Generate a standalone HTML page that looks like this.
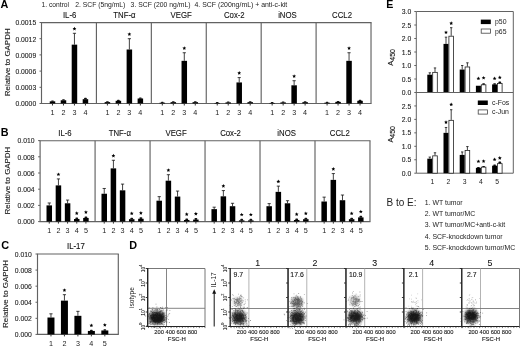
<!DOCTYPE html>
<html><head><meta charset="utf-8"><style>
html,body{margin:0;padding:0;background:#fff;}
svg{display:block;font-family:"Liberation Sans", sans-serif;will-change:transform;filter:blur(0.3px);}
</style></head><body>
<svg width="520" height="346" viewBox="0 0 520 346">
<defs><filter id="bl" x="-50%" y="-50%" width="200%" height="200%"><feGaussianBlur stdDeviation="1.2"/></filter></defs>
<rect width="520" height="346" fill="#fff"/>
<text x="0.50" y="8.20" font-size="10.8" text-anchor="start" font-weight="bold" fill="#000" >A</text>
<text x="0.70" y="135.60" font-size="10.8" text-anchor="start" font-weight="bold" fill="#000" >B</text>
<text x="1.20" y="248.60" font-size="10.9" text-anchor="start" font-weight="bold" fill="#000" >C</text>
<text x="129.30" y="248.60" font-size="10.8" text-anchor="start" font-weight="bold" fill="#000" >D</text>
<text x="386.20" y="8.30" font-size="10.6" text-anchor="start" font-weight="bold" fill="#000" >E</text>
<text x="41.50" y="7.30" font-size="6.7" text-anchor="start" font-weight="normal" fill="#222" textLength="27.6" lengthAdjust="spacingAndGlyphs">1. control</text>
<text x="75.20" y="7.30" font-size="6.7" text-anchor="start" font-weight="normal" fill="#222" textLength="50.2" lengthAdjust="spacingAndGlyphs">2. SCF (5ng/mL)</text>
<text x="130.60" y="7.30" font-size="6.7" text-anchor="start" font-weight="normal" fill="#222" textLength="60" lengthAdjust="spacingAndGlyphs">3. SCF (200 ng/mL)</text>
<text x="194.50" y="7.30" font-size="6.7" text-anchor="start" font-weight="normal" fill="#222" textLength="92.8" lengthAdjust="spacingAndGlyphs">4. SCF (200ng/mL) + anti-c-kit</text>
<line x1="41.00" y1="22.60" x2="371.52" y2="22.60" stroke="#626262" stroke-width="1.15"/>
<line x1="41.00" y1="103.50" x2="371.52" y2="103.50" stroke="#626262" stroke-width="1.15"/>
<line x1="41.50" y1="22.60" x2="41.50" y2="103.50" stroke="#626262" stroke-width="1.15"/>
<line x1="96.42" y1="22.60" x2="96.42" y2="103.50" stroke="#626262" stroke-width="1.15"/>
<line x1="151.34" y1="22.60" x2="151.34" y2="103.50" stroke="#626262" stroke-width="1.15"/>
<line x1="206.26" y1="22.60" x2="206.26" y2="103.50" stroke="#626262" stroke-width="1.15"/>
<line x1="261.18" y1="22.60" x2="261.18" y2="103.50" stroke="#626262" stroke-width="1.15"/>
<line x1="316.10" y1="22.60" x2="316.10" y2="103.50" stroke="#626262" stroke-width="1.15"/>
<line x1="371.02" y1="22.60" x2="371.02" y2="103.50" stroke="#626262" stroke-width="1.15"/>
<line x1="39.50" y1="22.50" x2="41.50" y2="22.50" stroke="#626262" stroke-width="1"/>
<text x="36.20" y="25.30" font-size="6.8" text-anchor="end" font-weight="normal" fill="#222" stroke="#222" stroke-width="0.1">0.0015</text>
<line x1="39.50" y1="38.70" x2="41.50" y2="38.70" stroke="#626262" stroke-width="1"/>
<text x="36.20" y="41.50" font-size="6.8" text-anchor="end" font-weight="normal" fill="#222" stroke="#222" stroke-width="0.1">0.0012</text>
<line x1="39.50" y1="54.90" x2="41.50" y2="54.90" stroke="#626262" stroke-width="1"/>
<text x="36.20" y="57.70" font-size="6.8" text-anchor="end" font-weight="normal" fill="#222" stroke="#222" stroke-width="0.1">0.0009</text>
<line x1="39.50" y1="71.10" x2="41.50" y2="71.10" stroke="#626262" stroke-width="1"/>
<text x="36.20" y="73.90" font-size="6.8" text-anchor="end" font-weight="normal" fill="#222" stroke="#222" stroke-width="0.1">0.0006</text>
<line x1="39.50" y1="87.30" x2="41.50" y2="87.30" stroke="#626262" stroke-width="1"/>
<text x="36.20" y="90.10" font-size="6.8" text-anchor="end" font-weight="normal" fill="#222" stroke="#222" stroke-width="0.1">0.0003</text>
<line x1="39.50" y1="103.50" x2="41.50" y2="103.50" stroke="#626262" stroke-width="1"/>
<text x="36.20" y="106.30" font-size="6.8" text-anchor="end" font-weight="normal" fill="#222" stroke="#222" stroke-width="0.1">0.0000</text>
<text transform="translate(69.66,18.40) scale(0.867,1)" font-size="9.0" text-anchor="middle" fill="#111" stroke="#111" stroke-width="0.1">IL-6</text>
<rect x="49.73" y="101.34" width="5.50" height="2.16" fill="#000" stroke="none" stroke-width="0"/>
<rect x="51.08" y="100.39" width="2.8" height="1.25" rx="0.8" fill="#111"/>
<text x="52.48" y="114.80" font-size="7.2" text-anchor="middle" font-weight="normal" fill="#222" >1</text>
<line x1="52.48" y1="103.50" x2="52.48" y2="105.50" stroke="#333" stroke-width="1.0"/>
<rect x="60.72" y="100.26" width="5.50" height="3.24" fill="#000" stroke="none" stroke-width="0"/>
<rect x="62.07" y="99.31" width="2.8" height="1.25" rx="0.8" fill="#111"/>
<text x="63.47" y="114.80" font-size="7.2" text-anchor="middle" font-weight="normal" fill="#222" >2</text>
<line x1="63.47" y1="103.50" x2="63.47" y2="105.50" stroke="#333" stroke-width="1.0"/>
<rect x="71.70" y="44.64" width="5.50" height="58.86" fill="#000" stroke="none" stroke-width="0"/>
<line x1="74.45" y1="44.64" x2="74.45" y2="33.30" stroke="#111" stroke-width="0.8"/>
<line x1="72.85" y1="33.30" x2="76.05" y2="33.30" stroke="#111" stroke-width="0.8"/>
<polygon points="74.45,26.80 75.01,28.03 76.35,28.18 75.36,29.09 75.63,30.42 74.45,29.75 73.28,30.42 73.55,29.09 72.55,28.18 73.89,28.03" fill="#000"/>
<text x="74.45" y="114.80" font-size="7.2" text-anchor="middle" font-weight="normal" fill="#222" >3</text>
<line x1="74.45" y1="103.50" x2="74.45" y2="105.50" stroke="#333" stroke-width="1.0"/>
<rect x="82.69" y="99.18" width="5.50" height="4.32" fill="#000" stroke="none" stroke-width="0"/>
<rect x="84.04" y="97.80" width="2.8" height="1.68" rx="0.8" fill="#111"/>
<text x="85.44" y="114.80" font-size="7.2" text-anchor="middle" font-weight="normal" fill="#222" >4</text>
<line x1="85.44" y1="103.50" x2="85.44" y2="105.50" stroke="#333" stroke-width="1.0"/>
<text transform="translate(124.48,18.40) scale(0.867,1)" font-size="9.0" text-anchor="middle" fill="#111" stroke="#111" stroke-width="0.1">TNF-α</text>
<rect x="104.65" y="102.10" width="5.50" height="1.40" fill="#000" stroke="none" stroke-width="0"/>
<rect x="106.00" y="101.15" width="2.8" height="1.25" rx="0.8" fill="#111"/>
<text x="107.40" y="114.80" font-size="7.2" text-anchor="middle" font-weight="normal" fill="#222" >1</text>
<line x1="107.40" y1="103.50" x2="107.40" y2="105.50" stroke="#333" stroke-width="1.0"/>
<rect x="115.64" y="100.80" width="5.50" height="2.70" fill="#000" stroke="none" stroke-width="0"/>
<rect x="116.99" y="99.85" width="2.8" height="1.25" rx="0.8" fill="#111"/>
<text x="118.39" y="114.80" font-size="7.2" text-anchor="middle" font-weight="normal" fill="#222" >2</text>
<line x1="118.39" y1="103.50" x2="118.39" y2="105.50" stroke="#333" stroke-width="1.0"/>
<rect x="126.62" y="49.50" width="5.50" height="54.00" fill="#000" stroke="none" stroke-width="0"/>
<line x1="129.37" y1="49.50" x2="129.37" y2="38.70" stroke="#111" stroke-width="0.8"/>
<line x1="127.77" y1="38.70" x2="130.97" y2="38.70" stroke="#111" stroke-width="0.8"/>
<polygon points="129.37,32.20 129.93,33.43 131.27,33.58 130.28,34.49 130.55,35.82 129.37,35.15 128.20,35.82 128.47,34.49 127.47,33.58 128.81,33.43" fill="#000"/>
<text x="129.37" y="114.80" font-size="7.2" text-anchor="middle" font-weight="normal" fill="#222" >3</text>
<line x1="129.37" y1="103.50" x2="129.37" y2="105.50" stroke="#333" stroke-width="1.0"/>
<rect x="137.61" y="98.48" width="5.50" height="5.02" fill="#000" stroke="none" stroke-width="0"/>
<rect x="138.96" y="97.53" width="2.8" height="1.25" rx="0.8" fill="#111"/>
<text x="140.36" y="114.80" font-size="7.2" text-anchor="middle" font-weight="normal" fill="#222" >4</text>
<line x1="140.36" y1="103.50" x2="140.36" y2="105.50" stroke="#333" stroke-width="1.0"/>
<text transform="translate(181.20,18.40) scale(0.867,1)" font-size="9.0" text-anchor="middle" fill="#111" stroke="#111" stroke-width="0.1">VEGF</text>
<rect x="159.57" y="102.69" width="5.50" height="0.81" fill="#000" stroke="none" stroke-width="0"/>
<rect x="160.92" y="101.74" width="2.8" height="1.25" rx="0.8" fill="#111"/>
<text x="162.32" y="114.80" font-size="7.2" text-anchor="middle" font-weight="normal" fill="#222" >1</text>
<line x1="162.32" y1="103.50" x2="162.32" y2="105.50" stroke="#333" stroke-width="1.0"/>
<rect x="170.56" y="102.15" width="5.50" height="1.35" fill="#000" stroke="none" stroke-width="0"/>
<rect x="171.91" y="101.20" width="2.8" height="1.25" rx="0.8" fill="#111"/>
<text x="173.31" y="114.80" font-size="7.2" text-anchor="middle" font-weight="normal" fill="#222" >2</text>
<line x1="173.31" y1="103.50" x2="173.31" y2="105.50" stroke="#333" stroke-width="1.0"/>
<rect x="181.54" y="60.84" width="5.50" height="42.66" fill="#000" stroke="none" stroke-width="0"/>
<line x1="184.29" y1="60.84" x2="184.29" y2="52.74" stroke="#111" stroke-width="0.8"/>
<line x1="182.69" y1="52.74" x2="185.89" y2="52.74" stroke="#111" stroke-width="0.8"/>
<polygon points="184.29,46.24 184.85,47.47 186.19,47.62 185.20,48.53 185.47,49.86 184.29,49.19 183.12,49.86 183.39,48.53 182.39,47.62 183.73,47.47" fill="#000"/>
<text x="184.29" y="114.80" font-size="7.2" text-anchor="middle" font-weight="normal" fill="#222" >3</text>
<line x1="184.29" y1="103.50" x2="184.29" y2="105.50" stroke="#333" stroke-width="1.0"/>
<rect x="192.53" y="102.15" width="5.50" height="1.35" fill="#000" stroke="none" stroke-width="0"/>
<rect x="193.88" y="101.20" width="2.8" height="1.25" rx="0.8" fill="#111"/>
<text x="195.28" y="114.80" font-size="7.2" text-anchor="middle" font-weight="normal" fill="#222" >4</text>
<line x1="195.28" y1="103.50" x2="195.28" y2="105.50" stroke="#333" stroke-width="1.0"/>
<text transform="translate(234.32,18.40) scale(0.867,1)" font-size="9.0" text-anchor="middle" fill="#111" stroke="#111" stroke-width="0.1">Cox-2</text>
<rect x="214.49" y="102.96" width="5.50" height="0.54" fill="#000" stroke="none" stroke-width="0"/>
<rect x="215.84" y="102.01" width="2.8" height="1.25" rx="0.8" fill="#111"/>
<text x="217.24" y="114.80" font-size="7.2" text-anchor="middle" font-weight="normal" fill="#222" >1</text>
<line x1="217.24" y1="103.50" x2="217.24" y2="105.50" stroke="#333" stroke-width="1.0"/>
<rect x="225.48" y="102.42" width="5.50" height="1.08" fill="#000" stroke="none" stroke-width="0"/>
<rect x="226.83" y="101.47" width="2.8" height="1.25" rx="0.8" fill="#111"/>
<text x="228.23" y="114.80" font-size="7.2" text-anchor="middle" font-weight="normal" fill="#222" >2</text>
<line x1="228.23" y1="103.50" x2="228.23" y2="105.50" stroke="#333" stroke-width="1.0"/>
<rect x="236.46" y="82.44" width="5.50" height="21.06" fill="#000" stroke="none" stroke-width="0"/>
<line x1="239.21" y1="82.44" x2="239.21" y2="77.58" stroke="#111" stroke-width="0.8"/>
<line x1="237.61" y1="77.58" x2="240.81" y2="77.58" stroke="#111" stroke-width="0.8"/>
<polygon points="239.21,71.08 239.77,72.31 241.11,72.46 240.12,73.37 240.39,74.70 239.21,74.03 238.04,74.70 238.31,73.37 237.31,72.46 238.65,72.31" fill="#000"/>
<text x="239.21" y="114.80" font-size="7.2" text-anchor="middle" font-weight="normal" fill="#222" >3</text>
<line x1="239.21" y1="103.50" x2="239.21" y2="105.50" stroke="#333" stroke-width="1.0"/>
<rect x="247.45" y="102.15" width="5.50" height="1.35" fill="#000" stroke="none" stroke-width="0"/>
<rect x="248.80" y="101.20" width="2.8" height="1.25" rx="0.8" fill="#111"/>
<text x="250.20" y="114.80" font-size="7.2" text-anchor="middle" font-weight="normal" fill="#222" >4</text>
<line x1="250.20" y1="103.50" x2="250.20" y2="105.50" stroke="#333" stroke-width="1.0"/>
<text transform="translate(287.44,18.40) scale(0.867,1)" font-size="9.0" text-anchor="middle" fill="#111" stroke="#111" stroke-width="0.1">iNOS</text>
<rect x="269.41" y="102.96" width="5.50" height="0.54" fill="#000" stroke="none" stroke-width="0"/>
<rect x="270.76" y="102.01" width="2.8" height="1.25" rx="0.8" fill="#111"/>
<text x="272.16" y="114.80" font-size="7.2" text-anchor="middle" font-weight="normal" fill="#222" >1</text>
<line x1="272.16" y1="103.50" x2="272.16" y2="105.50" stroke="#333" stroke-width="1.0"/>
<rect x="280.40" y="102.42" width="5.50" height="1.08" fill="#000" stroke="none" stroke-width="0"/>
<rect x="281.75" y="101.47" width="2.8" height="1.25" rx="0.8" fill="#111"/>
<text x="283.15" y="114.80" font-size="7.2" text-anchor="middle" font-weight="normal" fill="#222" >2</text>
<line x1="283.15" y1="103.50" x2="283.15" y2="105.50" stroke="#333" stroke-width="1.0"/>
<rect x="291.38" y="85.30" width="5.50" height="18.20" fill="#000" stroke="none" stroke-width="0"/>
<line x1="294.13" y1="85.30" x2="294.13" y2="80.71" stroke="#111" stroke-width="0.8"/>
<line x1="292.53" y1="80.71" x2="295.73" y2="80.71" stroke="#111" stroke-width="0.8"/>
<polygon points="294.13,74.21 294.69,75.44 296.03,75.59 295.04,76.51 295.31,77.83 294.13,77.16 292.96,77.83 293.23,76.51 292.23,75.59 293.57,75.44" fill="#000"/>
<text x="294.13" y="114.80" font-size="7.2" text-anchor="middle" font-weight="normal" fill="#222" >3</text>
<line x1="294.13" y1="103.50" x2="294.13" y2="105.50" stroke="#333" stroke-width="1.0"/>
<rect x="302.37" y="102.15" width="5.50" height="1.35" fill="#000" stroke="none" stroke-width="0"/>
<rect x="303.72" y="101.20" width="2.8" height="1.25" rx="0.8" fill="#111"/>
<text x="305.12" y="114.80" font-size="7.2" text-anchor="middle" font-weight="normal" fill="#222" >4</text>
<line x1="305.12" y1="103.50" x2="305.12" y2="105.50" stroke="#333" stroke-width="1.0"/>
<text transform="translate(342.06,18.40) scale(0.867,1)" font-size="9.0" text-anchor="middle" fill="#111" stroke="#111" stroke-width="0.1">CCL2</text>
<rect x="324.33" y="102.69" width="5.50" height="0.81" fill="#000" stroke="none" stroke-width="0"/>
<rect x="325.68" y="101.74" width="2.8" height="1.25" rx="0.8" fill="#111"/>
<text x="327.08" y="114.80" font-size="7.2" text-anchor="middle" font-weight="normal" fill="#222" >1</text>
<line x1="327.08" y1="103.50" x2="327.08" y2="105.50" stroke="#333" stroke-width="1.0"/>
<rect x="335.32" y="101.88" width="5.50" height="1.62" fill="#000" stroke="none" stroke-width="0"/>
<rect x="336.67" y="100.93" width="2.8" height="1.25" rx="0.8" fill="#111"/>
<text x="338.07" y="114.80" font-size="7.2" text-anchor="middle" font-weight="normal" fill="#222" >2</text>
<line x1="338.07" y1="103.50" x2="338.07" y2="105.50" stroke="#333" stroke-width="1.0"/>
<rect x="346.30" y="60.84" width="5.50" height="42.66" fill="#000" stroke="none" stroke-width="0"/>
<line x1="349.05" y1="60.84" x2="349.05" y2="52.74" stroke="#111" stroke-width="0.8"/>
<line x1="347.45" y1="52.74" x2="350.65" y2="52.74" stroke="#111" stroke-width="0.8"/>
<polygon points="349.05,46.24 349.61,47.47 350.95,47.62 349.96,48.53 350.23,49.86 349.05,49.19 347.88,49.86 348.15,48.53 347.15,47.62 348.49,47.47" fill="#000"/>
<text x="349.05" y="114.80" font-size="7.2" text-anchor="middle" font-weight="normal" fill="#222" >3</text>
<line x1="349.05" y1="103.50" x2="349.05" y2="105.50" stroke="#333" stroke-width="1.0"/>
<rect x="357.29" y="100.80" width="5.50" height="2.70" fill="#000" stroke="none" stroke-width="0"/>
<rect x="358.64" y="99.85" width="2.8" height="1.25" rx="0.8" fill="#111"/>
<text x="360.04" y="114.80" font-size="7.2" text-anchor="middle" font-weight="normal" fill="#222" >4</text>
<line x1="360.04" y1="103.50" x2="360.04" y2="105.50" stroke="#333" stroke-width="1.0"/>
<text x="0.00" y="0.00" font-size="1" text-anchor="start" font-weight="normal" fill="#222" ></text>
<text transform="translate(9.7,62.3) rotate(-90) scale(1.25,1)" font-size="6.35" text-anchor="middle" fill="#222" stroke="#222" stroke-width="0.1">Relative to GAPDH</text>
<line x1="39.60" y1="140.70" x2="370.48" y2="140.70" stroke="#626262" stroke-width="1.15"/>
<line x1="39.60" y1="221.60" x2="370.48" y2="221.60" stroke="#626262" stroke-width="1.15"/>
<line x1="40.10" y1="140.70" x2="40.10" y2="221.60" stroke="#626262" stroke-width="1.15"/>
<line x1="95.08" y1="140.70" x2="95.08" y2="221.60" stroke="#626262" stroke-width="1.15"/>
<line x1="150.06" y1="140.70" x2="150.06" y2="221.60" stroke="#626262" stroke-width="1.15"/>
<line x1="205.04" y1="140.70" x2="205.04" y2="221.60" stroke="#626262" stroke-width="1.15"/>
<line x1="260.02" y1="140.70" x2="260.02" y2="221.60" stroke="#626262" stroke-width="1.15"/>
<line x1="315.00" y1="140.70" x2="315.00" y2="221.60" stroke="#626262" stroke-width="1.15"/>
<line x1="369.98" y1="140.70" x2="369.98" y2="221.60" stroke="#626262" stroke-width="1.15"/>
<line x1="38.10" y1="140.60" x2="40.10" y2="140.60" stroke="#626262" stroke-width="1"/>
<text x="34.60" y="143.40" font-size="6.8" text-anchor="end" font-weight="normal" fill="#222" stroke="#222" stroke-width="0.1">0.010</text>
<line x1="38.10" y1="156.80" x2="40.10" y2="156.80" stroke="#626262" stroke-width="1"/>
<text x="34.60" y="159.60" font-size="6.8" text-anchor="end" font-weight="normal" fill="#222" stroke="#222" stroke-width="0.1">0.008</text>
<line x1="38.10" y1="173.00" x2="40.10" y2="173.00" stroke="#626262" stroke-width="1"/>
<text x="34.60" y="175.80" font-size="6.8" text-anchor="end" font-weight="normal" fill="#222" stroke="#222" stroke-width="0.1">0.006</text>
<line x1="38.10" y1="189.20" x2="40.10" y2="189.20" stroke="#626262" stroke-width="1"/>
<text x="34.60" y="192.00" font-size="6.8" text-anchor="end" font-weight="normal" fill="#222" stroke="#222" stroke-width="0.1">0.004</text>
<line x1="38.10" y1="205.40" x2="40.10" y2="205.40" stroke="#626262" stroke-width="1"/>
<text x="34.60" y="208.20" font-size="6.8" text-anchor="end" font-weight="normal" fill="#222" stroke="#222" stroke-width="0.1">0.002</text>
<line x1="38.10" y1="221.60" x2="40.10" y2="221.60" stroke="#626262" stroke-width="1"/>
<text x="34.60" y="224.40" font-size="6.8" text-anchor="end" font-weight="normal" fill="#222" stroke="#222" stroke-width="0.1">0.000</text>
<text transform="translate(64.99,135.90) scale(0.867,1)" font-size="9.0" text-anchor="middle" fill="#111" stroke="#111" stroke-width="0.1">IL-6</text>
<rect x="46.51" y="205.40" width="5.50" height="16.20" fill="#000" stroke="none" stroke-width="0"/>
<line x1="49.26" y1="205.40" x2="49.26" y2="202.97" stroke="#111" stroke-width="0.8"/>
<line x1="47.66" y1="202.97" x2="50.86" y2="202.97" stroke="#111" stroke-width="0.8"/>
<text x="49.26" y="233.20" font-size="7.2" text-anchor="middle" font-weight="normal" fill="#222" >1</text>
<line x1="49.26" y1="221.60" x2="49.26" y2="223.60" stroke="#333" stroke-width="1.0"/>
<rect x="55.68" y="185.39" width="5.50" height="36.21" fill="#000" stroke="none" stroke-width="0"/>
<line x1="58.43" y1="185.39" x2="58.43" y2="178.91" stroke="#111" stroke-width="0.8"/>
<line x1="56.83" y1="178.91" x2="60.03" y2="178.91" stroke="#111" stroke-width="0.8"/>
<polygon points="58.43,172.41 58.99,173.64 60.33,173.79 59.33,174.71 59.60,176.03 58.43,175.36 57.25,176.03 57.52,174.71 56.52,173.79 57.87,173.64" fill="#000"/>
<text x="58.43" y="233.20" font-size="7.2" text-anchor="middle" font-weight="normal" fill="#222" >2</text>
<line x1="58.43" y1="221.60" x2="58.43" y2="223.60" stroke="#333" stroke-width="1.0"/>
<rect x="64.84" y="203.29" width="5.50" height="18.31" fill="#000" stroke="none" stroke-width="0"/>
<line x1="67.59" y1="203.29" x2="67.59" y2="200.05" stroke="#111" stroke-width="0.8"/>
<line x1="65.99" y1="200.05" x2="69.19" y2="200.05" stroke="#111" stroke-width="0.8"/>
<text x="67.59" y="233.20" font-size="7.2" text-anchor="middle" font-weight="normal" fill="#222" >3</text>
<line x1="67.59" y1="221.60" x2="67.59" y2="223.60" stroke="#333" stroke-width="1.0"/>
<rect x="74.00" y="219.01" width="5.50" height="2.59" fill="#000" stroke="none" stroke-width="0"/>
<rect x="75.35" y="217.49" width="2.8" height="1.81" rx="0.8" fill="#111"/>
<polygon points="76.75,211.29 77.31,212.52 78.66,212.67 77.66,213.59 77.93,214.91 76.75,214.24 75.58,214.91 75.85,213.59 74.85,212.67 76.19,212.52" fill="#000"/>
<text x="76.75" y="233.20" font-size="7.2" text-anchor="middle" font-weight="normal" fill="#222" >4</text>
<line x1="76.75" y1="221.60" x2="76.75" y2="223.60" stroke="#333" stroke-width="1.0"/>
<rect x="83.17" y="217.95" width="5.50" height="3.65" fill="#000" stroke="none" stroke-width="0"/>
<rect x="84.52" y="216.44" width="2.8" height="1.81" rx="0.8" fill="#111"/>
<polygon points="85.92,210.24 86.48,211.47 87.82,211.62 86.82,212.53 87.09,213.86 85.92,213.19 84.74,213.86 85.01,212.53 84.01,211.62 85.36,211.47" fill="#000"/>
<text x="85.92" y="233.20" font-size="7.2" text-anchor="middle" font-weight="normal" fill="#222" >5</text>
<line x1="85.92" y1="221.60" x2="85.92" y2="223.60" stroke="#333" stroke-width="1.0"/>
<text transform="translate(119.77,135.90) scale(0.867,1)" font-size="9.0" text-anchor="middle" fill="#111" stroke="#111" stroke-width="0.1">TNF-α</text>
<rect x="101.49" y="193.74" width="5.50" height="27.86" fill="#000" stroke="none" stroke-width="0"/>
<line x1="104.24" y1="193.74" x2="104.24" y2="188.47" stroke="#111" stroke-width="0.8"/>
<line x1="102.64" y1="188.47" x2="105.84" y2="188.47" stroke="#111" stroke-width="0.8"/>
<text x="104.24" y="233.20" font-size="7.2" text-anchor="middle" font-weight="normal" fill="#222" >1</text>
<line x1="104.24" y1="221.60" x2="104.24" y2="223.60" stroke="#333" stroke-width="1.0"/>
<rect x="110.66" y="168.38" width="5.50" height="53.22" fill="#000" stroke="none" stroke-width="0"/>
<line x1="113.41" y1="168.38" x2="113.41" y2="160.28" stroke="#111" stroke-width="0.8"/>
<line x1="111.81" y1="160.28" x2="115.01" y2="160.28" stroke="#111" stroke-width="0.8"/>
<polygon points="113.41,153.78 113.97,155.01 115.31,155.16 114.31,156.08 114.58,157.40 113.41,156.73 112.23,157.40 112.50,156.08 111.50,155.16 112.85,155.01" fill="#000"/>
<text x="113.41" y="233.20" font-size="7.2" text-anchor="middle" font-weight="normal" fill="#222" >2</text>
<line x1="113.41" y1="221.60" x2="113.41" y2="223.60" stroke="#333" stroke-width="1.0"/>
<rect x="119.82" y="190.33" width="5.50" height="31.27" fill="#000" stroke="none" stroke-width="0"/>
<line x1="122.57" y1="190.33" x2="122.57" y2="184.10" stroke="#111" stroke-width="0.8"/>
<line x1="120.97" y1="184.10" x2="124.17" y2="184.10" stroke="#111" stroke-width="0.8"/>
<text x="122.57" y="233.20" font-size="7.2" text-anchor="middle" font-weight="normal" fill="#222" >3</text>
<line x1="122.57" y1="221.60" x2="122.57" y2="223.60" stroke="#333" stroke-width="1.0"/>
<rect x="128.98" y="219.17" width="5.50" height="2.43" fill="#000" stroke="none" stroke-width="0"/>
<rect x="130.33" y="217.65" width="2.8" height="1.82" rx="0.8" fill="#111"/>
<polygon points="131.73,211.45 132.29,212.69 133.64,212.84 132.64,213.75 132.91,215.07 131.73,214.40 130.56,215.07 130.83,213.75 129.83,212.84 131.17,212.69" fill="#000"/>
<text x="131.73" y="233.20" font-size="7.2" text-anchor="middle" font-weight="normal" fill="#222" >4</text>
<line x1="131.73" y1="221.60" x2="131.73" y2="223.60" stroke="#333" stroke-width="1.0"/>
<rect x="138.15" y="218.76" width="5.50" height="2.83" fill="#000" stroke="none" stroke-width="0"/>
<rect x="139.50" y="217.25" width="2.8" height="1.82" rx="0.8" fill="#111"/>
<polygon points="140.90,211.05 141.46,212.28 142.80,212.43 141.80,213.34 142.07,214.67 140.90,214.00 139.72,214.67 139.99,213.34 138.99,212.43 140.34,212.28" fill="#000"/>
<text x="140.90" y="233.20" font-size="7.2" text-anchor="middle" font-weight="normal" fill="#222" >5</text>
<line x1="140.90" y1="221.60" x2="140.90" y2="223.60" stroke="#333" stroke-width="1.0"/>
<text transform="translate(176.05,135.90) scale(0.867,1)" font-size="9.0" text-anchor="middle" fill="#111" stroke="#111" stroke-width="0.1">VEGF</text>
<rect x="156.47" y="200.70" width="5.50" height="20.90" fill="#000" stroke="none" stroke-width="0"/>
<line x1="159.22" y1="200.70" x2="159.22" y2="196.65" stroke="#111" stroke-width="0.8"/>
<line x1="157.62" y1="196.65" x2="160.82" y2="196.65" stroke="#111" stroke-width="0.8"/>
<text x="159.22" y="233.20" font-size="7.2" text-anchor="middle" font-weight="normal" fill="#222" >1</text>
<line x1="159.22" y1="221.60" x2="159.22" y2="223.60" stroke="#333" stroke-width="1.0"/>
<rect x="165.64" y="180.69" width="5.50" height="40.90" fill="#000" stroke="none" stroke-width="0"/>
<line x1="168.39" y1="180.69" x2="168.39" y2="174.70" stroke="#111" stroke-width="0.8"/>
<line x1="166.79" y1="174.70" x2="169.99" y2="174.70" stroke="#111" stroke-width="0.8"/>
<polygon points="168.39,168.20 168.95,169.43 170.29,169.58 169.29,170.49 169.56,171.82 168.39,171.15 167.21,171.82 167.48,170.49 166.48,169.58 167.83,169.43" fill="#000"/>
<text x="168.39" y="233.20" font-size="7.2" text-anchor="middle" font-weight="normal" fill="#222" >2</text>
<line x1="168.39" y1="221.60" x2="168.39" y2="223.60" stroke="#333" stroke-width="1.0"/>
<rect x="174.80" y="196.57" width="5.50" height="25.03" fill="#000" stroke="none" stroke-width="0"/>
<line x1="177.55" y1="196.57" x2="177.55" y2="191.06" stroke="#111" stroke-width="0.8"/>
<line x1="175.95" y1="191.06" x2="179.15" y2="191.06" stroke="#111" stroke-width="0.8"/>
<text x="177.55" y="233.20" font-size="7.2" text-anchor="middle" font-weight="normal" fill="#222" >3</text>
<line x1="177.55" y1="221.60" x2="177.55" y2="223.60" stroke="#333" stroke-width="1.0"/>
<rect x="183.96" y="219.98" width="5.50" height="1.62" fill="#000" stroke="none" stroke-width="0"/>
<rect x="185.31" y="218.46" width="2.8" height="1.82" rx="0.8" fill="#111"/>
<polygon points="186.71,212.26 187.27,213.50 188.62,213.65 187.62,214.56 187.89,215.88 186.71,215.21 185.54,215.88 185.81,214.56 184.81,213.65 186.15,213.50" fill="#000"/>
<text x="186.71" y="233.20" font-size="7.2" text-anchor="middle" font-weight="normal" fill="#222" >4</text>
<line x1="186.71" y1="221.60" x2="186.71" y2="223.60" stroke="#333" stroke-width="1.0"/>
<rect x="193.13" y="219.57" width="5.50" height="2.02" fill="#000" stroke="none" stroke-width="0"/>
<rect x="194.48" y="218.06" width="2.8" height="1.82" rx="0.8" fill="#111"/>
<polygon points="195.88,211.86 196.44,213.09 197.78,213.24 196.78,214.15 197.05,215.48 195.88,214.81 194.70,215.48 194.97,214.15 193.97,213.24 195.32,213.09" fill="#000"/>
<text x="195.88" y="233.20" font-size="7.2" text-anchor="middle" font-weight="normal" fill="#222" >5</text>
<line x1="195.88" y1="221.60" x2="195.88" y2="223.60" stroke="#333" stroke-width="1.0"/>
<text transform="translate(230.53,135.90) scale(0.867,1)" font-size="9.0" text-anchor="middle" fill="#111" stroke="#111" stroke-width="0.1">Cox-2</text>
<rect x="211.45" y="209.13" width="5.50" height="12.47" fill="#000" stroke="none" stroke-width="0"/>
<line x1="214.20" y1="209.13" x2="214.20" y2="207.18" stroke="#111" stroke-width="0.8"/>
<line x1="212.60" y1="207.18" x2="215.80" y2="207.18" stroke="#111" stroke-width="0.8"/>
<text x="214.20" y="233.20" font-size="7.2" text-anchor="middle" font-weight="normal" fill="#222" >1</text>
<line x1="214.20" y1="221.60" x2="214.20" y2="223.60" stroke="#333" stroke-width="1.0"/>
<rect x="220.62" y="196.33" width="5.50" height="25.27" fill="#000" stroke="none" stroke-width="0"/>
<line x1="223.37" y1="196.33" x2="223.37" y2="190.58" stroke="#111" stroke-width="0.8"/>
<line x1="221.77" y1="190.58" x2="224.97" y2="190.58" stroke="#111" stroke-width="0.8"/>
<polygon points="223.37,184.08 223.93,185.31 225.27,185.46 224.27,186.37 224.54,187.70 223.37,187.03 222.19,187.70 222.46,186.37 221.46,185.46 222.81,185.31" fill="#000"/>
<text x="223.37" y="233.20" font-size="7.2" text-anchor="middle" font-weight="normal" fill="#222" >2</text>
<line x1="223.37" y1="221.60" x2="223.37" y2="223.60" stroke="#333" stroke-width="1.0"/>
<rect x="229.78" y="206.21" width="5.50" height="15.39" fill="#000" stroke="none" stroke-width="0"/>
<line x1="232.53" y1="206.21" x2="232.53" y2="203.29" stroke="#111" stroke-width="0.8"/>
<line x1="230.93" y1="203.29" x2="234.13" y2="203.29" stroke="#111" stroke-width="0.8"/>
<text x="232.53" y="233.20" font-size="7.2" text-anchor="middle" font-weight="normal" fill="#222" >3</text>
<line x1="232.53" y1="221.60" x2="232.53" y2="223.60" stroke="#333" stroke-width="1.0"/>
<rect x="238.94" y="220.38" width="5.50" height="1.21" fill="#000" stroke="none" stroke-width="0"/>
<rect x="240.29" y="218.87" width="2.8" height="1.82" rx="0.8" fill="#111"/>
<polygon points="241.69,212.67 242.25,213.90 243.60,214.05 242.60,214.96 242.87,216.29 241.69,215.62 240.52,216.29 240.79,214.96 239.79,214.05 241.13,213.90" fill="#000"/>
<text x="241.69" y="233.20" font-size="7.2" text-anchor="middle" font-weight="normal" fill="#222" >4</text>
<line x1="241.69" y1="221.60" x2="241.69" y2="223.60" stroke="#333" stroke-width="1.0"/>
<rect x="248.11" y="220.38" width="5.50" height="1.21" fill="#000" stroke="none" stroke-width="0"/>
<rect x="249.46" y="218.87" width="2.8" height="1.82" rx="0.8" fill="#111"/>
<polygon points="250.86,212.67 251.42,213.90 252.76,214.05 251.76,214.96 252.03,216.29 250.86,215.62 249.68,216.29 249.95,214.96 248.95,214.05 250.30,213.90" fill="#000"/>
<text x="250.86" y="233.20" font-size="7.2" text-anchor="middle" font-weight="normal" fill="#222" >5</text>
<line x1="250.86" y1="221.60" x2="250.86" y2="223.60" stroke="#333" stroke-width="1.0"/>
<text transform="translate(286.61,135.90) scale(0.867,1)" font-size="9.0" text-anchor="middle" fill="#111" stroke="#111" stroke-width="0.1">iNOS</text>
<rect x="266.43" y="206.21" width="5.50" height="15.39" fill="#000" stroke="none" stroke-width="0"/>
<line x1="269.18" y1="206.21" x2="269.18" y2="203.62" stroke="#111" stroke-width="0.8"/>
<line x1="267.58" y1="203.62" x2="270.78" y2="203.62" stroke="#111" stroke-width="0.8"/>
<text x="269.18" y="233.20" font-size="7.2" text-anchor="middle" font-weight="normal" fill="#222" >1</text>
<line x1="269.18" y1="221.60" x2="269.18" y2="223.60" stroke="#333" stroke-width="1.0"/>
<rect x="275.60" y="191.87" width="5.50" height="29.73" fill="#000" stroke="none" stroke-width="0"/>
<line x1="278.35" y1="191.87" x2="278.35" y2="186.12" stroke="#111" stroke-width="0.8"/>
<line x1="276.75" y1="186.12" x2="279.95" y2="186.12" stroke="#111" stroke-width="0.8"/>
<polygon points="278.35,179.62 278.91,180.85 280.25,181.00 279.25,181.92 279.52,183.24 278.35,182.57 277.17,183.24 277.44,181.92 276.44,181.00 277.79,180.85" fill="#000"/>
<text x="278.35" y="233.20" font-size="7.2" text-anchor="middle" font-weight="normal" fill="#222" >2</text>
<line x1="278.35" y1="221.60" x2="278.35" y2="223.60" stroke="#333" stroke-width="1.0"/>
<rect x="284.76" y="203.29" width="5.50" height="18.31" fill="#000" stroke="none" stroke-width="0"/>
<line x1="287.51" y1="203.29" x2="287.51" y2="200.70" stroke="#111" stroke-width="0.8"/>
<line x1="285.91" y1="200.70" x2="289.11" y2="200.70" stroke="#111" stroke-width="0.8"/>
<text x="287.51" y="233.20" font-size="7.2" text-anchor="middle" font-weight="normal" fill="#222" >3</text>
<line x1="287.51" y1="221.60" x2="287.51" y2="223.60" stroke="#333" stroke-width="1.0"/>
<rect x="293.92" y="219.98" width="5.50" height="1.62" fill="#000" stroke="none" stroke-width="0"/>
<rect x="295.27" y="218.46" width="2.8" height="1.82" rx="0.8" fill="#111"/>
<polygon points="296.67,212.26 297.23,213.50 298.58,213.65 297.58,214.56 297.85,215.88 296.67,215.21 295.50,215.88 295.77,214.56 294.77,213.65 296.11,213.50" fill="#000"/>
<text x="296.67" y="233.20" font-size="7.2" text-anchor="middle" font-weight="normal" fill="#222" >4</text>
<line x1="296.67" y1="221.60" x2="296.67" y2="223.60" stroke="#333" stroke-width="1.0"/>
<rect x="303.09" y="219.17" width="5.50" height="2.43" fill="#000" stroke="none" stroke-width="0"/>
<rect x="304.44" y="217.65" width="2.8" height="1.82" rx="0.8" fill="#111"/>
<polygon points="305.84,211.45 306.40,212.69 307.74,212.84 306.74,213.75 307.01,215.07 305.84,214.40 304.66,215.07 304.93,213.75 303.93,212.84 305.28,212.69" fill="#000"/>
<text x="305.84" y="233.20" font-size="7.2" text-anchor="middle" font-weight="normal" fill="#222" >5</text>
<line x1="305.84" y1="221.60" x2="305.84" y2="223.60" stroke="#333" stroke-width="1.0"/>
<text transform="translate(339.79,135.90) scale(0.867,1)" font-size="9.0" text-anchor="middle" fill="#111" stroke="#111" stroke-width="0.1">CCL2</text>
<rect x="321.41" y="201.51" width="5.50" height="20.09" fill="#000" stroke="none" stroke-width="0"/>
<line x1="324.16" y1="201.51" x2="324.16" y2="197.14" stroke="#111" stroke-width="0.8"/>
<line x1="322.56" y1="197.14" x2="325.76" y2="197.14" stroke="#111" stroke-width="0.8"/>
<text x="324.16" y="233.20" font-size="7.2" text-anchor="middle" font-weight="normal" fill="#222" >1</text>
<line x1="324.16" y1="221.60" x2="324.16" y2="223.60" stroke="#333" stroke-width="1.0"/>
<rect x="330.58" y="179.88" width="5.50" height="41.72" fill="#000" stroke="none" stroke-width="0"/>
<line x1="333.33" y1="179.88" x2="333.33" y2="173.57" stroke="#111" stroke-width="0.8"/>
<line x1="331.73" y1="173.57" x2="334.93" y2="173.57" stroke="#111" stroke-width="0.8"/>
<polygon points="333.33,167.07 333.89,168.30 335.23,168.45 334.23,169.36 334.50,170.69 333.33,170.02 332.15,170.69 332.42,169.36 331.42,168.45 332.77,168.30" fill="#000"/>
<text x="333.33" y="233.20" font-size="7.2" text-anchor="middle" font-weight="normal" fill="#222" >2</text>
<line x1="333.33" y1="221.60" x2="333.33" y2="223.60" stroke="#333" stroke-width="1.0"/>
<rect x="339.74" y="200.22" width="5.50" height="21.38" fill="#000" stroke="none" stroke-width="0"/>
<line x1="342.49" y1="200.22" x2="342.49" y2="195.03" stroke="#111" stroke-width="0.8"/>
<line x1="340.89" y1="195.03" x2="344.09" y2="195.03" stroke="#111" stroke-width="0.8"/>
<text x="342.49" y="233.20" font-size="7.2" text-anchor="middle" font-weight="normal" fill="#222" >3</text>
<line x1="342.49" y1="221.60" x2="342.49" y2="223.60" stroke="#333" stroke-width="1.0"/>
<rect x="348.90" y="219.17" width="5.50" height="2.43" fill="#000" stroke="none" stroke-width="0"/>
<rect x="350.25" y="217.65" width="2.8" height="1.82" rx="0.8" fill="#111"/>
<polygon points="351.65,211.45 352.21,212.69 353.56,212.84 352.56,213.75 352.83,215.07 351.65,214.40 350.48,215.07 350.75,213.75 349.75,212.84 351.09,212.69" fill="#000"/>
<text x="351.65" y="233.20" font-size="7.2" text-anchor="middle" font-weight="normal" fill="#222" >4</text>
<line x1="351.65" y1="221.60" x2="351.65" y2="223.60" stroke="#333" stroke-width="1.0"/>
<rect x="358.07" y="217.39" width="5.50" height="4.21" fill="#000" stroke="none" stroke-width="0"/>
<rect x="359.42" y="215.87" width="2.8" height="1.82" rx="0.8" fill="#111"/>
<polygon points="360.82,209.67 361.38,210.90 362.72,211.05 361.72,211.97 361.99,213.29 360.82,212.62 359.64,213.29 359.91,211.97 358.91,211.05 360.26,210.90" fill="#000"/>
<text x="360.82" y="233.20" font-size="7.2" text-anchor="middle" font-weight="normal" fill="#222" >5</text>
<line x1="360.82" y1="221.60" x2="360.82" y2="223.60" stroke="#333" stroke-width="1.0"/>
<text transform="translate(9.7,180.6) rotate(-90) scale(1.25,1)" font-size="6.35" text-anchor="middle" fill="#222" stroke="#222" stroke-width="0.1">Relative to GAPDH</text>
<line x1="37.00" y1="254.00" x2="118.80" y2="254.00" stroke="#626262" stroke-width="1.15"/>
<line x1="37.00" y1="334.40" x2="118.80" y2="334.40" stroke="#626262" stroke-width="1.15"/>
<line x1="37.50" y1="254.00" x2="37.50" y2="334.40" stroke="#626262" stroke-width="1.15"/>
<line x1="118.30" y1="254.00" x2="118.30" y2="334.40" stroke="#626262" stroke-width="1.15"/>
<line x1="35.50" y1="254.00" x2="37.50" y2="254.00" stroke="#626262" stroke-width="1"/>
<text x="31.80" y="256.80" font-size="6.8" text-anchor="end" font-weight="normal" fill="#222" stroke="#222" stroke-width="0.1">0.010</text>
<line x1="35.50" y1="270.08" x2="37.50" y2="270.08" stroke="#626262" stroke-width="1"/>
<text x="31.80" y="272.88" font-size="6.8" text-anchor="end" font-weight="normal" fill="#222" stroke="#222" stroke-width="0.1">0.008</text>
<line x1="35.50" y1="286.16" x2="37.50" y2="286.16" stroke="#626262" stroke-width="1"/>
<text x="31.80" y="288.96" font-size="6.8" text-anchor="end" font-weight="normal" fill="#222" stroke="#222" stroke-width="0.1">0.006</text>
<line x1="35.50" y1="302.24" x2="37.50" y2="302.24" stroke="#626262" stroke-width="1"/>
<text x="31.80" y="305.04" font-size="6.8" text-anchor="end" font-weight="normal" fill="#222" stroke="#222" stroke-width="0.1">0.004</text>
<line x1="35.50" y1="318.32" x2="37.50" y2="318.32" stroke="#626262" stroke-width="1"/>
<text x="31.80" y="321.12" font-size="6.8" text-anchor="end" font-weight="normal" fill="#222" stroke="#222" stroke-width="0.1">0.002</text>
<line x1="35.50" y1="334.40" x2="37.50" y2="334.40" stroke="#626262" stroke-width="1"/>
<text x="31.80" y="337.20" font-size="6.8" text-anchor="end" font-weight="normal" fill="#222" stroke="#222" stroke-width="0.1">0.000</text>
<text transform="translate(75.90,249.20) scale(0.867,1)" font-size="9.0" text-anchor="middle" fill="#111" stroke="#111" stroke-width="0.14">IL-17</text>
<rect x="47.47" y="317.52" width="7.00" height="16.88" fill="#000" stroke="none" stroke-width="0"/>
<line x1="50.97" y1="317.52" x2="50.97" y2="313.82" stroke="#111" stroke-width="0.8"/>
<line x1="49.37" y1="313.82" x2="52.57" y2="313.82" stroke="#111" stroke-width="0.8"/>
<text x="50.97" y="345.60" font-size="7.2" text-anchor="middle" font-weight="normal" fill="#222" >1</text>
<line x1="50.97" y1="334.40" x2="50.97" y2="336.40" stroke="#333" stroke-width="1.0"/>
<rect x="60.93" y="300.63" width="7.00" height="33.77" fill="#000" stroke="none" stroke-width="0"/>
<line x1="64.43" y1="300.63" x2="64.43" y2="294.68" stroke="#111" stroke-width="0.8"/>
<line x1="62.83" y1="294.68" x2="66.03" y2="294.68" stroke="#111" stroke-width="0.8"/>
<polygon points="64.43,288.18 64.99,289.41 66.34,289.56 65.34,290.48 65.61,291.80 64.43,291.13 63.26,291.80 63.53,290.48 62.53,289.56 63.87,289.41" fill="#000"/>
<text x="64.43" y="345.60" font-size="7.2" text-anchor="middle" font-weight="normal" fill="#222" >2</text>
<line x1="64.43" y1="334.40" x2="64.43" y2="336.40" stroke="#333" stroke-width="1.0"/>
<rect x="74.40" y="315.83" width="7.00" height="18.57" fill="#000" stroke="none" stroke-width="0"/>
<line x1="77.90" y1="315.83" x2="77.90" y2="311.33" stroke="#111" stroke-width="0.8"/>
<line x1="76.30" y1="311.33" x2="79.50" y2="311.33" stroke="#111" stroke-width="0.8"/>
<text x="77.90" y="345.60" font-size="7.2" text-anchor="middle" font-weight="normal" fill="#222" >3</text>
<line x1="77.90" y1="334.40" x2="77.90" y2="336.40" stroke="#333" stroke-width="1.0"/>
<rect x="87.87" y="330.94" width="7.00" height="3.46" fill="#000" stroke="none" stroke-width="0"/>
<rect x="89.97" y="329.68" width="2.8" height="1.56" rx="0.8" fill="#111"/>
<polygon points="91.37,323.48 91.93,324.71 93.27,324.86 92.27,325.77 92.54,327.10 91.37,326.43 90.19,327.10 90.46,325.77 89.46,324.86 90.81,324.71" fill="#000"/>
<text x="91.37" y="345.60" font-size="7.2" text-anchor="middle" font-weight="normal" fill="#222" >4</text>
<line x1="91.37" y1="334.40" x2="91.37" y2="336.40" stroke="#333" stroke-width="1.0"/>
<rect x="101.33" y="330.46" width="7.00" height="3.94" fill="#000" stroke="none" stroke-width="0"/>
<rect x="103.43" y="329.20" width="2.8" height="1.56" rx="0.8" fill="#111"/>
<polygon points="104.83,323.00 105.39,324.23 106.74,324.38 105.74,325.29 106.01,326.61 104.83,325.95 103.66,326.61 103.93,325.29 102.93,324.38 104.27,324.23" fill="#000"/>
<text x="104.83" y="345.60" font-size="7.2" text-anchor="middle" font-weight="normal" fill="#222" >5</text>
<line x1="104.83" y1="334.40" x2="104.83" y2="336.40" stroke="#333" stroke-width="1.0"/>
<text transform="translate(7.8,294) rotate(-90) scale(1.25,1)" font-size="6.35" text-anchor="middle" fill="#222" stroke="#222" stroke-width="0.1">Relative to GAPDH</text>
<line x1="416.30" y1="11.50" x2="513.30" y2="11.50" stroke="#626262" stroke-width="1"/>
<line x1="416.30" y1="92.50" x2="513.30" y2="92.50" stroke="#626262" stroke-width="1"/>
<line x1="416.30" y1="11.50" x2="416.30" y2="92.50" stroke="#626262" stroke-width="1"/>
<line x1="513.30" y1="11.50" x2="513.30" y2="92.50" stroke="#626262" stroke-width="1"/>
<line x1="414.30" y1="92.50" x2="416.30" y2="92.50" stroke="#626262" stroke-width="1"/>
<text x="411.20" y="95.10" font-size="6.8" text-anchor="end" font-weight="normal" fill="#222" stroke="#222" stroke-width="0.1">0.0</text>
<line x1="414.30" y1="79.00" x2="416.30" y2="79.00" stroke="#626262" stroke-width="1"/>
<text x="411.20" y="81.60" font-size="6.8" text-anchor="end" font-weight="normal" fill="#222" stroke="#222" stroke-width="0.1">0.5</text>
<line x1="414.30" y1="65.50" x2="416.30" y2="65.50" stroke="#626262" stroke-width="1"/>
<text x="411.20" y="68.10" font-size="6.8" text-anchor="end" font-weight="normal" fill="#222" stroke="#222" stroke-width="0.1">1.0</text>
<line x1="414.30" y1="52.00" x2="416.30" y2="52.00" stroke="#626262" stroke-width="1"/>
<text x="411.20" y="54.60" font-size="6.8" text-anchor="end" font-weight="normal" fill="#222" stroke="#222" stroke-width="0.1">1.5</text>
<line x1="414.30" y1="38.50" x2="416.30" y2="38.50" stroke="#626262" stroke-width="1"/>
<text x="411.20" y="41.10" font-size="6.8" text-anchor="end" font-weight="normal" fill="#222" stroke="#222" stroke-width="0.1">2.0</text>
<line x1="414.30" y1="25.00" x2="416.30" y2="25.00" stroke="#626262" stroke-width="1"/>
<text x="411.20" y="27.60" font-size="6.8" text-anchor="end" font-weight="normal" fill="#222" stroke="#222" stroke-width="0.1">2.5</text>
<line x1="414.30" y1="11.50" x2="416.30" y2="11.50" stroke="#626262" stroke-width="1"/>
<text x="411.20" y="14.10" font-size="6.8" text-anchor="end" font-weight="normal" fill="#222" stroke="#222" stroke-width="0.1">3.0</text>
<rect x="427.30" y="74.68" width="5.00" height="17.82" fill="#000" stroke="none" stroke-width="0"/>
<rect x="432.70" y="72.38" width="4.60" height="20.12" fill="#fff" stroke="#222" stroke-width="0.8"/>
<line x1="429.80" y1="74.68" x2="429.80" y2="72.79" stroke="#111" stroke-width="0.8"/>
<line x1="428.60" y1="72.79" x2="431.00" y2="72.79" stroke="#111" stroke-width="0.8"/>
<line x1="435.00" y1="71.98" x2="435.00" y2="67.93" stroke="#111" stroke-width="0.8"/>
<line x1="433.80" y1="67.93" x2="436.20" y2="67.93" stroke="#111" stroke-width="0.8"/>
<rect x="443.50" y="43.90" width="5.00" height="48.60" fill="#000" stroke="none" stroke-width="0"/>
<rect x="448.90" y="36.20" width="4.60" height="56.30" fill="#fff" stroke="#222" stroke-width="0.8"/>
<line x1="446.00" y1="43.90" x2="446.00" y2="37.15" stroke="#111" stroke-width="0.8"/>
<line x1="444.80" y1="37.15" x2="447.20" y2="37.15" stroke="#111" stroke-width="0.8"/>
<line x1="451.20" y1="35.80" x2="451.20" y2="27.70" stroke="#111" stroke-width="0.8"/>
<line x1="450.00" y1="27.70" x2="452.40" y2="27.70" stroke="#111" stroke-width="0.8"/>
<polygon points="446.00,30.40 446.56,31.63 447.90,31.78 446.90,32.69 447.18,34.02 446.00,33.35 444.82,34.02 445.10,32.69 444.10,31.78 445.44,31.63" fill="#000"/>
<polygon points="451.20,21.30 451.76,22.53 453.10,22.68 452.10,23.59 452.38,24.92 451.20,24.25 450.02,24.92 450.30,23.59 449.30,22.68 450.64,22.53" fill="#000"/>
<rect x="459.70" y="69.55" width="5.00" height="22.95" fill="#000" stroke="none" stroke-width="0"/>
<rect x="465.10" y="66.98" width="4.60" height="25.52" fill="#fff" stroke="#222" stroke-width="0.8"/>
<line x1="462.20" y1="69.55" x2="462.20" y2="65.50" stroke="#111" stroke-width="0.8"/>
<line x1="461.00" y1="65.50" x2="463.40" y2="65.50" stroke="#111" stroke-width="0.8"/>
<line x1="467.40" y1="66.58" x2="467.40" y2="62.80" stroke="#111" stroke-width="0.8"/>
<line x1="466.20" y1="62.80" x2="468.60" y2="62.80" stroke="#111" stroke-width="0.8"/>
<rect x="475.90" y="85.75" width="5.00" height="6.75" fill="#000" stroke="none" stroke-width="0"/>
<rect x="481.30" y="84.80" width="4.60" height="7.70" fill="#fff" stroke="#222" stroke-width="0.8"/>
<rect x="482.20" y="83.29" width="2.8" height="1.41" rx="0.8" fill="#111"/>
<polygon points="478.40,76.50 478.96,77.73 480.30,77.88 479.30,78.79 479.58,80.12 478.40,79.45 477.22,80.12 477.50,78.79 476.50,77.88 477.84,77.73" fill="#000"/>
<polygon points="483.60,75.90 484.16,77.13 485.50,77.28 484.50,78.19 484.78,79.52 483.60,78.85 482.42,79.52 482.70,78.19 481.70,77.28 483.04,77.13" fill="#000"/>
<rect x="492.10" y="84.40" width="5.00" height="8.10" fill="#000" stroke="none" stroke-width="0"/>
<rect x="497.50" y="83.45" width="4.60" height="9.05" fill="#fff" stroke="#222" stroke-width="0.8"/>
<rect x="493.20" y="83.29" width="2.8" height="1.41" rx="0.8" fill="#111"/>
<rect x="498.40" y="81.40" width="2.8" height="1.95" rx="0.8" fill="#111"/>
<polygon points="494.60,76.50 495.16,77.73 496.50,77.88 495.50,78.79 495.78,80.12 494.60,79.45 493.42,80.12 493.70,78.79 492.70,77.88 494.04,77.73" fill="#000"/>
<polygon points="499.80,75.50 500.36,76.73 501.70,76.88 500.70,77.79 500.98,79.12 499.80,78.45 498.62,79.12 498.90,77.79 497.90,76.88 499.24,76.73" fill="#000"/>
<rect x="480.80" y="19.60" width="10.00" height="4.50" fill="#000" stroke="none" stroke-width="0"/>
<rect x="481.20" y="29.00" width="9.20" height="4.20" fill="#fff" stroke="#444" stroke-width="0.8"/>
<text x="495.00" y="24.30" font-size="6.9" text-anchor="start" font-weight="normal" fill="#222" >p50</text>
<text x="495.00" y="33.50" font-size="6.9" text-anchor="start" font-weight="normal" fill="#222" >p65</text>
<line x1="416.30" y1="92.50" x2="513.30" y2="92.50" stroke="#626262" stroke-width="1"/>
<line x1="416.30" y1="173.20" x2="513.30" y2="173.20" stroke="#626262" stroke-width="1"/>
<line x1="416.30" y1="92.50" x2="416.30" y2="173.20" stroke="#626262" stroke-width="1"/>
<line x1="513.30" y1="92.50" x2="513.30" y2="173.20" stroke="#626262" stroke-width="1"/>
<line x1="414.30" y1="173.20" x2="416.30" y2="173.20" stroke="#626262" stroke-width="1"/>
<text x="411.20" y="175.80" font-size="6.8" text-anchor="end" font-weight="normal" fill="#222" stroke="#222" stroke-width="0.1">0.0</text>
<line x1="414.30" y1="159.75" x2="416.30" y2="159.75" stroke="#626262" stroke-width="1"/>
<text x="411.20" y="162.35" font-size="6.8" text-anchor="end" font-weight="normal" fill="#222" stroke="#222" stroke-width="0.1">0.5</text>
<line x1="414.30" y1="146.30" x2="416.30" y2="146.30" stroke="#626262" stroke-width="1"/>
<text x="411.20" y="148.90" font-size="6.8" text-anchor="end" font-weight="normal" fill="#222" stroke="#222" stroke-width="0.1">1.0</text>
<line x1="414.30" y1="132.85" x2="416.30" y2="132.85" stroke="#626262" stroke-width="1"/>
<text x="411.20" y="135.45" font-size="6.8" text-anchor="end" font-weight="normal" fill="#222" stroke="#222" stroke-width="0.1">1.5</text>
<line x1="414.30" y1="119.40" x2="416.30" y2="119.40" stroke="#626262" stroke-width="1"/>
<text x="411.20" y="122.00" font-size="6.8" text-anchor="end" font-weight="normal" fill="#222" stroke="#222" stroke-width="0.1">2.0</text>
<line x1="414.30" y1="105.95" x2="416.30" y2="105.95" stroke="#626262" stroke-width="1"/>
<text x="411.20" y="108.55" font-size="6.8" text-anchor="end" font-weight="normal" fill="#222" stroke="#222" stroke-width="0.1">2.5</text>
<rect x="427.30" y="158.67" width="5.00" height="14.53" fill="#000" stroke="none" stroke-width="0"/>
<rect x="432.70" y="155.85" width="4.60" height="17.35" fill="#fff" stroke="#222" stroke-width="0.8"/>
<line x1="429.80" y1="158.67" x2="429.80" y2="157.06" stroke="#111" stroke-width="0.8"/>
<line x1="428.60" y1="157.06" x2="431.00" y2="157.06" stroke="#111" stroke-width="0.8"/>
<line x1="435.00" y1="155.45" x2="435.00" y2="152.76" stroke="#111" stroke-width="0.8"/>
<line x1="433.80" y1="152.76" x2="436.20" y2="152.76" stroke="#111" stroke-width="0.8"/>
<rect x="443.50" y="132.85" width="5.00" height="40.35" fill="#000" stroke="none" stroke-width="0"/>
<rect x="448.90" y="120.34" width="4.60" height="52.86" fill="#fff" stroke="#222" stroke-width="0.8"/>
<line x1="446.00" y1="132.85" x2="446.00" y2="127.47" stroke="#111" stroke-width="0.8"/>
<line x1="444.80" y1="127.47" x2="447.20" y2="127.47" stroke="#111" stroke-width="0.8"/>
<line x1="451.20" y1="119.94" x2="451.20" y2="109.72" stroke="#111" stroke-width="0.8"/>
<line x1="450.00" y1="109.72" x2="452.40" y2="109.72" stroke="#111" stroke-width="0.8"/>
<polygon points="446.00,120.30 446.56,121.53 447.90,121.68 446.90,122.59 447.18,123.92 446.00,123.25 444.82,123.92 445.10,122.59 444.10,121.68 445.44,121.53" fill="#000"/>
<polygon points="451.20,102.50 451.76,103.73 453.10,103.88 452.10,104.79 452.38,106.12 451.20,105.45 450.02,106.12 450.30,104.79 449.30,103.88 450.64,103.73" fill="#000"/>
<rect x="459.70" y="154.91" width="5.00" height="18.29" fill="#000" stroke="none" stroke-width="0"/>
<rect x="465.10" y="150.47" width="4.60" height="22.73" fill="#fff" stroke="#222" stroke-width="0.8"/>
<line x1="462.20" y1="154.91" x2="462.20" y2="151.95" stroke="#111" stroke-width="0.8"/>
<line x1="461.00" y1="151.95" x2="463.40" y2="151.95" stroke="#111" stroke-width="0.8"/>
<line x1="467.40" y1="150.07" x2="467.40" y2="146.57" stroke="#111" stroke-width="0.8"/>
<line x1="466.20" y1="146.57" x2="468.60" y2="146.57" stroke="#111" stroke-width="0.8"/>
<rect x="475.90" y="167.82" width="5.00" height="5.38" fill="#000" stroke="none" stroke-width="0"/>
<rect x="481.30" y="167.14" width="4.60" height="6.06" fill="#fff" stroke="#222" stroke-width="0.8"/>
<rect x="477.00" y="166.98" width="2.8" height="1.14" rx="0.8" fill="#111"/>
<rect x="482.20" y="165.91" width="2.8" height="1.14" rx="0.8" fill="#111"/>
<polygon points="478.40,159.40 478.96,160.63 480.30,160.78 479.30,161.69 479.58,163.02 478.40,162.35 477.22,163.02 477.50,161.69 476.50,160.78 477.84,160.63" fill="#000"/>
<polygon points="483.60,159.20 484.16,160.43 485.50,160.58 484.50,161.49 484.78,162.82 483.60,162.15 482.42,162.82 482.70,161.49 481.70,160.58 483.04,160.43" fill="#000"/>
<rect x="492.10" y="165.67" width="5.00" height="7.53" fill="#000" stroke="none" stroke-width="0"/>
<rect x="497.50" y="163.65" width="4.60" height="9.55" fill="#fff" stroke="#222" stroke-width="0.8"/>
<rect x="493.20" y="164.56" width="2.8" height="1.41" rx="0.8" fill="#111"/>
<rect x="498.40" y="161.60" width="2.8" height="1.94" rx="0.8" fill="#111"/>
<polygon points="494.60,157.50 495.16,158.73 496.50,158.88 495.50,159.79 495.78,161.12 494.60,160.45 493.42,161.12 493.70,159.79 492.70,158.88 494.04,158.73" fill="#000"/>
<polygon points="499.80,156.10 500.36,157.33 501.70,157.48 500.70,158.39 500.98,159.72 499.80,159.05 498.62,159.72 498.90,158.39 497.90,157.48 499.24,157.33" fill="#000"/>
<rect x="477.80" y="100.50" width="10.00" height="4.50" fill="#000" stroke="none" stroke-width="0"/>
<rect x="478.20" y="109.90" width="9.20" height="4.20" fill="#fff" stroke="#444" stroke-width="0.8"/>
<text x="492.00" y="105.20" font-size="6.9" text-anchor="start" font-weight="normal" fill="#222" >c-Fos</text>
<text x="492.00" y="114.40" font-size="6.9" text-anchor="start" font-weight="normal" fill="#222" >c-Jun</text>
<text x="432.30" y="184.30" font-size="6.8" text-anchor="middle" font-weight="normal" fill="#222" >1</text>
<text x="448.50" y="184.30" font-size="6.8" text-anchor="middle" font-weight="normal" fill="#222" >2</text>
<text x="464.70" y="184.30" font-size="6.8" text-anchor="middle" font-weight="normal" fill="#222" >3</text>
<text x="480.90" y="184.30" font-size="6.8" text-anchor="middle" font-weight="normal" fill="#222" >4</text>
<text x="497.10" y="184.30" font-size="6.8" text-anchor="middle" font-weight="normal" fill="#222" >5</text>
<text transform="translate(392.6,65.7) rotate(-90)" font-size="7.4" fill="#222" stroke="#222" stroke-width="0.15">A<tspan font-size="7" dy="2">450</tspan></text>
<text transform="translate(392.8,142.6) rotate(-90)" font-size="7.4" fill="#222" stroke="#222" stroke-width="0.15">A<tspan font-size="7" dy="2">450</tspan></text>
<text x="386.50" y="205.60" font-size="10" text-anchor="start" font-weight="normal" fill="#222" >B to E:</text>
<text x="424.80" y="204.60" font-size="6.9" text-anchor="start" font-weight="normal" fill="#222" >1. WT tumor</text>
<text x="424.80" y="215.80" font-size="6.9" text-anchor="start" font-weight="normal" fill="#222" >2. WT tumor/MC</text>
<text x="424.80" y="226.80" font-size="6.9" text-anchor="start" font-weight="normal" fill="#222" >3. WT tumor/MC+anti-c-kit</text>
<text x="424.80" y="238.50" font-size="6.9" text-anchor="start" font-weight="normal" fill="#222" >4. SCF-knockdown tumor</text>
<text x="424.80" y="249.80" font-size="6.9" text-anchor="start" font-weight="normal" fill="#222" >5. SCF-knockdown tumor/MC</text>
<line x1="147.50" y1="268.50" x2="205.00" y2="268.50" stroke="#777" stroke-width="1"/>
<line x1="205.00" y1="268.50" x2="205.00" y2="326.50" stroke="#777" stroke-width="1"/>
<line x1="166.50" y1="268.50" x2="166.50" y2="326.50" stroke="#777" stroke-width="0.9"/>
<line x1="147.50" y1="308.30" x2="205.00" y2="308.30" stroke="#777" stroke-width="0.9"/>
<rect x="148.5" y="309.5" width="17.0" height="15.5" rx="6.8" ry="6.2" fill="#000" fill-opacity="0.4" filter="url(#bl)"/>
<rect x="150.0" y="312.5" width="14.0" height="10.5" rx="5.6" ry="4.2" fill="#000" fill-opacity="0.72" filter="url(#bl)"/>
<path d="M156.1 319.5h.8v.8h-.8zM156.3 316.2h.8v.8h-.8zM153.2 316.6h.8v.8h-.8zM162.1 319.2h.8v.8h-.8zM161.8 318.5h.8v.8h-.8zM159.0 318.2h.8v.8h-.8zM150.0 320.9h.8v.8h-.8zM159.5 319.5h.8v.8h-.8zM149.9 310.5h.8v.8h-.8zM153.4 315.6h.8v.8h-.8zM158.6 317.3h.8v.8h-.8zM159.5 314.9h.8v.8h-.8zM158.6 319.1h.8v.8h-.8zM154.4 324.4h.8v.8h-.8zM159.7 322.3h.8v.8h-.8zM154.5 314.5h.8v.8h-.8zM155.7 317.1h.8v.8h-.8zM160.0 318.5h.8v.8h-.8zM155.3 313.7h.8v.8h-.8zM155.0 322.4h.8v.8h-.8zM153.7 318.5h.8v.8h-.8zM159.1 311.5h.8v.8h-.8zM157.5 322.7h.8v.8h-.8zM148.4 316.2h.8v.8h-.8zM156.8 314.2h.8v.8h-.8zM159.4 317.3h.8v.8h-.8zM150.8 320.8h.8v.8h-.8zM160.2 321.3h.8v.8h-.8zM163.6 318.9h.8v.8h-.8zM157.8 312.3h.8v.8h-.8zM159.9 315.1h.8v.8h-.8zM155.3 312.4h.8v.8h-.8zM153.0 315.4h.8v.8h-.8zM162.9 309.4h.8v.8h-.8zM150.9 318.5h.8v.8h-.8zM163.6 319.8h.8v.8h-.8zM148.9 307.4h.8v.8h-.8zM158.8 314.6h.8v.8h-.8zM152.4 321.4h.8v.8h-.8zM162.1 318.1h.8v.8h-.8zM158.3 319.2h.8v.8h-.8zM164.2 320.0h.8v.8h-.8zM159.5 319.7h.8v.8h-.8zM150.4 322.6h.8v.8h-.8zM161.4 319.6h.8v.8h-.8zM148.6 315.0h.8v.8h-.8zM160.9 310.3h.8v.8h-.8zM156.4 321.6h.8v.8h-.8zM151.5 323.9h.8v.8h-.8zM159.7 316.9h.8v.8h-.8zM158.7 320.1h.8v.8h-.8zM157.8 322.1h.8v.8h-.8zM154.4 315.8h.8v.8h-.8zM161.8 317.6h.8v.8h-.8zM153.4 321.3h.8v.8h-.8zM163.7 315.7h.8v.8h-.8zM151.2 317.0h.8v.8h-.8zM156.6 316.3h.8v.8h-.8zM163.4 313.4h.8v.8h-.8zM162.8 312.4h.8v.8h-.8zM153.8 320.0h.8v.8h-.8zM162.2 320.9h.8v.8h-.8zM158.8 318.1h.8v.8h-.8zM157.9 319.8h.8v.8h-.8zM156.5 318.6h.8v.8h-.8zM159.8 317.5h.8v.8h-.8zM160.6 319.8h.8v.8h-.8zM166.0 318.8h.8v.8h-.8zM155.4 316.0h.8v.8h-.8zM157.2 321.2h.8v.8h-.8zM155.8 319.0h.8v.8h-.8zM165.3 307.2h.8v.8h-.8zM152.3 318.5h.8v.8h-.8zM159.0 318.5h.8v.8h-.8zM155.4 320.1h.8v.8h-.8zM158.5 315.4h.8v.8h-.8zM167.9 318.9h.8v.8h-.8zM154.8 317.1h.8v.8h-.8zM156.3 317.2h.8v.8h-.8zM145.3 315.6h.8v.8h-.8zM161.7 312.8h.8v.8h-.8zM157.0 321.3h.8v.8h-.8zM161.0 323.5h.8v.8h-.8zM149.8 316.1h.8v.8h-.8zM155.8 320.0h.8v.8h-.8zM162.0 306.8h.8v.8h-.8zM162.0 311.7h.8v.8h-.8zM160.2 311.5h.8v.8h-.8zM158.0 322.3h.8v.8h-.8zM156.6 318.3h.8v.8h-.8zM160.7 318.1h.8v.8h-.8zM156.9 323.6h.8v.8h-.8zM161.8 316.3h.8v.8h-.8zM169.3 312.9h.8v.8h-.8zM161.3 316.4h.8v.8h-.8zM157.8 320.3h.8v.8h-.8zM158.2 320.1h.8v.8h-.8zM150.6 311.5h.8v.8h-.8zM159.9 313.6h.8v.8h-.8zM152.8 311.6h.8v.8h-.8zM162.8 320.5h.8v.8h-.8zM163.7 313.7h.8v.8h-.8zM157.3 312.9h.8v.8h-.8zM160.6 323.9h.8v.8h-.8zM153.4 323.7h.8v.8h-.8zM161.6 316.8h.8v.8h-.8zM148.6 323.1h.8v.8h-.8zM156.8 315.1h.8v.8h-.8zM159.0 319.1h.8v.8h-.8zM163.8 313.4h.8v.8h-.8zM162.2 323.4h.8v.8h-.8zM163.6 316.8h.8v.8h-.8zM154.0 321.6h.8v.8h-.8zM157.8 318.0h.8v.8h-.8zM163.5 316.4h.8v.8h-.8zM147.2 316.0h.8v.8h-.8zM149.1 320.8h.8v.8h-.8zM158.6 315.1h.8v.8h-.8zM157.2 320.8h.8v.8h-.8zM157.6 322.8h.8v.8h-.8zM157.0 321.7h.8v.8h-.8zM163.8 323.9h.8v.8h-.8zM154.3 321.0h.8v.8h-.8zM149.0 313.2h.8v.8h-.8zM148.7 321.8h.8v.8h-.8zM151.9 317.4h.8v.8h-.8zM156.4 317.4h.8v.8h-.8zM154.7 318.4h.8v.8h-.8zM165.1 317.7h.8v.8h-.8zM159.6 321.5h.8v.8h-.8zM156.4 312.5h.8v.8h-.8zM154.8 321.8h.8v.8h-.8zM150.0 315.1h.8v.8h-.8zM161.7 320.7h.8v.8h-.8zM157.3 320.7h.8v.8h-.8zM158.0 312.8h.8v.8h-.8zM150.4 314.9h.8v.8h-.8zM161.3 315.2h.8v.8h-.8zM153.3 314.4h.8v.8h-.8zM150.5 317.0h.8v.8h-.8zM152.1 319.0h.8v.8h-.8zM146.9 318.8h.8v.8h-.8zM154.4 309.7h.8v.8h-.8zM160.4 316.4h.8v.8h-.8zM147.5 314.0h.8v.8h-.8zM158.5 315.7h.8v.8h-.8zM160.7 320.5h.8v.8h-.8zM160.2 318.8h.8v.8h-.8zM163.1 320.1h.8v.8h-.8zM159.2 309.2h.8v.8h-.8zM161.2 322.7h.8v.8h-.8zM156.0 315.6h.8v.8h-.8zM165.7 310.5h.8v.8h-.8zM159.3 327.2h.8v.8h-.8zM153.2 320.3h.8v.8h-.8zM165.5 317.0h.8v.8h-.8zM159.7 321.1h.8v.8h-.8zM153.3 317.1h.8v.8h-.8zM158.5 320.8h.8v.8h-.8zM157.1 316.7h.8v.8h-.8zM152.8 316.1h.8v.8h-.8zM161.2 317.9h.8v.8h-.8zM153.5 314.1h.8v.8h-.8zM168.9 322.1h.8v.8h-.8zM160.0 307.1h.8v.8h-.8zM160.0 319.4h.8v.8h-.8zM164.6 319.2h.8v.8h-.8zM157.0 319.6h.8v.8h-.8zM148.7 321.6h.8v.8h-.8zM158.7 314.7h.8v.8h-.8zM163.0 324.7h.8v.8h-.8zM151.1 314.8h.8v.8h-.8zM158.5 318.2h.8v.8h-.8zM155.5 313.6h.8v.8h-.8zM166.5 321.6h.8v.8h-.8zM152.0 312.1h.8v.8h-.8zM164.7 321.5h.8v.8h-.8zM165.2 320.7h.8v.8h-.8zM153.4 318.5h.8v.8h-.8zM147.8 314.5h.8v.8h-.8zM157.0 319.6h.8v.8h-.8zM154.1 317.0h.8v.8h-.8zM159.3 319.0h.8v.8h-.8zM160.0 318.3h.8v.8h-.8zM155.8 320.7h.8v.8h-.8zM157.5 314.2h.8v.8h-.8zM154.5 317.5h.8v.8h-.8zM156.8 318.1h.8v.8h-.8zM157.2 318.2h.8v.8h-.8zM156.7 312.5h.8v.8h-.8zM159.1 321.7h.8v.8h-.8zM159.2 316.7h.8v.8h-.8zM159.2 313.6h.8v.8h-.8zM149.0 317.7h.8v.8h-.8zM153.2 320.5h.8v.8h-.8zM152.5 307.0h.8v.8h-.8zM152.7 323.8h.8v.8h-.8zM155.6 312.0h.8v.8h-.8zM153.9 319.6h.8v.8h-.8zM159.4 318.2h.8v.8h-.8zM163.7 320.3h.8v.8h-.8zM157.2 319.9h.8v.8h-.8zM164.5 321.4h.8v.8h-.8zM161.7 313.2h.8v.8h-.8zM156.6 320.4h.8v.8h-.8zM156.0 321.8h.8v.8h-.8zM159.9 321.1h.8v.8h-.8zM156.3 327.7h.8v.8h-.8zM162.7 316.6h.8v.8h-.8zM157.6 327.9h.8v.8h-.8zM155.7 321.0h.8v.8h-.8zM161.5 317.5h.8v.8h-.8zM152.1 318.3h.8v.8h-.8zM158.8 322.0h.8v.8h-.8zM160.7 317.6h.8v.8h-.8zM161.0 319.7h.8v.8h-.8zM158.2 317.7h.8v.8h-.8zM156.2 320.2h.8v.8h-.8zM152.6 315.0h.8v.8h-.8zM157.3 311.6h.8v.8h-.8zM155.3 309.5h.8v.8h-.8zM154.3 319.8h.8v.8h-.8zM159.7 317.3h.8v.8h-.8zM156.2 311.8h.8v.8h-.8zM165.2 319.6h.8v.8h-.8zM162.0 314.0h.8v.8h-.8zM156.4 310.2h.8v.8h-.8zM160.7 321.2h.8v.8h-.8zM148.9 317.3h.8v.8h-.8zM160.0 310.5h.8v.8h-.8zM149.3 313.2h.8v.8h-.8zM154.5 311.9h.8v.8h-.8zM157.4 318.5h.8v.8h-.8zM160.0 320.3h.8v.8h-.8zM163.8 322.2h.8v.8h-.8zM151.5 315.5h.8v.8h-.8zM152.6 313.2h.8v.8h-.8zM156.9 317.5h.8v.8h-.8zM159.4 311.2h.8v.8h-.8zM151.8 317.4h.8v.8h-.8zM156.4 316.3h.8v.8h-.8zM157.0 314.5h.8v.8h-.8zM160.3 318.9h.8v.8h-.8zM156.9 314.8h.8v.8h-.8zM156.5 306.6h.8v.8h-.8zM153.0 317.6h.8v.8h-.8zM150.7 318.3h.8v.8h-.8zM157.9 312.0h.8v.8h-.8zM156.2 316.2h.8v.8h-.8zM159.3 319.9h.8v.8h-.8zM157.1 314.1h.8v.8h-.8zM156.6 317.2h.8v.8h-.8zM160.5 318.7h.8v.8h-.8zM154.1 312.1h.8v.8h-.8zM155.6 314.5h.8v.8h-.8zM152.4 317.0h.8v.8h-.8zM155.1 317.9h.8v.8h-.8zM159.5 315.8h.8v.8h-.8zM167.4 316.2h.8v.8h-.8zM162.1 318.0h.8v.8h-.8zM162.1 308.0h.8v.8h-.8zM154.0 318.5h.8v.8h-.8zM159.9 326.8h.8v.8h-.8zM158.7 322.6h.8v.8h-.8zM160.6 321.3h.8v.8h-.8zM159.5 316.9h.8v.8h-.8zM159.5 313.2h.8v.8h-.8zM162.4 313.4h.8v.8h-.8zM158.3 326.0h.8v.8h-.8zM156.3 317.6h.8v.8h-.8zM162.3 317.6h.8v.8h-.8zM153.7 318.5h.8v.8h-.8zM159.8 320.3h.8v.8h-.8zM153.9 324.5h.8v.8h-.8zM164.5 317.6h.8v.8h-.8zM158.4 315.8h.8v.8h-.8zM163.4 314.7h.8v.8h-.8zM160.2 315.6h.8v.8h-.8zM154.2 320.4h.8v.8h-.8zM163.1 317.5h.8v.8h-.8zM154.3 320.7h.8v.8h-.8zM157.0 318.7h.8v.8h-.8zM163.9 322.0h.8v.8h-.8zM155.0 326.6h.8v.8h-.8zM157.3 320.6h.8v.8h-.8zM154.4 317.3h.8v.8h-.8zM149.6 324.6h.8v.8h-.8zM163.2 312.6h.8v.8h-.8zM150.7 311.0h.8v.8h-.8zM162.4 315.7h.8v.8h-.8zM157.0 316.2h.8v.8h-.8zM156.7 313.1h.8v.8h-.8zM157.4 311.7h.8v.8h-.8zM156.9 318.7h.8v.8h-.8zM159.3 316.6h.8v.8h-.8zM153.3 318.1h.8v.8h-.8zM155.1 323.8h.8v.8h-.8zM160.6 317.0h.8v.8h-.8zM155.2 314.7h.8v.8h-.8zM153.1 316.1h.8v.8h-.8zM158.5 319.6h.8v.8h-.8zM159.7 325.9h.8v.8h-.8zM154.2 317.6h.8v.8h-.8zM169.5 310.0h.8v.8h-.8zM155.0 318.2h.8v.8h-.8zM157.9 319.1h.8v.8h-.8zM156.2 319.0h.8v.8h-.8zM157.5 320.6h.8v.8h-.8zM149.0 314.0h.8v.8h-.8zM157.2 313.4h.8v.8h-.8zM152.7 320.0h.8v.8h-.8zM154.4 320.0h.8v.8h-.8zM160.5 318.7h.8v.8h-.8zM159.5 317.1h.8v.8h-.8zM151.1 317.4h.8v.8h-.8zM159.2 315.4h.8v.8h-.8zM156.8 320.5h.8v.8h-.8zM153.4 320.1h.8v.8h-.8zM165.4 315.3h.8v.8h-.8zM157.9 316.9h.8v.8h-.8zM164.0 318.8h.8v.8h-.8zM161.2 314.7h.8v.8h-.8zM157.2 317.5h.8v.8h-.8zM149.5 323.3h.8v.8h-.8zM161.2 310.5h.8v.8h-.8zM160.5 317.0h.8v.8h-.8zM159.2 319.0h.8v.8h-.8zM150.7 316.7h.8v.8h-.8zM163.8 315.2h.8v.8h-.8zM152.8 312.1h.8v.8h-.8zM151.9 318.8h.8v.8h-.8zM164.7 319.2h.8v.8h-.8zM158.3 326.4h.8v.8h-.8zM155.0 314.8h.8v.8h-.8zM159.6 319.7h.8v.8h-.8zM152.8 312.8h.8v.8h-.8zM158.5 318.5h.8v.8h-.8zM151.5 316.7h.8v.8h-.8zM154.9 319.3h.8v.8h-.8zM156.7 317.2h.8v.8h-.8zM155.7 321.7h.8v.8h-.8zM163.3 316.0h.8v.8h-.8zM161.0 314.5h.8v.8h-.8zM157.6 320.5h.8v.8h-.8zM163.9 316.0h.8v.8h-.8zM156.9 318.3h.8v.8h-.8zM150.7 317.6h.8v.8h-.8zM154.3 319.0h.8v.8h-.8zM152.3 309.6h.8v.8h-.8zM157.4 318.5h.8v.8h-.8zM154.8 321.1h.8v.8h-.8zM156.1 315.1h.8v.8h-.8zM159.3 311.2h.8v.8h-.8zM154.3 317.4h.8v.8h-.8zM161.0 316.8h.8v.8h-.8zM158.6 314.9h.8v.8h-.8zM158.6 324.2h.8v.8h-.8zM154.2 327.0h.8v.8h-.8zM154.4 317.6h.8v.8h-.8zM158.0 321.6h.8v.8h-.8zM151.8 309.1h.8v.8h-.8zM159.9 320.7h.8v.8h-.8zM160.0 328.0h.8v.8h-.8zM158.1 318.5h.8v.8h-.8zM161.3 319.0h.8v.8h-.8zM164.5 312.5h.8v.8h-.8zM155.6 303.7h.8v.8h-.8zM160.8 316.0h.8v.8h-.8zM161.3 326.1h.8v.8h-.8zM157.2 316.5h.8v.8h-.8zM155.1 314.1h.8v.8h-.8zM154.5 320.1h.8v.8h-.8zM157.4 317.8h.8v.8h-.8zM156.5 321.2h.8v.8h-.8zM159.4 316.9h.8v.8h-.8zM160.2 316.9h.8v.8h-.8zM152.2 323.3h.8v.8h-.8zM159.3 313.7h.8v.8h-.8zM162.0 318.9h.8v.8h-.8zM150.4 323.9h.8v.8h-.8zM158.7 321.1h.8v.8h-.8zM158.1 316.9h.8v.8h-.8zM150.5 321.4h.8v.8h-.8zM157.4 316.4h.8v.8h-.8zM158.8 317.8h.8v.8h-.8zM160.2 316.0h.8v.8h-.8zM157.1 308.9h.8v.8h-.8zM155.4 320.2h.8v.8h-.8zM163.1 316.0h.8v.8h-.8zM156.7 323.8h.8v.8h-.8zM155.8 320.4h.8v.8h-.8zM164.6 317.7h.8v.8h-.8zM162.6 314.7h.8v.8h-.8zM158.2 317.2h.8v.8h-.8zM157.8 322.0h.8v.8h-.8zM167.7 314.8h.8v.8h-.8zM154.7 319.5h.8v.8h-.8zM152.6 319.5h.8v.8h-.8zM159.8 316.4h.8v.8h-.8zM159.6 311.3h.8v.8h-.8zM160.6 311.3h.8v.8h-.8zM154.2 315.3h.8v.8h-.8zM155.5 320.9h.8v.8h-.8zM157.6 315.9h.8v.8h-.8zM159.6 323.8h.8v.8h-.8zM157.3 319.0h.8v.8h-.8zM162.7 318.6h.8v.8h-.8zM151.6 327.5h.8v.8h-.8zM166.9 309.6h.8v.8h-.8zM157.1 319.2h.8v.8h-.8zM161.5 320.2h.8v.8h-.8zM156.1 313.3h.8v.8h-.8zM157.7 321.6h.8v.8h-.8zM152.5 313.4h.8v.8h-.8zM157.1 309.8h.8v.8h-.8zM156.1 315.8h.8v.8h-.8zM159.2 314.7h.8v.8h-.8zM153.4 315.9h.8v.8h-.8zM157.0 314.8h.8v.8h-.8zM157.3 320.5h.8v.8h-.8zM162.4 324.3h.8v.8h-.8zM153.8 315.8h.8v.8h-.8zM146.4 325.1h.8v.8h-.8zM154.1 317.4h.8v.8h-.8zM159.5 312.1h.8v.8h-.8zM159.3 317.4h.8v.8h-.8zM149.3 318.7h.8v.8h-.8zM162.5 310.0h.8v.8h-.8zM160.8 318.3h.8v.8h-.8zM159.3 319.3h.8v.8h-.8zM163.0 316.6h.8v.8h-.8zM161.1 315.9h.8v.8h-.8zM160.4 314.2h.8v.8h-.8zM156.8 324.4h.8v.8h-.8zM159.2 316.9h.8v.8h-.8zM152.2 314.3h.8v.8h-.8zM158.1 321.3h.8v.8h-.8zM159.1 319.6h.8v.8h-.8zM157.1 322.9h.8v.8h-.8zM155.5 315.3h.8v.8h-.8zM161.1 317.8h.8v.8h-.8zM156.0 315.2h.8v.8h-.8zM156.1 320.0h.8v.8h-.8zM158.8 312.7h.8v.8h-.8zM159.1 318.2h.8v.8h-.8zM152.9 320.6h.8v.8h-.8zM156.0 316.2h.8v.8h-.8zM160.7 322.8h.8v.8h-.8zM154.2 319.3h.8v.8h-.8zM153.4 326.8h.8v.8h-.8zM155.1 322.3h.8v.8h-.8zM154.4 320.7h.8v.8h-.8zM167.0 307.3h.8v.8h-.8zM155.3 319.5h.8v.8h-.8zM156.8 314.8h.8v.8h-.8zM166.7 317.8h.8v.8h-.8zM150.1 320.9h.8v.8h-.8zM149.7 322.1h.8v.8h-.8zM154.7 318.1h.8v.8h-.8zM162.8 318.0h.8v.8h-.8zM151.2 310.7h.8v.8h-.8zM162.4 320.5h.8v.8h-.8zM153.7 320.9h.8v.8h-.8zM159.4 320.1h.8v.8h-.8zM147.4 316.3h.8v.8h-.8zM161.2 320.4h.8v.8h-.8zM161.1 307.7h.8v.8h-.8zM158.0 319.5h.8v.8h-.8zM168.4 313.7h.8v.8h-.8zM155.8 317.6h.8v.8h-.8zM161.1 315.7h.8v.8h-.8zM162.3 314.3h.8v.8h-.8zM158.4 315.4h.8v.8h-.8zM157.9 314.7h.8v.8h-.8zM150.3 321.9h.8v.8h-.8zM158.6 315.3h.8v.8h-.8zM158.1 321.5h.8v.8h-.8zM153.0 317.1h.8v.8h-.8zM159.6 319.6h.8v.8h-.8zM155.8 309.1h.8v.8h-.8z" fill="#000" fill-opacity="0.5"/>
<line x1="147.50" y1="326.50" x2="205.00" y2="326.50" stroke="#222" stroke-width="1.2"/>
<line x1="147.70" y1="268.00" x2="147.70" y2="327.10" stroke="#222" stroke-width="1.4"/>
<line x1="145.70" y1="326.50" x2="147.50" y2="326.50" stroke="#222" stroke-width="0.9"/>
<line x1="145.70" y1="312.00" x2="147.50" y2="312.00" stroke="#222" stroke-width="0.9"/>
<line x1="145.70" y1="297.50" x2="147.50" y2="297.50" stroke="#222" stroke-width="0.9"/>
<line x1="145.70" y1="283.00" x2="147.50" y2="283.00" stroke="#222" stroke-width="0.9"/>
<line x1="145.70" y1="268.50" x2="147.50" y2="268.50" stroke="#222" stroke-width="0.9"/>
<line x1="148.50" y1="326.50" x2="148.50" y2="328.10" stroke="#333" stroke-width="0.7"/>
<line x1="151.32" y1="326.50" x2="151.32" y2="327.50" stroke="#333" stroke-width="0.7"/>
<line x1="154.15" y1="326.50" x2="154.15" y2="328.10" stroke="#333" stroke-width="0.7"/>
<line x1="156.97" y1="326.50" x2="156.97" y2="327.50" stroke="#333" stroke-width="0.7"/>
<line x1="159.80" y1="326.50" x2="159.80" y2="328.10" stroke="#333" stroke-width="0.7"/>
<line x1="162.62" y1="326.50" x2="162.62" y2="327.50" stroke="#333" stroke-width="0.7"/>
<line x1="165.45" y1="326.50" x2="165.45" y2="328.10" stroke="#333" stroke-width="0.7"/>
<line x1="168.28" y1="326.50" x2="168.28" y2="327.50" stroke="#333" stroke-width="0.7"/>
<line x1="171.10" y1="326.50" x2="171.10" y2="328.10" stroke="#333" stroke-width="0.7"/>
<line x1="173.93" y1="326.50" x2="173.93" y2="327.50" stroke="#333" stroke-width="0.7"/>
<line x1="176.75" y1="326.50" x2="176.75" y2="328.10" stroke="#333" stroke-width="0.7"/>
<line x1="179.57" y1="326.50" x2="179.57" y2="327.50" stroke="#333" stroke-width="0.7"/>
<line x1="182.40" y1="326.50" x2="182.40" y2="328.10" stroke="#333" stroke-width="0.7"/>
<line x1="185.22" y1="326.50" x2="185.22" y2="327.50" stroke="#333" stroke-width="0.7"/>
<line x1="188.05" y1="326.50" x2="188.05" y2="328.10" stroke="#333" stroke-width="0.7"/>
<line x1="190.88" y1="326.50" x2="190.88" y2="327.50" stroke="#333" stroke-width="0.7"/>
<line x1="193.70" y1="326.50" x2="193.70" y2="328.10" stroke="#333" stroke-width="0.7"/>
<line x1="196.53" y1="326.50" x2="196.53" y2="327.50" stroke="#333" stroke-width="0.7"/>
<line x1="199.35" y1="326.50" x2="199.35" y2="328.10" stroke="#333" stroke-width="0.7"/>
<line x1="202.18" y1="326.50" x2="202.18" y2="327.50" stroke="#333" stroke-width="0.7"/>
<line x1="205.00" y1="326.50" x2="205.00" y2="328.10" stroke="#333" stroke-width="0.7"/>
<text x="175.80" y="334.30" font-size="5.7" text-anchor="middle" font-weight="normal" fill="#222" textLength="43" lengthAdjust="spacingAndGlyphs" stroke="#222" stroke-width="0.12">200 400 600 800</text>
<text x="176.80" y="341.00" font-size="5.9" text-anchor="middle" font-weight="normal" fill="#222" stroke="#222" stroke-width="0.15">FSC-H</text>
<text transform="translate(144.50,326.50) rotate(-90)" font-size="4.9" text-anchor="middle" fill="#222" stroke="#222" stroke-width="0.1">10<tspan font-size="3.7" dy="-3.0">0</tspan></text>
<text transform="translate(144.50,312.00) rotate(-90)" font-size="4.9" text-anchor="middle" fill="#222" stroke="#222" stroke-width="0.1">10<tspan font-size="3.7" dy="-3.0">1</tspan></text>
<text transform="translate(144.50,297.50) rotate(-90)" font-size="4.9" text-anchor="middle" fill="#222" stroke="#222" stroke-width="0.1">10<tspan font-size="3.7" dy="-3.0">2</tspan></text>
<text transform="translate(144.50,283.00) rotate(-90)" font-size="4.9" text-anchor="middle" fill="#222" stroke="#222" stroke-width="0.1">10<tspan font-size="3.7" dy="-3.0">3</tspan></text>
<text transform="translate(144.50,268.50) rotate(-90)" font-size="4.9" text-anchor="middle" fill="#222" stroke="#222" stroke-width="0.1">10<tspan font-size="3.7" dy="-3.0">4</tspan></text>
<text transform="translate(133.6,297.5) rotate(-90)" font-size="6.6" text-anchor="middle" fill="#222">isotype</text>
<text transform="translate(216.3,279.8) rotate(-90)" font-size="6.6" text-anchor="middle" fill="#222">IL-17</text>
<line x1="214.20" y1="292.00" x2="214.20" y2="326.50" stroke="#111" stroke-width="1"/>
<path d="M212.2 293.8 L214.2 289.2 L216.2 293.8 Z" fill="#111"/>
<line x1="230.00" y1="268.50" x2="287.90" y2="268.50" stroke="#777" stroke-width="1"/>
<line x1="287.90" y1="268.50" x2="287.90" y2="326.50" stroke="#777" stroke-width="1"/>
<line x1="248.90" y1="268.50" x2="248.90" y2="326.50" stroke="#aaa" stroke-width="0.9"/>
<line x1="230.00" y1="308.50" x2="287.90" y2="308.50" stroke="#777" stroke-width="0.9"/>
<rect x="231.5" y="309.5" width="15.0" height="15.5" rx="6.0" ry="6.2" fill="#000" fill-opacity="0.35" filter="url(#bl)"/>
<rect x="233.0" y="313.0" width="11.0" height="9.0" rx="4.4" ry="3.6" fill="#000" fill-opacity="0.62" filter="url(#bl)"/>
<path d="M243.7 318.8h.8v.8h-.8zM239.0 316.4h.8v.8h-.8zM240.0 315.8h.8v.8h-.8zM235.2 314.5h.8v.8h-.8zM236.8 315.1h.8v.8h-.8zM234.7 320.0h.8v.8h-.8zM234.1 320.1h.8v.8h-.8zM235.2 318.9h.8v.8h-.8zM244.2 318.3h.8v.8h-.8zM236.3 317.7h.8v.8h-.8zM239.6 310.6h.8v.8h-.8zM236.7 318.2h.8v.8h-.8zM237.2 317.8h.8v.8h-.8zM241.8 320.6h.8v.8h-.8zM242.4 319.9h.8v.8h-.8zM237.9 317.4h.8v.8h-.8zM238.0 316.2h.8v.8h-.8zM238.3 310.6h.8v.8h-.8zM237.8 317.4h.8v.8h-.8zM235.3 317.4h.8v.8h-.8zM240.9 316.8h.8v.8h-.8zM246.8 307.1h.8v.8h-.8zM238.2 310.2h.8v.8h-.8zM242.7 328.1h.8v.8h-.8zM229.6 318.0h.8v.8h-.8zM240.9 316.3h.8v.8h-.8zM241.1 308.5h.8v.8h-.8zM242.2 319.0h.8v.8h-.8zM239.1 315.1h.8v.8h-.8zM241.4 315.6h.8v.8h-.8zM239.8 315.5h.8v.8h-.8zM230.6 317.4h.8v.8h-.8zM239.8 320.5h.8v.8h-.8zM235.7 317.4h.8v.8h-.8zM241.3 318.1h.8v.8h-.8zM243.7 325.5h.8v.8h-.8zM235.6 309.8h.8v.8h-.8zM242.2 323.6h.8v.8h-.8zM242.5 320.8h.8v.8h-.8zM236.7 314.6h.8v.8h-.8zM242.3 313.9h.8v.8h-.8zM232.2 313.5h.8v.8h-.8zM248.3 325.2h.8v.8h-.8zM236.4 314.6h.8v.8h-.8zM239.9 314.5h.8v.8h-.8zM243.9 317.2h.8v.8h-.8zM234.9 322.7h.8v.8h-.8zM236.8 318.4h.8v.8h-.8zM239.0 316.2h.8v.8h-.8zM240.2 314.7h.8v.8h-.8zM232.1 308.7h.8v.8h-.8zM234.3 314.5h.8v.8h-.8zM238.9 317.7h.8v.8h-.8zM241.1 318.0h.8v.8h-.8zM236.0 314.7h.8v.8h-.8zM231.1 316.8h.8v.8h-.8zM240.8 319.6h.8v.8h-.8zM238.5 316.8h.8v.8h-.8zM242.5 317.6h.8v.8h-.8zM241.8 319.8h.8v.8h-.8zM239.8 322.7h.8v.8h-.8zM236.9 316.1h.8v.8h-.8zM236.0 314.3h.8v.8h-.8zM244.8 324.5h.8v.8h-.8zM239.1 319.8h.8v.8h-.8zM243.4 320.7h.8v.8h-.8zM243.5 312.4h.8v.8h-.8zM236.6 319.3h.8v.8h-.8zM244.4 317.9h.8v.8h-.8zM235.8 316.1h.8v.8h-.8zM236.5 314.1h.8v.8h-.8zM244.6 315.0h.8v.8h-.8zM239.1 326.1h.8v.8h-.8zM243.4 318.8h.8v.8h-.8zM236.7 319.1h.8v.8h-.8zM245.1 320.0h.8v.8h-.8zM243.7 317.9h.8v.8h-.8zM240.9 316.7h.8v.8h-.8zM240.6 322.7h.8v.8h-.8zM233.6 317.2h.8v.8h-.8zM239.9 315.2h.8v.8h-.8zM237.8 320.6h.8v.8h-.8zM246.5 320.0h.8v.8h-.8zM240.2 311.3h.8v.8h-.8zM246.2 317.8h.8v.8h-.8zM238.9 313.0h.8v.8h-.8zM238.8 313.1h.8v.8h-.8zM239.3 319.4h.8v.8h-.8zM239.1 318.6h.8v.8h-.8zM235.8 323.2h.8v.8h-.8zM236.6 310.2h.8v.8h-.8zM238.3 314.4h.8v.8h-.8zM235.2 316.1h.8v.8h-.8zM240.1 312.8h.8v.8h-.8zM238.5 323.2h.8v.8h-.8zM241.6 316.9h.8v.8h-.8zM239.5 317.0h.8v.8h-.8zM238.8 320.4h.8v.8h-.8zM238.7 307.9h.8v.8h-.8zM238.9 313.9h.8v.8h-.8zM241.4 315.1h.8v.8h-.8zM239.6 326.2h.8v.8h-.8zM235.1 313.0h.8v.8h-.8zM233.7 307.9h.8v.8h-.8zM232.0 319.0h.8v.8h-.8zM236.6 310.0h.8v.8h-.8zM233.4 320.0h.8v.8h-.8zM236.1 316.0h.8v.8h-.8zM240.2 322.9h.8v.8h-.8zM246.3 321.6h.8v.8h-.8zM239.5 318.2h.8v.8h-.8zM245.8 323.2h.8v.8h-.8zM237.8 319.3h.8v.8h-.8zM240.1 317.7h.8v.8h-.8zM237.1 312.2h.8v.8h-.8zM237.0 311.3h.8v.8h-.8zM243.6 319.6h.8v.8h-.8zM234.5 323.1h.8v.8h-.8zM242.3 309.9h.8v.8h-.8zM245.9 320.7h.8v.8h-.8zM246.7 312.6h.8v.8h-.8zM241.0 319.2h.8v.8h-.8zM239.8 318.2h.8v.8h-.8zM243.0 311.5h.8v.8h-.8zM234.3 311.9h.8v.8h-.8zM236.9 315.1h.8v.8h-.8zM240.4 318.6h.8v.8h-.8zM239.1 314.8h.8v.8h-.8zM237.3 321.3h.8v.8h-.8zM241.9 317.9h.8v.8h-.8zM237.8 323.7h.8v.8h-.8zM236.8 320.1h.8v.8h-.8zM243.3 316.4h.8v.8h-.8zM242.1 313.0h.8v.8h-.8zM242.8 318.3h.8v.8h-.8zM233.0 320.2h.8v.8h-.8zM235.7 322.6h.8v.8h-.8zM236.5 316.8h.8v.8h-.8zM240.1 316.2h.8v.8h-.8zM240.0 315.3h.8v.8h-.8zM241.5 317.5h.8v.8h-.8zM239.8 306.5h.8v.8h-.8zM243.4 317.6h.8v.8h-.8zM232.3 317.9h.8v.8h-.8zM240.8 321.8h.8v.8h-.8zM234.9 323.7h.8v.8h-.8zM238.4 327.1h.8v.8h-.8zM238.5 320.2h.8v.8h-.8zM237.6 313.0h.8v.8h-.8zM243.1 321.1h.8v.8h-.8zM244.8 320.9h.8v.8h-.8zM236.9 310.9h.8v.8h-.8zM236.6 314.8h.8v.8h-.8zM235.9 319.8h.8v.8h-.8zM240.2 316.4h.8v.8h-.8zM239.6 316.9h.8v.8h-.8zM239.8 320.5h.8v.8h-.8zM242.6 314.8h.8v.8h-.8zM233.3 323.2h.8v.8h-.8zM239.4 321.9h.8v.8h-.8zM232.8 316.2h.8v.8h-.8zM239.1 311.7h.8v.8h-.8zM237.1 320.4h.8v.8h-.8zM243.0 323.9h.8v.8h-.8zM235.8 311.9h.8v.8h-.8zM241.0 321.3h.8v.8h-.8zM239.7 312.3h.8v.8h-.8zM241.9 320.7h.8v.8h-.8zM241.1 315.6h.8v.8h-.8zM240.1 320.7h.8v.8h-.8zM236.9 310.1h.8v.8h-.8zM240.2 319.4h.8v.8h-.8zM239.1 321.1h.8v.8h-.8zM236.8 317.2h.8v.8h-.8zM237.9 319.8h.8v.8h-.8zM245.0 316.5h.8v.8h-.8zM246.7 323.6h.8v.8h-.8zM242.0 319.8h.8v.8h-.8zM245.6 316.8h.8v.8h-.8zM238.6 313.2h.8v.8h-.8zM240.8 322.9h.8v.8h-.8zM241.0 319.2h.8v.8h-.8zM238.2 318.2h.8v.8h-.8zM233.7 321.7h.8v.8h-.8zM237.5 313.1h.8v.8h-.8zM236.2 314.2h.8v.8h-.8zM242.2 321.7h.8v.8h-.8zM233.9 321.2h.8v.8h-.8zM242.3 315.2h.8v.8h-.8zM233.4 314.5h.8v.8h-.8zM236.6 318.9h.8v.8h-.8zM237.7 309.4h.8v.8h-.8zM239.9 311.4h.8v.8h-.8zM242.4 312.7h.8v.8h-.8zM236.4 314.1h.8v.8h-.8zM237.0 322.7h.8v.8h-.8zM242.2 319.9h.8v.8h-.8zM240.2 311.3h.8v.8h-.8zM237.0 315.3h.8v.8h-.8zM235.3 319.5h.8v.8h-.8zM236.2 314.7h.8v.8h-.8zM235.1 309.3h.8v.8h-.8zM241.2 322.8h.8v.8h-.8zM239.7 313.6h.8v.8h-.8zM228.9 318.2h.8v.8h-.8zM243.6 318.7h.8v.8h-.8zM242.5 323.4h.8v.8h-.8zM243.2 315.7h.8v.8h-.8zM242.9 320.6h.8v.8h-.8zM233.2 315.9h.8v.8h-.8zM233.7 317.1h.8v.8h-.8zM241.2 313.2h.8v.8h-.8zM231.3 322.7h.8v.8h-.8zM240.4 323.4h.8v.8h-.8zM234.0 321.7h.8v.8h-.8zM246.8 325.5h.8v.8h-.8zM238.2 318.6h.8v.8h-.8zM238.4 321.5h.8v.8h-.8zM242.9 317.8h.8v.8h-.8zM233.9 320.5h.8v.8h-.8zM237.2 320.0h.8v.8h-.8zM240.0 324.0h.8v.8h-.8zM243.3 315.7h.8v.8h-.8zM240.3 324.6h.8v.8h-.8zM237.0 319.2h.8v.8h-.8zM243.5 322.5h.8v.8h-.8zM240.9 312.2h.8v.8h-.8zM234.3 318.5h.8v.8h-.8zM240.5 327.7h.8v.8h-.8zM235.8 322.1h.8v.8h-.8zM241.9 310.8h.8v.8h-.8zM235.9 318.2h.8v.8h-.8zM237.1 316.9h.8v.8h-.8zM240.8 314.3h.8v.8h-.8zM240.7 315.0h.8v.8h-.8zM237.0 319.6h.8v.8h-.8zM236.8 318.6h.8v.8h-.8zM245.0 317.6h.8v.8h-.8zM238.5 320.4h.8v.8h-.8zM237.6 321.8h.8v.8h-.8zM234.2 320.0h.8v.8h-.8zM237.1 314.3h.8v.8h-.8zM245.6 314.1h.8v.8h-.8zM245.6 320.1h.8v.8h-.8zM244.4 313.6h.8v.8h-.8zM243.5 323.3h.8v.8h-.8zM238.6 317.0h.8v.8h-.8zM248.2 318.2h.8v.8h-.8zM237.4 315.0h.8v.8h-.8zM240.7 318.8h.8v.8h-.8zM239.7 324.4h.8v.8h-.8zM237.8 319.4h.8v.8h-.8zM244.5 313.5h.8v.8h-.8zM242.9 324.8h.8v.8h-.8zM233.9 313.1h.8v.8h-.8zM235.1 310.1h.8v.8h-.8zM240.7 310.1h.8v.8h-.8zM240.9 323.3h.8v.8h-.8zM232.9 316.2h.8v.8h-.8zM231.8 320.6h.8v.8h-.8zM236.2 316.4h.8v.8h-.8zM239.2 319.7h.8v.8h-.8zM237.7 317.6h.8v.8h-.8zM237.0 318.0h.8v.8h-.8zM234.6 317.8h.8v.8h-.8zM231.8 315.5h.8v.8h-.8zM246.2 317.8h.8v.8h-.8zM234.3 318.5h.8v.8h-.8zM235.4 310.9h.8v.8h-.8zM236.2 320.4h.8v.8h-.8zM240.4 317.1h.8v.8h-.8zM235.5 313.2h.8v.8h-.8zM244.1 318.5h.8v.8h-.8zM235.4 309.1h.8v.8h-.8zM233.9 327.4h.8v.8h-.8zM234.7 317.2h.8v.8h-.8zM239.8 316.9h.8v.8h-.8zM238.0 312.0h.8v.8h-.8zM235.1 324.3h.8v.8h-.8zM236.2 320.9h.8v.8h-.8zM232.6 316.4h.8v.8h-.8zM240.0 321.6h.8v.8h-.8zM234.8 319.9h.8v.8h-.8zM240.4 314.5h.8v.8h-.8zM240.8 313.9h.8v.8h-.8zM236.0 317.4h.8v.8h-.8zM228.8 317.1h.8v.8h-.8zM235.2 311.6h.8v.8h-.8zM237.4 320.6h.8v.8h-.8zM237.5 322.6h.8v.8h-.8zM234.7 312.3h.8v.8h-.8zM244.8 319.1h.8v.8h-.8zM242.5 314.2h.8v.8h-.8zM242.0 318.5h.8v.8h-.8zM241.4 317.6h.8v.8h-.8zM243.5 314.9h.8v.8h-.8zM235.4 311.6h.8v.8h-.8zM243.4 314.5h.8v.8h-.8zM235.1 313.7h.8v.8h-.8zM237.3 312.4h.8v.8h-.8zM237.9 315.0h.8v.8h-.8zM236.9 313.7h.8v.8h-.8zM239.1 315.7h.8v.8h-.8zM239.4 318.5h.8v.8h-.8zM240.3 308.7h.8v.8h-.8zM237.0 314.3h.8v.8h-.8zM241.9 311.2h.8v.8h-.8zM236.3 316.3h.8v.8h-.8zM237.7 321.5h.8v.8h-.8zM237.3 321.4h.8v.8h-.8zM233.5 310.3h.8v.8h-.8zM243.6 319.2h.8v.8h-.8zM240.8 318.0h.8v.8h-.8zM240.8 312.6h.8v.8h-.8zM242.6 315.4h.8v.8h-.8zM242.7 317.9h.8v.8h-.8zM231.6 312.4h.8v.8h-.8zM243.2 317.0h.8v.8h-.8zM237.5 318.5h.8v.8h-.8zM237.4 315.3h.8v.8h-.8zM239.4 318.1h.8v.8h-.8zM244.7 317.7h.8v.8h-.8zM246.0 324.7h.8v.8h-.8zM245.4 321.7h.8v.8h-.8zM239.5 318.0h.8v.8h-.8zM238.5 314.6h.8v.8h-.8zM238.8 314.9h.8v.8h-.8zM245.1 319.6h.8v.8h-.8zM237.3 309.8h.8v.8h-.8zM238.8 315.8h.8v.8h-.8zM234.9 313.0h.8v.8h-.8zM230.6 319.8h.8v.8h-.8zM238.8 327.8h.8v.8h-.8zM238.9 316.9h.8v.8h-.8zM244.4 318.0h.8v.8h-.8zM239.6 316.0h.8v.8h-.8zM236.7 323.5h.8v.8h-.8zM242.8 324.4h.8v.8h-.8zM237.7 317.6h.8v.8h-.8zM235.7 321.4h.8v.8h-.8zM233.8 319.8h.8v.8h-.8zM243.1 323.1h.8v.8h-.8zM235.5 321.9h.8v.8h-.8zM236.3 314.5h.8v.8h-.8zM234.0 322.1h.8v.8h-.8zM245.2 315.1h.8v.8h-.8zM236.2 316.1h.8v.8h-.8zM248.4 321.5h.8v.8h-.8zM237.0 310.3h.8v.8h-.8zM236.5 322.2h.8v.8h-.8zM246.0 316.4h.8v.8h-.8zM236.4 315.5h.8v.8h-.8zM231.9 321.1h.8v.8h-.8zM234.9 321.8h.8v.8h-.8zM232.6 312.4h.8v.8h-.8zM240.1 314.4h.8v.8h-.8zM241.9 317.5h.8v.8h-.8zM234.6 320.0h.8v.8h-.8zM242.2 309.8h.8v.8h-.8zM245.8 319.5h.8v.8h-.8zM241.9 310.1h.8v.8h-.8zM236.3 316.1h.8v.8h-.8zM243.0 311.7h.8v.8h-.8zM235.7 309.4h.8v.8h-.8zM238.1 318.9h.8v.8h-.8zM232.7 315.1h.8v.8h-.8zM240.9 323.8h.8v.8h-.8zM241.5 316.3h.8v.8h-.8zM234.6 313.8h.8v.8h-.8zM236.5 318.1h.8v.8h-.8zM238.8 324.2h.8v.8h-.8zM240.1 313.2h.8v.8h-.8zM244.8 321.3h.8v.8h-.8zM239.4 314.6h.8v.8h-.8zM232.0 313.4h.8v.8h-.8zM242.4 314.3h.8v.8h-.8zM234.1 318.3h.8v.8h-.8zM239.9 319.9h.8v.8h-.8zM241.5 323.1h.8v.8h-.8zM235.9 321.4h.8v.8h-.8zM235.3 320.3h.8v.8h-.8zM239.7 318.5h.8v.8h-.8zM242.6 317.4h.8v.8h-.8zM243.2 321.0h.8v.8h-.8zM239.5 315.2h.8v.8h-.8zM236.2 315.4h.8v.8h-.8zM238.2 317.4h.8v.8h-.8zM250.2 320.1h.8v.8h-.8zM241.9 314.1h.8v.8h-.8zM236.3 316.2h.8v.8h-.8zM239.7 313.4h.8v.8h-.8zM245.0 315.2h.8v.8h-.8zM243.0 308.2h.8v.8h-.8zM239.0 318.6h.8v.8h-.8zM239.7 319.9h.8v.8h-.8zM240.0 318.1h.8v.8h-.8zM231.9 314.6h.8v.8h-.8zM230.2 320.0h.8v.8h-.8zM240.2 316.7h.8v.8h-.8zM235.9 315.2h.8v.8h-.8z" fill="#000" fill-opacity="0.5"/>
<rect x="232.5" y="297.0" width="10.0" height="9.0" rx="4.0" ry="3.6" fill="#000" fill-opacity="0.16" filter="url(#bl)"/>
<path d="M243.5 307.1h.8v.8h-.8zM237.6 305.7h.8v.8h-.8zM232.8 295.2h.8v.8h-.8zM236.2 298.7h.8v.8h-.8zM236.0 302.1h.8v.8h-.8zM247.2 299.4h.8v.8h-.8zM237.9 302.4h.8v.8h-.8zM237.6 304.5h.8v.8h-.8zM243.3 297.5h.8v.8h-.8zM238.3 300.6h.8v.8h-.8zM238.9 296.5h.8v.8h-.8zM232.3 294.0h.8v.8h-.8zM239.4 302.1h.8v.8h-.8zM238.0 293.8h.8v.8h-.8zM236.6 299.0h.8v.8h-.8zM233.3 298.5h.8v.8h-.8zM239.9 303.3h.8v.8h-.8zM237.7 303.2h.8v.8h-.8zM235.9 301.7h.8v.8h-.8zM237.9 303.3h.8v.8h-.8zM237.5 301.0h.8v.8h-.8zM237.3 299.4h.8v.8h-.8zM244.7 303.2h.8v.8h-.8zM239.1 308.9h.8v.8h-.8zM242.1 296.4h.8v.8h-.8zM239.9 304.2h.8v.8h-.8zM243.6 305.8h.8v.8h-.8zM240.2 297.7h.8v.8h-.8zM235.0 302.4h.8v.8h-.8zM239.3 298.2h.8v.8h-.8zM236.5 300.2h.8v.8h-.8zM237.9 302.6h.8v.8h-.8zM236.9 297.5h.8v.8h-.8zM241.6 306.7h.8v.8h-.8zM237.4 304.8h.8v.8h-.8zM239.1 303.6h.8v.8h-.8zM239.3 299.0h.8v.8h-.8zM239.5 304.8h.8v.8h-.8zM234.9 307.9h.8v.8h-.8zM244.3 307.4h.8v.8h-.8zM244.0 303.9h.8v.8h-.8zM236.7 299.6h.8v.8h-.8zM235.2 301.9h.8v.8h-.8zM237.6 303.7h.8v.8h-.8zM231.4 309.0h.8v.8h-.8zM244.9 301.4h.8v.8h-.8zM239.9 303.0h.8v.8h-.8zM238.6 300.8h.8v.8h-.8zM237.4 298.8h.8v.8h-.8zM238.3 301.4h.8v.8h-.8zM238.8 298.7h.8v.8h-.8zM237.9 301.7h.8v.8h-.8zM239.6 298.0h.8v.8h-.8zM239.1 304.7h.8v.8h-.8zM239.6 300.3h.8v.8h-.8zM236.2 300.7h.8v.8h-.8zM240.0 306.5h.8v.8h-.8zM237.3 299.4h.8v.8h-.8zM238.9 302.2h.8v.8h-.8zM234.9 299.1h.8v.8h-.8zM237.4 303.7h.8v.8h-.8zM234.0 298.2h.8v.8h-.8zM239.3 297.5h.8v.8h-.8zM238.1 302.6h.8v.8h-.8zM237.4 298.2h.8v.8h-.8zM237.6 300.4h.8v.8h-.8zM238.8 298.8h.8v.8h-.8zM241.2 296.1h.8v.8h-.8zM237.2 301.5h.8v.8h-.8zM240.8 299.5h.8v.8h-.8zM239.5 299.7h.8v.8h-.8zM240.1 307.1h.8v.8h-.8zM236.5 302.9h.8v.8h-.8zM234.9 304.7h.8v.8h-.8zM241.5 301.6h.8v.8h-.8zM234.2 302.8h.8v.8h-.8zM241.3 305.0h.8v.8h-.8zM240.3 295.6h.8v.8h-.8zM235.6 306.1h.8v.8h-.8zM233.9 305.2h.8v.8h-.8zM243.6 304.0h.8v.8h-.8zM241.3 300.4h.8v.8h-.8zM233.9 301.2h.8v.8h-.8zM237.1 301.3h.8v.8h-.8zM239.9 301.0h.8v.8h-.8zM238.3 302.9h.8v.8h-.8zM237.7 307.5h.8v.8h-.8zM239.1 301.8h.8v.8h-.8zM237.1 299.5h.8v.8h-.8zM242.0 302.0h.8v.8h-.8zM234.4 299.7h.8v.8h-.8zM237.3 300.1h.8v.8h-.8zM241.1 297.7h.8v.8h-.8zM239.3 302.0h.8v.8h-.8zM234.1 301.7h.8v.8h-.8zM237.5 303.1h.8v.8h-.8zM236.3 302.5h.8v.8h-.8zM232.5 298.0h.8v.8h-.8zM240.2 304.9h.8v.8h-.8zM237.7 299.6h.8v.8h-.8zM241.1 294.7h.8v.8h-.8zM235.3 303.7h.8v.8h-.8zM239.8 298.1h.8v.8h-.8zM231.9 306.2h.8v.8h-.8zM238.2 298.6h.8v.8h-.8zM237.9 304.4h.8v.8h-.8zM229.7 305.1h.8v.8h-.8zM240.1 294.7h.8v.8h-.8zM240.2 295.7h.8v.8h-.8zM241.3 302.8h.8v.8h-.8zM244.8 299.5h.8v.8h-.8zM237.8 304.9h.8v.8h-.8zM235.8 299.2h.8v.8h-.8zM236.6 301.3h.8v.8h-.8zM234.4 303.1h.8v.8h-.8zM239.4 301.7h.8v.8h-.8zM243.1 300.4h.8v.8h-.8zM241.8 299.7h.8v.8h-.8zM240.1 295.2h.8v.8h-.8zM238.4 300.9h.8v.8h-.8zM236.2 299.5h.8v.8h-.8zM236.7 299.2h.8v.8h-.8zM230.9 299.6h.8v.8h-.8zM236.0 299.8h.8v.8h-.8zM234.4 301.1h.8v.8h-.8zM240.2 300.7h.8v.8h-.8zM236.2 305.9h.8v.8h-.8zM240.8 304.5h.8v.8h-.8zM241.4 300.4h.8v.8h-.8zM237.3 305.1h.8v.8h-.8z" fill="#000" fill-opacity="0.42"/>
<line x1="230.00" y1="326.50" x2="287.90" y2="326.50" stroke="#222" stroke-width="1.2"/>
<line x1="230.20" y1="268.00" x2="230.20" y2="327.10" stroke="#222" stroke-width="1.3"/>
<line x1="228.20" y1="326.50" x2="230.00" y2="326.50" stroke="#222" stroke-width="0.9"/>
<line x1="228.20" y1="312.00" x2="230.00" y2="312.00" stroke="#222" stroke-width="0.9"/>
<line x1="228.20" y1="297.50" x2="230.00" y2="297.50" stroke="#222" stroke-width="0.9"/>
<line x1="228.20" y1="283.00" x2="230.00" y2="283.00" stroke="#222" stroke-width="0.9"/>
<line x1="228.20" y1="268.50" x2="230.00" y2="268.50" stroke="#222" stroke-width="0.9"/>
<line x1="231.00" y1="326.50" x2="231.00" y2="328.10" stroke="#333" stroke-width="0.7"/>
<line x1="233.84" y1="326.50" x2="233.84" y2="327.50" stroke="#333" stroke-width="0.7"/>
<line x1="236.69" y1="326.50" x2="236.69" y2="328.10" stroke="#333" stroke-width="0.7"/>
<line x1="239.53" y1="326.50" x2="239.53" y2="327.50" stroke="#333" stroke-width="0.7"/>
<line x1="242.38" y1="326.50" x2="242.38" y2="328.10" stroke="#333" stroke-width="0.7"/>
<line x1="245.22" y1="326.50" x2="245.22" y2="327.50" stroke="#333" stroke-width="0.7"/>
<line x1="248.07" y1="326.50" x2="248.07" y2="328.10" stroke="#333" stroke-width="0.7"/>
<line x1="250.91" y1="326.50" x2="250.91" y2="327.50" stroke="#333" stroke-width="0.7"/>
<line x1="253.76" y1="326.50" x2="253.76" y2="328.10" stroke="#333" stroke-width="0.7"/>
<line x1="256.61" y1="326.50" x2="256.61" y2="327.50" stroke="#333" stroke-width="0.7"/>
<line x1="259.45" y1="326.50" x2="259.45" y2="328.10" stroke="#333" stroke-width="0.7"/>
<line x1="262.30" y1="326.50" x2="262.30" y2="327.50" stroke="#333" stroke-width="0.7"/>
<line x1="265.14" y1="326.50" x2="265.14" y2="328.10" stroke="#333" stroke-width="0.7"/>
<line x1="267.99" y1="326.50" x2="267.99" y2="327.50" stroke="#333" stroke-width="0.7"/>
<line x1="270.83" y1="326.50" x2="270.83" y2="328.10" stroke="#333" stroke-width="0.7"/>
<line x1="273.68" y1="326.50" x2="273.68" y2="327.50" stroke="#333" stroke-width="0.7"/>
<line x1="276.52" y1="326.50" x2="276.52" y2="328.10" stroke="#333" stroke-width="0.7"/>
<line x1="279.37" y1="326.50" x2="279.37" y2="327.50" stroke="#333" stroke-width="0.7"/>
<line x1="282.21" y1="326.50" x2="282.21" y2="328.10" stroke="#333" stroke-width="0.7"/>
<line x1="285.06" y1="326.50" x2="285.06" y2="327.50" stroke="#333" stroke-width="0.7"/>
<line x1="287.90" y1="326.50" x2="287.90" y2="328.10" stroke="#333" stroke-width="0.7"/>
<text x="233.60" y="277.30" font-size="6.9" text-anchor="start" font-weight="normal" fill="#111" stroke="#111" stroke-width="0.1">9.7</text>
<text x="257.80" y="265.80" font-size="8.8" text-anchor="middle" font-weight="normal" fill="#111" stroke="#111" stroke-width="0.08">1</text>
<text x="258.30" y="334.30" font-size="5.7" text-anchor="middle" font-weight="normal" fill="#222" textLength="43" lengthAdjust="spacingAndGlyphs" stroke="#222" stroke-width="0.12">200 400 600 800</text>
<text x="259.30" y="341.00" font-size="5.9" text-anchor="middle" font-weight="normal" fill="#222" stroke="#222" stroke-width="0.15">FSC-H</text>
<text transform="translate(227.00,326.50) rotate(-90)" font-size="4.9" text-anchor="middle" fill="#222" stroke="#222" stroke-width="0.1">10<tspan font-size="3.7" dy="-3.0">0</tspan></text>
<text transform="translate(227.00,312.00) rotate(-90)" font-size="4.9" text-anchor="middle" fill="#222" stroke="#222" stroke-width="0.1">10<tspan font-size="3.7" dy="-3.0">1</tspan></text>
<text transform="translate(227.00,297.50) rotate(-90)" font-size="4.9" text-anchor="middle" fill="#222" stroke="#222" stroke-width="0.1">10<tspan font-size="3.7" dy="-3.0">2</tspan></text>
<text transform="translate(227.00,283.00) rotate(-90)" font-size="4.9" text-anchor="middle" fill="#222" stroke="#222" stroke-width="0.1">10<tspan font-size="3.7" dy="-3.0">3</tspan></text>
<text transform="translate(227.00,268.50) rotate(-90)" font-size="4.9" text-anchor="middle" fill="#222" stroke="#222" stroke-width="0.1">10<tspan font-size="3.7" dy="-3.0">4</tspan></text>
<line x1="287.90" y1="268.50" x2="345.80" y2="268.50" stroke="#777" stroke-width="1"/>
<line x1="345.80" y1="268.50" x2="345.80" y2="326.50" stroke="#777" stroke-width="1"/>
<line x1="306.80" y1="268.50" x2="306.80" y2="326.50" stroke="#aaa" stroke-width="0.9"/>
<line x1="287.90" y1="308.50" x2="345.80" y2="308.50" stroke="#777" stroke-width="0.9"/>
<rect x="289.5" y="309.0" width="15.5" height="16.0" rx="6.2" ry="6.4" fill="#000" fill-opacity="0.35" filter="url(#bl)"/>
<rect x="291.0" y="312.5" width="12.0" height="10.5" rx="4.8" ry="4.2" fill="#000" fill-opacity="0.62" filter="url(#bl)"/>
<path d="M295.1 316.8h.8v.8h-.8zM298.7 318.8h.8v.8h-.8zM296.2 321.3h.8v.8h-.8zM296.6 320.2h.8v.8h-.8zM301.4 320.0h.8v.8h-.8zM300.1 312.5h.8v.8h-.8zM292.2 314.7h.8v.8h-.8zM299.1 323.4h.8v.8h-.8zM292.5 318.5h.8v.8h-.8zM293.9 314.2h.8v.8h-.8zM296.2 320.1h.8v.8h-.8zM298.1 322.1h.8v.8h-.8zM293.4 320.9h.8v.8h-.8zM300.9 317.5h.8v.8h-.8zM299.1 314.9h.8v.8h-.8zM293.0 315.6h.8v.8h-.8zM294.8 329.2h.8v.8h-.8zM295.4 324.1h.8v.8h-.8zM298.0 318.5h.8v.8h-.8zM300.1 314.0h.8v.8h-.8zM300.8 318.8h.8v.8h-.8zM291.4 319.7h.8v.8h-.8zM299.4 319.1h.8v.8h-.8zM303.4 315.5h.8v.8h-.8zM299.2 320.3h.8v.8h-.8zM293.8 322.2h.8v.8h-.8zM291.6 311.9h.8v.8h-.8zM299.3 312.8h.8v.8h-.8zM296.8 310.5h.8v.8h-.8zM297.5 312.6h.8v.8h-.8zM298.6 310.9h.8v.8h-.8zM299.0 316.2h.8v.8h-.8zM297.5 317.0h.8v.8h-.8zM297.8 311.8h.8v.8h-.8zM287.3 317.4h.8v.8h-.8zM293.6 315.4h.8v.8h-.8zM298.9 309.1h.8v.8h-.8zM294.3 314.7h.8v.8h-.8zM293.2 318.6h.8v.8h-.8zM296.7 313.9h.8v.8h-.8zM293.4 320.6h.8v.8h-.8zM294.7 319.7h.8v.8h-.8zM299.0 309.4h.8v.8h-.8zM293.1 317.3h.8v.8h-.8zM298.6 320.5h.8v.8h-.8zM300.4 321.5h.8v.8h-.8zM295.8 316.4h.8v.8h-.8zM300.3 315.5h.8v.8h-.8zM301.3 310.7h.8v.8h-.8zM299.8 316.5h.8v.8h-.8zM289.6 321.3h.8v.8h-.8zM298.5 317.3h.8v.8h-.8zM293.1 315.3h.8v.8h-.8zM303.1 313.8h.8v.8h-.8zM283.8 313.7h.8v.8h-.8zM292.6 316.7h.8v.8h-.8zM295.7 313.5h.8v.8h-.8zM294.0 321.6h.8v.8h-.8zM291.7 325.3h.8v.8h-.8zM295.1 312.7h.8v.8h-.8zM300.3 319.6h.8v.8h-.8zM293.2 320.3h.8v.8h-.8zM290.1 313.4h.8v.8h-.8zM301.6 316.2h.8v.8h-.8zM292.2 319.4h.8v.8h-.8zM300.8 317.2h.8v.8h-.8zM290.2 315.8h.8v.8h-.8zM298.9 320.4h.8v.8h-.8zM304.4 316.2h.8v.8h-.8zM295.4 317.1h.8v.8h-.8zM301.9 313.4h.8v.8h-.8zM302.3 305.9h.8v.8h-.8zM300.3 314.5h.8v.8h-.8zM299.0 320.1h.8v.8h-.8zM292.7 316.9h.8v.8h-.8zM298.2 319.7h.8v.8h-.8zM293.6 313.2h.8v.8h-.8zM289.8 327.7h.8v.8h-.8zM296.5 316.3h.8v.8h-.8zM291.5 321.1h.8v.8h-.8zM295.2 323.2h.8v.8h-.8zM300.6 317.3h.8v.8h-.8zM300.1 312.7h.8v.8h-.8zM296.0 314.9h.8v.8h-.8zM292.3 317.3h.8v.8h-.8zM296.7 323.2h.8v.8h-.8zM284.3 314.5h.8v.8h-.8zM293.7 315.3h.8v.8h-.8zM298.9 318.9h.8v.8h-.8zM297.4 315.3h.8v.8h-.8zM299.2 318.7h.8v.8h-.8zM290.1 316.2h.8v.8h-.8zM291.9 312.4h.8v.8h-.8zM297.8 317.5h.8v.8h-.8zM297.7 313.6h.8v.8h-.8zM296.5 313.5h.8v.8h-.8zM298.7 320.1h.8v.8h-.8zM304.1 322.5h.8v.8h-.8zM294.1 315.4h.8v.8h-.8zM293.6 318.5h.8v.8h-.8zM304.9 320.2h.8v.8h-.8zM288.7 312.1h.8v.8h-.8zM292.2 319.4h.8v.8h-.8zM297.3 318.5h.8v.8h-.8zM304.2 313.8h.8v.8h-.8zM294.0 325.4h.8v.8h-.8zM298.6 314.0h.8v.8h-.8zM289.4 311.0h.8v.8h-.8zM287.8 317.5h.8v.8h-.8zM297.4 321.3h.8v.8h-.8zM296.7 314.4h.8v.8h-.8zM294.4 325.1h.8v.8h-.8zM290.4 318.0h.8v.8h-.8zM297.3 319.8h.8v.8h-.8zM295.7 319.3h.8v.8h-.8zM300.4 316.6h.8v.8h-.8zM295.5 316.5h.8v.8h-.8zM293.5 316.4h.8v.8h-.8zM296.1 318.1h.8v.8h-.8zM302.4 322.6h.8v.8h-.8zM295.5 319.7h.8v.8h-.8zM298.4 320.4h.8v.8h-.8zM297.3 318.3h.8v.8h-.8zM295.4 314.0h.8v.8h-.8zM300.6 322.6h.8v.8h-.8zM299.8 319.0h.8v.8h-.8zM298.3 315.4h.8v.8h-.8zM290.3 320.0h.8v.8h-.8zM298.0 315.0h.8v.8h-.8zM293.5 322.5h.8v.8h-.8zM290.3 324.5h.8v.8h-.8zM299.7 327.0h.8v.8h-.8zM294.5 317.2h.8v.8h-.8zM295.3 317.9h.8v.8h-.8zM296.4 314.2h.8v.8h-.8zM301.4 314.0h.8v.8h-.8zM295.3 319.5h.8v.8h-.8zM295.2 315.5h.8v.8h-.8zM298.6 315.7h.8v.8h-.8zM292.4 316.8h.8v.8h-.8zM296.4 324.3h.8v.8h-.8zM293.0 321.2h.8v.8h-.8zM294.2 315.8h.8v.8h-.8zM296.0 318.4h.8v.8h-.8zM300.6 324.5h.8v.8h-.8zM294.8 322.7h.8v.8h-.8zM301.1 320.6h.8v.8h-.8zM294.3 321.0h.8v.8h-.8zM296.8 318.7h.8v.8h-.8zM296.2 320.0h.8v.8h-.8zM301.6 321.9h.8v.8h-.8zM296.5 321.4h.8v.8h-.8zM302.9 313.4h.8v.8h-.8zM303.0 311.7h.8v.8h-.8zM299.4 319.7h.8v.8h-.8zM303.0 318.4h.8v.8h-.8zM295.4 314.0h.8v.8h-.8zM292.4 320.4h.8v.8h-.8zM296.3 314.3h.8v.8h-.8zM299.3 314.1h.8v.8h-.8zM295.6 315.4h.8v.8h-.8zM303.7 323.3h.8v.8h-.8zM296.6 310.8h.8v.8h-.8zM298.3 317.5h.8v.8h-.8zM298.6 319.6h.8v.8h-.8zM296.0 321.1h.8v.8h-.8zM300.5 318.1h.8v.8h-.8zM295.7 315.3h.8v.8h-.8zM299.9 312.7h.8v.8h-.8zM296.6 314.2h.8v.8h-.8zM291.9 319.7h.8v.8h-.8zM297.2 317.4h.8v.8h-.8zM300.6 311.1h.8v.8h-.8zM297.0 318.4h.8v.8h-.8zM300.5 312.8h.8v.8h-.8zM300.0 318.2h.8v.8h-.8zM302.5 321.9h.8v.8h-.8zM299.4 326.1h.8v.8h-.8zM297.2 315.5h.8v.8h-.8zM295.9 313.4h.8v.8h-.8zM297.1 309.5h.8v.8h-.8zM296.9 319.0h.8v.8h-.8zM301.1 315.8h.8v.8h-.8zM302.6 314.6h.8v.8h-.8zM296.7 309.5h.8v.8h-.8zM294.3 314.0h.8v.8h-.8zM302.9 319.4h.8v.8h-.8zM293.1 319.4h.8v.8h-.8zM299.1 316.3h.8v.8h-.8zM297.3 316.0h.8v.8h-.8zM295.2 310.1h.8v.8h-.8zM296.9 322.4h.8v.8h-.8zM302.7 316.1h.8v.8h-.8zM294.4 316.4h.8v.8h-.8zM300.6 318.7h.8v.8h-.8zM295.0 318.7h.8v.8h-.8zM296.5 319.3h.8v.8h-.8zM295.7 311.3h.8v.8h-.8zM297.5 320.3h.8v.8h-.8zM293.1 316.8h.8v.8h-.8zM300.6 315.7h.8v.8h-.8zM294.8 325.4h.8v.8h-.8zM300.4 321.4h.8v.8h-.8zM293.7 323.8h.8v.8h-.8zM291.0 315.2h.8v.8h-.8zM300.0 322.6h.8v.8h-.8zM293.7 314.6h.8v.8h-.8zM298.0 309.5h.8v.8h-.8zM299.7 319.5h.8v.8h-.8zM295.6 319.4h.8v.8h-.8zM300.2 318.5h.8v.8h-.8zM299.2 323.3h.8v.8h-.8zM295.5 317.9h.8v.8h-.8zM295.3 321.4h.8v.8h-.8zM295.7 319.1h.8v.8h-.8zM297.8 317.5h.8v.8h-.8zM303.7 316.9h.8v.8h-.8zM302.6 320.6h.8v.8h-.8zM302.2 316.6h.8v.8h-.8zM300.7 320.3h.8v.8h-.8zM294.9 318.3h.8v.8h-.8zM296.8 317.1h.8v.8h-.8zM302.1 314.4h.8v.8h-.8zM291.0 310.3h.8v.8h-.8zM295.6 314.7h.8v.8h-.8zM297.3 319.5h.8v.8h-.8zM303.8 318.5h.8v.8h-.8zM299.0 314.3h.8v.8h-.8zM299.4 322.7h.8v.8h-.8zM302.3 309.5h.8v.8h-.8zM300.6 323.6h.8v.8h-.8zM300.3 311.3h.8v.8h-.8zM296.1 319.6h.8v.8h-.8zM298.8 314.0h.8v.8h-.8zM293.9 321.1h.8v.8h-.8zM292.3 322.9h.8v.8h-.8zM297.3 318.4h.8v.8h-.8zM292.3 314.9h.8v.8h-.8zM299.8 311.4h.8v.8h-.8zM305.0 311.7h.8v.8h-.8zM292.7 317.4h.8v.8h-.8zM299.0 320.2h.8v.8h-.8zM295.9 316.4h.8v.8h-.8zM296.4 315.0h.8v.8h-.8zM287.6 321.1h.8v.8h-.8zM298.2 317.9h.8v.8h-.8zM294.9 318.2h.8v.8h-.8zM297.2 316.9h.8v.8h-.8zM301.4 310.4h.8v.8h-.8zM298.2 313.0h.8v.8h-.8zM296.1 323.2h.8v.8h-.8zM293.2 316.9h.8v.8h-.8zM295.0 321.0h.8v.8h-.8zM293.6 310.6h.8v.8h-.8zM299.2 315.8h.8v.8h-.8zM296.1 321.5h.8v.8h-.8zM293.9 315.8h.8v.8h-.8zM297.8 318.9h.8v.8h-.8zM295.3 321.3h.8v.8h-.8zM305.6 315.6h.8v.8h-.8zM304.2 308.9h.8v.8h-.8zM302.5 315.9h.8v.8h-.8zM297.8 315.9h.8v.8h-.8zM294.9 312.2h.8v.8h-.8zM295.8 322.4h.8v.8h-.8zM301.5 315.9h.8v.8h-.8zM295.3 314.5h.8v.8h-.8zM292.8 324.4h.8v.8h-.8zM299.7 317.7h.8v.8h-.8zM295.4 313.2h.8v.8h-.8zM302.1 320.3h.8v.8h-.8zM293.7 321.2h.8v.8h-.8zM293.1 319.8h.8v.8h-.8zM293.7 315.6h.8v.8h-.8zM299.1 319.0h.8v.8h-.8zM301.0 313.9h.8v.8h-.8zM303.1 322.6h.8v.8h-.8zM297.2 319.1h.8v.8h-.8zM294.4 316.6h.8v.8h-.8zM292.3 317.6h.8v.8h-.8zM298.0 322.6h.8v.8h-.8zM300.8 320.5h.8v.8h-.8zM295.9 316.4h.8v.8h-.8zM296.0 318.1h.8v.8h-.8zM290.1 320.3h.8v.8h-.8zM291.4 315.2h.8v.8h-.8zM297.3 315.2h.8v.8h-.8zM303.4 316.9h.8v.8h-.8zM303.1 321.9h.8v.8h-.8zM295.4 318.8h.8v.8h-.8zM302.1 315.9h.8v.8h-.8zM297.6 315.0h.8v.8h-.8zM297.5 315.8h.8v.8h-.8zM297.6 321.2h.8v.8h-.8zM302.4 317.8h.8v.8h-.8zM298.0 320.6h.8v.8h-.8zM296.2 313.1h.8v.8h-.8zM301.4 313.5h.8v.8h-.8zM300.7 313.4h.8v.8h-.8zM304.1 313.1h.8v.8h-.8zM300.4 323.2h.8v.8h-.8zM293.7 323.1h.8v.8h-.8zM294.2 310.3h.8v.8h-.8zM299.9 320.0h.8v.8h-.8zM296.5 307.3h.8v.8h-.8zM297.0 316.0h.8v.8h-.8zM295.8 316.1h.8v.8h-.8zM290.6 315.0h.8v.8h-.8zM303.9 323.4h.8v.8h-.8zM295.9 314.4h.8v.8h-.8zM298.7 321.5h.8v.8h-.8zM299.9 312.6h.8v.8h-.8zM297.9 317.8h.8v.8h-.8zM302.6 322.0h.8v.8h-.8zM299.2 322.1h.8v.8h-.8zM295.8 323.3h.8v.8h-.8zM295.7 318.8h.8v.8h-.8zM300.7 313.6h.8v.8h-.8zM294.6 310.3h.8v.8h-.8zM297.9 317.0h.8v.8h-.8zM296.0 319.2h.8v.8h-.8zM289.4 317.2h.8v.8h-.8zM297.6 316.2h.8v.8h-.8zM300.2 324.2h.8v.8h-.8zM295.6 313.5h.8v.8h-.8zM295.0 317.6h.8v.8h-.8zM299.4 313.8h.8v.8h-.8zM301.0 313.2h.8v.8h-.8zM300.3 318.9h.8v.8h-.8zM299.0 325.8h.8v.8h-.8zM296.3 316.6h.8v.8h-.8zM299.0 320.7h.8v.8h-.8zM292.3 318.3h.8v.8h-.8zM294.5 319.7h.8v.8h-.8zM302.3 317.5h.8v.8h-.8zM296.9 318.0h.8v.8h-.8zM286.3 320.3h.8v.8h-.8zM299.3 317.9h.8v.8h-.8zM295.8 314.4h.8v.8h-.8zM296.6 322.1h.8v.8h-.8zM296.9 322.6h.8v.8h-.8zM287.7 315.4h.8v.8h-.8zM298.3 317.2h.8v.8h-.8zM291.1 314.6h.8v.8h-.8zM301.9 312.1h.8v.8h-.8zM293.6 312.9h.8v.8h-.8zM295.2 319.8h.8v.8h-.8zM299.5 309.2h.8v.8h-.8zM302.7 314.9h.8v.8h-.8zM295.1 323.9h.8v.8h-.8zM296.9 312.3h.8v.8h-.8zM294.9 314.4h.8v.8h-.8zM293.5 315.9h.8v.8h-.8zM300.5 318.6h.8v.8h-.8zM292.1 328.3h.8v.8h-.8zM293.6 317.7h.8v.8h-.8zM297.4 320.3h.8v.8h-.8zM296.0 319.1h.8v.8h-.8zM305.1 317.6h.8v.8h-.8zM293.2 318.6h.8v.8h-.8zM294.3 315.8h.8v.8h-.8zM298.0 318.6h.8v.8h-.8zM296.2 320.6h.8v.8h-.8zM296.5 312.1h.8v.8h-.8zM300.5 315.8h.8v.8h-.8zM301.8 314.7h.8v.8h-.8zM299.4 318.5h.8v.8h-.8zM287.2 311.3h.8v.8h-.8zM293.1 322.8h.8v.8h-.8zM290.2 320.9h.8v.8h-.8zM301.3 319.2h.8v.8h-.8zM299.8 315.3h.8v.8h-.8zM297.2 318.1h.8v.8h-.8zM298.8 320.1h.8v.8h-.8zM296.5 314.5h.8v.8h-.8zM295.2 318.9h.8v.8h-.8zM291.1 312.3h.8v.8h-.8zM295.7 315.1h.8v.8h-.8zM296.2 306.7h.8v.8h-.8zM296.0 316.3h.8v.8h-.8zM300.1 309.4h.8v.8h-.8zM296.1 319.1h.8v.8h-.8zM299.1 322.0h.8v.8h-.8zM301.2 313.1h.8v.8h-.8zM299.6 315.9h.8v.8h-.8zM294.3 323.3h.8v.8h-.8zM294.9 313.9h.8v.8h-.8zM295.7 313.9h.8v.8h-.8zM301.0 318.8h.8v.8h-.8zM302.5 318.9h.8v.8h-.8zM295.0 321.4h.8v.8h-.8zM294.8 315.4h.8v.8h-.8zM296.6 317.4h.8v.8h-.8zM301.7 314.8h.8v.8h-.8zM298.6 317.1h.8v.8h-.8zM292.6 312.9h.8v.8h-.8zM296.4 318.9h.8v.8h-.8zM298.4 319.2h.8v.8h-.8zM297.4 315.5h.8v.8h-.8zM298.8 313.3h.8v.8h-.8z" fill="#000" fill-opacity="0.5"/>
<rect x="291.0" y="297.0" width="12.0" height="10.5" rx="4.8" ry="4.2" fill="#000" fill-opacity="0.38" filter="url(#bl)"/>
<path d="M292.8 301.0h.8v.8h-.8zM292.5 300.4h.8v.8h-.8zM294.7 300.3h.8v.8h-.8zM296.9 299.5h.8v.8h-.8zM295.7 296.6h.8v.8h-.8zM297.5 299.2h.8v.8h-.8zM298.3 293.1h.8v.8h-.8zM294.5 302.8h.8v.8h-.8zM289.4 300.9h.8v.8h-.8zM297.3 302.3h.8v.8h-.8zM292.3 302.7h.8v.8h-.8zM297.5 299.0h.8v.8h-.8zM299.3 301.8h.8v.8h-.8zM297.1 300.6h.8v.8h-.8zM298.7 302.3h.8v.8h-.8zM300.6 303.4h.8v.8h-.8zM295.1 301.3h.8v.8h-.8zM299.9 300.9h.8v.8h-.8zM298.2 303.6h.8v.8h-.8zM296.4 294.7h.8v.8h-.8zM297.4 302.7h.8v.8h-.8zM297.4 299.6h.8v.8h-.8zM300.8 301.6h.8v.8h-.8zM295.0 299.7h.8v.8h-.8zM298.1 298.6h.8v.8h-.8zM293.9 308.3h.8v.8h-.8zM301.1 305.3h.8v.8h-.8zM301.3 303.9h.8v.8h-.8zM291.7 305.8h.8v.8h-.8zM300.9 303.5h.8v.8h-.8zM290.8 305.9h.8v.8h-.8zM301.3 300.5h.8v.8h-.8zM297.4 304.4h.8v.8h-.8zM296.7 305.5h.8v.8h-.8zM297.3 304.2h.8v.8h-.8zM297.3 297.3h.8v.8h-.8zM293.9 312.0h.8v.8h-.8zM297.9 306.1h.8v.8h-.8zM300.6 307.4h.8v.8h-.8zM298.7 300.1h.8v.8h-.8zM297.1 296.0h.8v.8h-.8zM296.4 304.9h.8v.8h-.8zM290.2 302.6h.8v.8h-.8zM299.6 306.2h.8v.8h-.8zM294.1 299.9h.8v.8h-.8zM291.1 298.8h.8v.8h-.8zM298.7 308.5h.8v.8h-.8zM293.4 306.3h.8v.8h-.8zM298.3 300.4h.8v.8h-.8zM303.9 294.0h.8v.8h-.8zM296.8 302.7h.8v.8h-.8zM303.7 307.7h.8v.8h-.8zM304.1 302.4h.8v.8h-.8zM300.1 306.3h.8v.8h-.8zM298.6 303.1h.8v.8h-.8zM296.4 300.7h.8v.8h-.8zM293.1 308.2h.8v.8h-.8zM295.6 295.4h.8v.8h-.8zM297.8 301.9h.8v.8h-.8zM297.6 307.7h.8v.8h-.8zM296.7 301.2h.8v.8h-.8zM294.6 301.9h.8v.8h-.8zM295.6 302.6h.8v.8h-.8zM306.9 303.2h.8v.8h-.8zM294.3 308.1h.8v.8h-.8zM299.7 304.6h.8v.8h-.8zM299.3 304.6h.8v.8h-.8zM299.1 306.5h.8v.8h-.8zM300.2 306.3h.8v.8h-.8zM295.4 302.0h.8v.8h-.8zM294.7 305.0h.8v.8h-.8zM299.6 300.5h.8v.8h-.8zM298.8 310.3h.8v.8h-.8zM300.9 298.5h.8v.8h-.8zM296.7 304.0h.8v.8h-.8zM296.9 303.2h.8v.8h-.8zM300.7 303.0h.8v.8h-.8zM293.5 304.3h.8v.8h-.8zM296.7 302.4h.8v.8h-.8zM295.2 297.6h.8v.8h-.8zM293.1 300.9h.8v.8h-.8zM293.6 293.4h.8v.8h-.8zM300.6 298.3h.8v.8h-.8zM294.7 303.7h.8v.8h-.8zM289.4 306.2h.8v.8h-.8zM294.6 304.1h.8v.8h-.8zM295.5 303.0h.8v.8h-.8zM297.3 302.0h.8v.8h-.8zM291.2 297.3h.8v.8h-.8zM296.9 306.5h.8v.8h-.8zM295.3 303.7h.8v.8h-.8zM297.5 303.5h.8v.8h-.8zM300.1 297.3h.8v.8h-.8zM297.9 301.4h.8v.8h-.8zM296.0 299.3h.8v.8h-.8zM294.5 298.7h.8v.8h-.8zM293.5 309.9h.8v.8h-.8zM302.4 302.0h.8v.8h-.8zM299.4 298.9h.8v.8h-.8zM288.2 296.2h.8v.8h-.8zM297.4 306.6h.8v.8h-.8zM296.9 298.8h.8v.8h-.8zM296.2 298.8h.8v.8h-.8zM292.6 301.3h.8v.8h-.8zM295.7 299.4h.8v.8h-.8zM294.2 299.1h.8v.8h-.8zM297.7 306.4h.8v.8h-.8zM296.3 309.1h.8v.8h-.8zM291.9 302.9h.8v.8h-.8zM293.3 301.5h.8v.8h-.8zM297.3 303.8h.8v.8h-.8zM300.6 300.2h.8v.8h-.8zM293.1 301.4h.8v.8h-.8zM297.9 299.8h.8v.8h-.8zM299.8 307.3h.8v.8h-.8zM292.5 303.1h.8v.8h-.8zM300.2 295.9h.8v.8h-.8zM297.7 301.3h.8v.8h-.8zM292.5 306.2h.8v.8h-.8zM297.7 300.5h.8v.8h-.8zM298.4 304.0h.8v.8h-.8zM299.4 303.8h.8v.8h-.8zM298.3 298.3h.8v.8h-.8zM295.7 302.4h.8v.8h-.8zM288.2 308.8h.8v.8h-.8zM295.8 298.7h.8v.8h-.8zM291.2 302.8h.8v.8h-.8zM297.1 300.2h.8v.8h-.8zM295.7 299.2h.8v.8h-.8zM294.6 301.7h.8v.8h-.8zM295.0 304.2h.8v.8h-.8zM296.5 302.4h.8v.8h-.8zM298.3 306.0h.8v.8h-.8zM298.9 302.7h.8v.8h-.8zM296.5 299.4h.8v.8h-.8zM295.9 304.2h.8v.8h-.8zM297.7 300.8h.8v.8h-.8zM292.8 297.1h.8v.8h-.8zM298.0 305.3h.8v.8h-.8zM298.2 297.7h.8v.8h-.8zM296.3 302.7h.8v.8h-.8zM294.1 303.1h.8v.8h-.8zM296.4 299.4h.8v.8h-.8zM293.1 304.6h.8v.8h-.8zM298.1 299.2h.8v.8h-.8zM293.8 304.8h.8v.8h-.8zM298.9 301.0h.8v.8h-.8zM302.0 301.1h.8v.8h-.8zM293.7 305.5h.8v.8h-.8zM296.4 303.1h.8v.8h-.8zM297.1 298.8h.8v.8h-.8zM293.2 301.4h.8v.8h-.8zM301.4 298.8h.8v.8h-.8zM301.3 302.7h.8v.8h-.8zM293.5 302.8h.8v.8h-.8zM298.8 299.2h.8v.8h-.8zM290.3 303.1h.8v.8h-.8zM293.5 303.4h.8v.8h-.8zM291.0 301.6h.8v.8h-.8zM294.4 297.3h.8v.8h-.8zM296.2 302.5h.8v.8h-.8zM295.2 298.3h.8v.8h-.8zM297.7 296.5h.8v.8h-.8zM298.7 303.6h.8v.8h-.8zM302.3 304.8h.8v.8h-.8zM298.1 302.8h.8v.8h-.8zM297.1 297.8h.8v.8h-.8zM301.6 303.7h.8v.8h-.8zM296.1 298.4h.8v.8h-.8zM301.7 303.7h.8v.8h-.8z" fill="#000" fill-opacity="0.42"/>
<line x1="287.90" y1="326.50" x2="345.80" y2="326.50" stroke="#222" stroke-width="1.2"/>
<line x1="288.10" y1="268.00" x2="288.10" y2="327.10" stroke="#222" stroke-width="1.3"/>
<line x1="286.10" y1="326.50" x2="287.90" y2="326.50" stroke="#222" stroke-width="0.9"/>
<line x1="286.10" y1="312.00" x2="287.90" y2="312.00" stroke="#222" stroke-width="0.9"/>
<line x1="286.10" y1="297.50" x2="287.90" y2="297.50" stroke="#222" stroke-width="0.9"/>
<line x1="286.10" y1="283.00" x2="287.90" y2="283.00" stroke="#222" stroke-width="0.9"/>
<line x1="286.10" y1="268.50" x2="287.90" y2="268.50" stroke="#222" stroke-width="0.9"/>
<line x1="288.90" y1="326.50" x2="288.90" y2="328.10" stroke="#333" stroke-width="0.7"/>
<line x1="291.75" y1="326.50" x2="291.75" y2="327.50" stroke="#333" stroke-width="0.7"/>
<line x1="294.59" y1="326.50" x2="294.59" y2="328.10" stroke="#333" stroke-width="0.7"/>
<line x1="297.44" y1="326.50" x2="297.44" y2="327.50" stroke="#333" stroke-width="0.7"/>
<line x1="300.28" y1="326.50" x2="300.28" y2="328.10" stroke="#333" stroke-width="0.7"/>
<line x1="303.12" y1="326.50" x2="303.12" y2="327.50" stroke="#333" stroke-width="0.7"/>
<line x1="305.97" y1="326.50" x2="305.97" y2="328.10" stroke="#333" stroke-width="0.7"/>
<line x1="308.81" y1="326.50" x2="308.81" y2="327.50" stroke="#333" stroke-width="0.7"/>
<line x1="311.66" y1="326.50" x2="311.66" y2="328.10" stroke="#333" stroke-width="0.7"/>
<line x1="314.50" y1="326.50" x2="314.50" y2="327.50" stroke="#333" stroke-width="0.7"/>
<line x1="317.35" y1="326.50" x2="317.35" y2="328.10" stroke="#333" stroke-width="0.7"/>
<line x1="320.19" y1="326.50" x2="320.19" y2="327.50" stroke="#333" stroke-width="0.7"/>
<line x1="323.04" y1="326.50" x2="323.04" y2="328.10" stroke="#333" stroke-width="0.7"/>
<line x1="325.88" y1="326.50" x2="325.88" y2="327.50" stroke="#333" stroke-width="0.7"/>
<line x1="328.73" y1="326.50" x2="328.73" y2="328.10" stroke="#333" stroke-width="0.7"/>
<line x1="331.57" y1="326.50" x2="331.57" y2="327.50" stroke="#333" stroke-width="0.7"/>
<line x1="334.42" y1="326.50" x2="334.42" y2="328.10" stroke="#333" stroke-width="0.7"/>
<line x1="337.26" y1="326.50" x2="337.26" y2="327.50" stroke="#333" stroke-width="0.7"/>
<line x1="340.11" y1="326.50" x2="340.11" y2="328.10" stroke="#333" stroke-width="0.7"/>
<line x1="342.95" y1="326.50" x2="342.95" y2="327.50" stroke="#333" stroke-width="0.7"/>
<line x1="345.80" y1="326.50" x2="345.80" y2="328.10" stroke="#333" stroke-width="0.7"/>
<text x="290.30" y="277.30" font-size="6.9" text-anchor="start" font-weight="normal" fill="#111" stroke="#111" stroke-width="0.1">17.6</text>
<text x="314.90" y="265.80" font-size="8.8" text-anchor="middle" font-weight="normal" fill="#111" stroke="#111" stroke-width="0.08">2</text>
<text x="316.20" y="334.30" font-size="5.7" text-anchor="middle" font-weight="normal" fill="#222" textLength="43" lengthAdjust="spacingAndGlyphs" stroke="#222" stroke-width="0.12">200 400 600 800</text>
<text x="317.20" y="341.00" font-size="5.9" text-anchor="middle" font-weight="normal" fill="#222" stroke="#222" stroke-width="0.15">FSC-H</text>
<line x1="345.80" y1="268.50" x2="403.70" y2="268.50" stroke="#777" stroke-width="1"/>
<line x1="403.70" y1="268.50" x2="403.70" y2="326.50" stroke="#777" stroke-width="1"/>
<line x1="364.70" y1="268.50" x2="364.70" y2="326.50" stroke="#aaa" stroke-width="0.9"/>
<line x1="345.80" y1="308.50" x2="403.70" y2="308.50" stroke="#777" stroke-width="0.9"/>
<rect x="347.5" y="309.5" width="15.5" height="15.0" rx="6.2" ry="6.0" fill="#000" fill-opacity="0.35" filter="url(#bl)"/>
<rect x="349.0" y="312.0" width="12.0" height="9.5" rx="4.8" ry="3.8" fill="#000" fill-opacity="0.66" filter="url(#bl)"/>
<path d="M350.8 319.8h.8v.8h-.8zM362.4 317.2h.8v.8h-.8zM356.8 315.7h.8v.8h-.8zM352.9 321.3h.8v.8h-.8zM366.8 317.7h.8v.8h-.8zM354.8 320.2h.8v.8h-.8zM354.1 320.0h.8v.8h-.8zM358.4 313.4h.8v.8h-.8zM351.2 317.0h.8v.8h-.8zM358.4 318.3h.8v.8h-.8zM359.9 312.1h.8v.8h-.8zM357.1 314.9h.8v.8h-.8zM355.6 318.5h.8v.8h-.8zM351.6 316.4h.8v.8h-.8zM350.9 318.3h.8v.8h-.8zM352.1 315.4h.8v.8h-.8zM356.1 314.8h.8v.8h-.8zM359.6 314.9h.8v.8h-.8zM358.4 318.3h.8v.8h-.8zM351.4 316.4h.8v.8h-.8zM352.1 315.9h.8v.8h-.8zM354.2 324.1h.8v.8h-.8zM353.7 323.1h.8v.8h-.8zM356.9 312.3h.8v.8h-.8zM346.6 319.8h.8v.8h-.8zM347.8 319.9h.8v.8h-.8zM359.1 318.7h.8v.8h-.8zM354.5 316.3h.8v.8h-.8zM356.2 316.1h.8v.8h-.8zM353.2 315.9h.8v.8h-.8zM359.6 314.9h.8v.8h-.8zM356.7 312.9h.8v.8h-.8zM352.6 312.1h.8v.8h-.8zM354.5 319.8h.8v.8h-.8zM356.4 315.4h.8v.8h-.8zM357.5 315.9h.8v.8h-.8zM356.6 318.3h.8v.8h-.8zM357.3 308.0h.8v.8h-.8zM350.4 320.2h.8v.8h-.8zM354.8 325.7h.8v.8h-.8zM354.4 315.2h.8v.8h-.8zM360.9 319.3h.8v.8h-.8zM362.4 319.2h.8v.8h-.8zM354.5 320.0h.8v.8h-.8zM352.3 315.6h.8v.8h-.8zM353.2 316.4h.8v.8h-.8zM358.2 315.4h.8v.8h-.8zM356.5 315.4h.8v.8h-.8zM358.6 306.9h.8v.8h-.8zM354.5 317.9h.8v.8h-.8zM351.2 321.0h.8v.8h-.8zM356.1 322.0h.8v.8h-.8zM358.9 319.7h.8v.8h-.8zM354.7 313.2h.8v.8h-.8zM354.4 315.5h.8v.8h-.8zM356.2 315.5h.8v.8h-.8zM366.7 311.3h.8v.8h-.8zM359.6 315.5h.8v.8h-.8zM354.3 320.7h.8v.8h-.8zM355.3 312.7h.8v.8h-.8zM356.8 316.5h.8v.8h-.8zM347.5 318.0h.8v.8h-.8zM351.3 314.5h.8v.8h-.8zM357.1 318.4h.8v.8h-.8zM354.2 325.4h.8v.8h-.8zM356.8 315.0h.8v.8h-.8zM356.1 316.8h.8v.8h-.8zM347.0 311.4h.8v.8h-.8zM350.0 325.0h.8v.8h-.8zM354.6 316.2h.8v.8h-.8zM353.1 320.9h.8v.8h-.8zM355.4 323.6h.8v.8h-.8zM358.2 323.4h.8v.8h-.8zM354.8 318.7h.8v.8h-.8zM353.6 316.6h.8v.8h-.8zM348.8 315.1h.8v.8h-.8zM351.7 314.8h.8v.8h-.8zM359.8 318.2h.8v.8h-.8zM359.8 320.5h.8v.8h-.8zM358.7 321.0h.8v.8h-.8zM353.0 320.2h.8v.8h-.8zM354.0 315.3h.8v.8h-.8zM359.7 325.3h.8v.8h-.8zM351.6 323.7h.8v.8h-.8zM358.4 314.1h.8v.8h-.8zM356.3 318.6h.8v.8h-.8zM356.7 315.9h.8v.8h-.8zM350.4 317.4h.8v.8h-.8zM358.5 320.2h.8v.8h-.8zM357.7 321.4h.8v.8h-.8zM351.5 317.1h.8v.8h-.8zM356.5 321.0h.8v.8h-.8zM355.8 319.2h.8v.8h-.8zM355.7 325.1h.8v.8h-.8zM347.1 317.2h.8v.8h-.8zM364.5 318.1h.8v.8h-.8zM348.4 317.7h.8v.8h-.8zM349.9 314.7h.8v.8h-.8zM356.1 323.6h.8v.8h-.8zM357.0 319.7h.8v.8h-.8zM359.1 318.0h.8v.8h-.8zM352.1 316.9h.8v.8h-.8zM356.5 316.2h.8v.8h-.8zM352.8 315.9h.8v.8h-.8zM349.6 313.4h.8v.8h-.8zM354.9 315.9h.8v.8h-.8zM355.4 322.5h.8v.8h-.8zM356.4 317.1h.8v.8h-.8zM350.9 313.2h.8v.8h-.8zM356.7 314.0h.8v.8h-.8zM356.9 313.2h.8v.8h-.8zM355.8 317.0h.8v.8h-.8zM359.0 315.8h.8v.8h-.8zM353.9 318.2h.8v.8h-.8zM355.5 323.6h.8v.8h-.8zM354.3 315.2h.8v.8h-.8zM354.1 319.0h.8v.8h-.8zM356.1 319.8h.8v.8h-.8zM350.1 326.5h.8v.8h-.8zM362.1 317.1h.8v.8h-.8zM350.7 317.8h.8v.8h-.8zM356.8 308.9h.8v.8h-.8zM355.3 311.7h.8v.8h-.8zM357.0 322.4h.8v.8h-.8zM359.1 311.6h.8v.8h-.8zM360.4 320.6h.8v.8h-.8zM353.9 319.1h.8v.8h-.8zM360.9 316.0h.8v.8h-.8zM355.2 315.2h.8v.8h-.8zM359.6 309.2h.8v.8h-.8zM360.5 313.6h.8v.8h-.8zM358.7 311.2h.8v.8h-.8zM351.8 315.0h.8v.8h-.8zM358.3 311.2h.8v.8h-.8zM357.5 314.9h.8v.8h-.8zM359.9 316.1h.8v.8h-.8zM357.1 316.6h.8v.8h-.8zM361.9 315.9h.8v.8h-.8zM355.2 324.6h.8v.8h-.8zM355.5 319.8h.8v.8h-.8zM352.5 318.0h.8v.8h-.8zM346.8 317.6h.8v.8h-.8zM352.8 311.6h.8v.8h-.8zM350.0 321.5h.8v.8h-.8zM356.8 311.6h.8v.8h-.8zM362.0 314.7h.8v.8h-.8zM353.9 318.2h.8v.8h-.8zM351.0 311.2h.8v.8h-.8zM352.5 321.7h.8v.8h-.8zM358.8 311.4h.8v.8h-.8zM359.7 317.4h.8v.8h-.8zM357.1 317.4h.8v.8h-.8zM356.8 313.5h.8v.8h-.8zM351.9 314.6h.8v.8h-.8zM353.9 319.6h.8v.8h-.8zM350.7 323.2h.8v.8h-.8zM352.9 315.1h.8v.8h-.8zM357.9 318.9h.8v.8h-.8zM354.0 313.3h.8v.8h-.8zM351.5 311.3h.8v.8h-.8zM359.5 321.3h.8v.8h-.8zM362.2 319.1h.8v.8h-.8zM356.5 320.1h.8v.8h-.8zM358.8 316.3h.8v.8h-.8zM356.6 325.3h.8v.8h-.8zM348.9 312.0h.8v.8h-.8zM351.7 320.1h.8v.8h-.8zM359.7 316.0h.8v.8h-.8zM357.8 317.1h.8v.8h-.8zM356.4 315.2h.8v.8h-.8zM355.1 317.2h.8v.8h-.8zM359.5 325.6h.8v.8h-.8zM348.5 319.2h.8v.8h-.8zM355.2 320.9h.8v.8h-.8zM359.2 320.2h.8v.8h-.8zM358.3 313.7h.8v.8h-.8zM348.9 323.5h.8v.8h-.8zM359.8 313.7h.8v.8h-.8zM360.1 319.7h.8v.8h-.8zM346.1 320.6h.8v.8h-.8zM351.6 321.6h.8v.8h-.8zM352.7 314.5h.8v.8h-.8zM349.5 316.4h.8v.8h-.8zM359.0 314.7h.8v.8h-.8zM348.3 325.3h.8v.8h-.8zM362.1 319.8h.8v.8h-.8zM353.2 312.7h.8v.8h-.8zM349.1 319.3h.8v.8h-.8zM360.1 313.3h.8v.8h-.8zM355.2 316.2h.8v.8h-.8zM354.3 319.1h.8v.8h-.8zM363.1 314.9h.8v.8h-.8zM358.4 321.3h.8v.8h-.8zM354.2 316.7h.8v.8h-.8zM350.2 321.3h.8v.8h-.8zM353.3 314.8h.8v.8h-.8zM355.5 314.0h.8v.8h-.8zM351.4 316.1h.8v.8h-.8zM360.8 316.5h.8v.8h-.8zM357.2 311.8h.8v.8h-.8zM348.0 324.0h.8v.8h-.8zM353.8 311.5h.8v.8h-.8zM354.9 319.5h.8v.8h-.8zM348.8 314.0h.8v.8h-.8zM356.2 313.8h.8v.8h-.8zM358.2 320.8h.8v.8h-.8zM356.9 315.6h.8v.8h-.8zM355.1 314.9h.8v.8h-.8zM354.8 318.4h.8v.8h-.8zM354.1 320.9h.8v.8h-.8zM365.0 315.2h.8v.8h-.8zM356.5 320.3h.8v.8h-.8zM357.7 316.4h.8v.8h-.8zM353.5 321.0h.8v.8h-.8zM357.6 319.1h.8v.8h-.8zM352.2 319.6h.8v.8h-.8zM358.2 316.6h.8v.8h-.8zM357.7 325.4h.8v.8h-.8zM348.2 319.5h.8v.8h-.8zM350.9 312.1h.8v.8h-.8zM354.4 319.3h.8v.8h-.8zM355.4 312.9h.8v.8h-.8zM349.9 315.2h.8v.8h-.8zM355.3 314.1h.8v.8h-.8zM349.6 323.8h.8v.8h-.8zM352.1 316.7h.8v.8h-.8zM353.2 315.1h.8v.8h-.8zM355.4 316.1h.8v.8h-.8zM357.6 312.8h.8v.8h-.8zM349.7 324.6h.8v.8h-.8zM355.0 320.1h.8v.8h-.8zM359.7 319.3h.8v.8h-.8zM355.4 311.4h.8v.8h-.8zM349.2 320.9h.8v.8h-.8zM357.8 319.4h.8v.8h-.8zM349.0 309.3h.8v.8h-.8zM351.3 312.8h.8v.8h-.8zM355.8 313.4h.8v.8h-.8zM361.2 314.9h.8v.8h-.8zM353.1 320.5h.8v.8h-.8zM356.5 313.9h.8v.8h-.8zM358.3 324.5h.8v.8h-.8zM350.6 316.3h.8v.8h-.8zM351.2 310.0h.8v.8h-.8zM357.6 319.9h.8v.8h-.8zM358.9 318.9h.8v.8h-.8zM347.7 317.1h.8v.8h-.8zM352.7 312.8h.8v.8h-.8zM351.1 320.1h.8v.8h-.8zM354.1 324.6h.8v.8h-.8zM357.0 310.1h.8v.8h-.8zM358.6 322.0h.8v.8h-.8zM355.4 312.7h.8v.8h-.8zM361.9 312.3h.8v.8h-.8zM354.9 310.1h.8v.8h-.8zM350.5 310.8h.8v.8h-.8zM359.4 321.7h.8v.8h-.8zM353.7 312.1h.8v.8h-.8zM355.0 318.7h.8v.8h-.8zM349.5 312.9h.8v.8h-.8zM354.9 319.9h.8v.8h-.8zM355.5 318.9h.8v.8h-.8zM350.5 307.9h.8v.8h-.8zM356.4 313.8h.8v.8h-.8zM354.8 315.8h.8v.8h-.8zM357.1 314.3h.8v.8h-.8zM360.7 317.4h.8v.8h-.8zM357.2 319.6h.8v.8h-.8zM359.2 318.8h.8v.8h-.8zM348.6 314.9h.8v.8h-.8zM362.3 319.0h.8v.8h-.8zM357.4 319.0h.8v.8h-.8zM352.8 314.7h.8v.8h-.8zM352.8 321.6h.8v.8h-.8zM356.6 324.0h.8v.8h-.8zM357.1 324.4h.8v.8h-.8zM357.0 312.8h.8v.8h-.8zM361.9 318.5h.8v.8h-.8zM359.8 318.1h.8v.8h-.8zM354.0 317.9h.8v.8h-.8zM351.0 312.7h.8v.8h-.8zM351.9 315.3h.8v.8h-.8zM350.1 316.9h.8v.8h-.8zM356.4 325.0h.8v.8h-.8zM362.2 317.1h.8v.8h-.8zM358.6 316.4h.8v.8h-.8zM356.7 317.1h.8v.8h-.8zM353.2 317.5h.8v.8h-.8zM349.6 318.9h.8v.8h-.8zM354.1 313.1h.8v.8h-.8zM353.9 319.4h.8v.8h-.8zM352.7 319.1h.8v.8h-.8zM357.4 323.2h.8v.8h-.8zM351.1 316.8h.8v.8h-.8zM357.2 323.0h.8v.8h-.8zM356.3 320.1h.8v.8h-.8zM349.7 315.0h.8v.8h-.8zM361.6 316.2h.8v.8h-.8zM363.5 314.5h.8v.8h-.8zM354.2 311.2h.8v.8h-.8zM357.7 318.3h.8v.8h-.8zM363.0 317.9h.8v.8h-.8zM354.3 311.9h.8v.8h-.8zM354.9 320.9h.8v.8h-.8zM358.1 321.9h.8v.8h-.8zM358.6 317.1h.8v.8h-.8zM357.6 317.9h.8v.8h-.8zM350.2 323.8h.8v.8h-.8zM356.7 313.2h.8v.8h-.8zM356.7 318.4h.8v.8h-.8zM359.1 322.8h.8v.8h-.8zM343.6 319.4h.8v.8h-.8zM361.1 313.6h.8v.8h-.8zM348.1 318.3h.8v.8h-.8zM356.5 318.6h.8v.8h-.8zM351.0 315.5h.8v.8h-.8zM356.0 320.1h.8v.8h-.8zM363.7 318.4h.8v.8h-.8zM352.9 308.2h.8v.8h-.8zM359.4 316.7h.8v.8h-.8zM354.8 313.5h.8v.8h-.8zM358.1 310.4h.8v.8h-.8zM355.7 317.7h.8v.8h-.8zM356.4 322.3h.8v.8h-.8zM354.9 317.6h.8v.8h-.8zM358.5 311.3h.8v.8h-.8zM354.1 317.5h.8v.8h-.8zM358.9 314.2h.8v.8h-.8zM358.3 318.7h.8v.8h-.8zM349.5 311.6h.8v.8h-.8zM349.7 317.8h.8v.8h-.8zM356.0 320.0h.8v.8h-.8zM358.4 315.1h.8v.8h-.8zM359.4 320.4h.8v.8h-.8zM357.1 319.1h.8v.8h-.8zM350.3 318.6h.8v.8h-.8zM351.3 312.7h.8v.8h-.8zM353.9 317.8h.8v.8h-.8zM355.0 316.0h.8v.8h-.8zM351.4 318.0h.8v.8h-.8zM352.4 311.8h.8v.8h-.8zM355.6 322.8h.8v.8h-.8zM353.7 313.2h.8v.8h-.8zM360.6 323.8h.8v.8h-.8zM354.1 316.4h.8v.8h-.8zM356.1 328.6h.8v.8h-.8zM355.8 321.1h.8v.8h-.8zM357.0 310.2h.8v.8h-.8zM351.0 312.5h.8v.8h-.8zM356.9 317.7h.8v.8h-.8zM362.2 316.2h.8v.8h-.8zM356.4 317.5h.8v.8h-.8zM355.8 326.2h.8v.8h-.8zM356.3 322.9h.8v.8h-.8zM360.3 314.9h.8v.8h-.8zM357.9 315.8h.8v.8h-.8zM355.7 317.9h.8v.8h-.8zM355.3 315.4h.8v.8h-.8zM361.3 316.2h.8v.8h-.8zM358.0 323.7h.8v.8h-.8zM357.7 321.2h.8v.8h-.8zM360.6 321.5h.8v.8h-.8zM361.9 311.7h.8v.8h-.8zM362.8 317.4h.8v.8h-.8zM348.5 314.8h.8v.8h-.8zM349.9 317.2h.8v.8h-.8zM349.5 313.4h.8v.8h-.8zM356.4 317.9h.8v.8h-.8zM352.2 316.3h.8v.8h-.8zM354.9 317.5h.8v.8h-.8zM355.2 316.4h.8v.8h-.8zM358.6 311.0h.8v.8h-.8zM353.3 317.8h.8v.8h-.8zM353.7 315.1h.8v.8h-.8zM353.6 318.1h.8v.8h-.8zM360.1 316.5h.8v.8h-.8zM354.2 318.6h.8v.8h-.8zM354.3 309.8h.8v.8h-.8zM356.3 315.8h.8v.8h-.8zM353.0 319.7h.8v.8h-.8zM355.4 315.1h.8v.8h-.8zM346.8 310.6h.8v.8h-.8zM355.3 316.8h.8v.8h-.8zM356.9 318.1h.8v.8h-.8zM353.4 312.4h.8v.8h-.8zM351.0 316.7h.8v.8h-.8zM350.8 320.2h.8v.8h-.8zM350.1 310.3h.8v.8h-.8zM354.5 310.4h.8v.8h-.8zM361.6 313.4h.8v.8h-.8zM355.0 316.3h.8v.8h-.8zM352.1 310.4h.8v.8h-.8zM348.0 320.6h.8v.8h-.8zM359.2 325.6h.8v.8h-.8zM349.6 319.4h.8v.8h-.8zM355.2 320.5h.8v.8h-.8zM353.3 320.0h.8v.8h-.8zM358.7 319.6h.8v.8h-.8zM360.9 316.6h.8v.8h-.8zM361.2 314.5h.8v.8h-.8z" fill="#000" fill-opacity="0.5"/>
<rect x="349.5" y="295.5" width="10.5" height="10.5" rx="4.2" ry="4.2" fill="#000" fill-opacity="0.2" filter="url(#bl)"/>
<path d="M359.5 291.6h.8v.8h-.8zM354.8 297.9h.8v.8h-.8zM354.8 303.9h.8v.8h-.8zM356.8 300.8h.8v.8h-.8zM359.6 295.7h.8v.8h-.8zM352.4 305.4h.8v.8h-.8zM355.7 293.8h.8v.8h-.8zM355.7 296.7h.8v.8h-.8zM359.0 304.2h.8v.8h-.8zM353.2 304.7h.8v.8h-.8zM352.4 303.5h.8v.8h-.8zM356.4 300.1h.8v.8h-.8zM350.7 299.6h.8v.8h-.8zM348.2 298.7h.8v.8h-.8zM349.4 304.5h.8v.8h-.8zM352.0 292.6h.8v.8h-.8zM356.4 301.7h.8v.8h-.8zM353.3 307.4h.8v.8h-.8zM357.0 300.7h.8v.8h-.8zM352.9 290.9h.8v.8h-.8zM356.1 303.6h.8v.8h-.8zM353.0 295.9h.8v.8h-.8zM354.6 295.1h.8v.8h-.8zM354.8 303.0h.8v.8h-.8zM359.1 301.4h.8v.8h-.8zM355.3 302.9h.8v.8h-.8zM358.8 299.5h.8v.8h-.8zM351.2 297.9h.8v.8h-.8zM351.1 297.6h.8v.8h-.8zM354.4 301.6h.8v.8h-.8zM355.2 300.7h.8v.8h-.8zM353.7 301.9h.8v.8h-.8zM357.3 303.0h.8v.8h-.8zM359.1 299.6h.8v.8h-.8zM354.0 306.0h.8v.8h-.8zM355.3 301.8h.8v.8h-.8zM353.8 303.6h.8v.8h-.8zM353.6 297.2h.8v.8h-.8zM354.6 299.1h.8v.8h-.8zM357.1 299.3h.8v.8h-.8zM355.1 299.8h.8v.8h-.8zM355.7 298.5h.8v.8h-.8zM357.9 295.9h.8v.8h-.8zM353.6 298.2h.8v.8h-.8zM356.6 300.6h.8v.8h-.8zM356.1 299.4h.8v.8h-.8zM352.7 296.9h.8v.8h-.8zM353.8 298.8h.8v.8h-.8zM355.6 301.7h.8v.8h-.8zM357.6 300.2h.8v.8h-.8zM352.6 297.1h.8v.8h-.8zM354.9 301.7h.8v.8h-.8zM360.4 301.1h.8v.8h-.8zM359.8 306.6h.8v.8h-.8zM351.7 304.4h.8v.8h-.8zM358.0 304.9h.8v.8h-.8zM354.7 303.6h.8v.8h-.8zM353.4 300.3h.8v.8h-.8zM354.8 306.3h.8v.8h-.8zM354.1 303.6h.8v.8h-.8zM354.9 298.2h.8v.8h-.8zM355.4 302.6h.8v.8h-.8zM352.7 302.6h.8v.8h-.8zM352.7 297.6h.8v.8h-.8zM355.4 299.7h.8v.8h-.8zM351.9 295.2h.8v.8h-.8zM354.8 301.3h.8v.8h-.8zM353.4 301.1h.8v.8h-.8zM350.4 301.8h.8v.8h-.8zM355.9 301.4h.8v.8h-.8zM353.0 300.8h.8v.8h-.8zM355.1 304.0h.8v.8h-.8zM355.5 301.3h.8v.8h-.8zM352.7 303.3h.8v.8h-.8zM358.1 298.9h.8v.8h-.8zM356.6 301.5h.8v.8h-.8zM354.6 296.3h.8v.8h-.8zM359.8 294.4h.8v.8h-.8zM355.6 299.3h.8v.8h-.8zM358.0 299.1h.8v.8h-.8zM354.9 302.5h.8v.8h-.8zM356.1 298.8h.8v.8h-.8zM356.7 301.8h.8v.8h-.8zM357.6 298.8h.8v.8h-.8zM354.6 299.2h.8v.8h-.8zM352.3 301.3h.8v.8h-.8zM355.9 305.1h.8v.8h-.8zM353.8 301.8h.8v.8h-.8zM358.0 300.1h.8v.8h-.8zM354.9 300.9h.8v.8h-.8zM352.8 297.3h.8v.8h-.8zM358.0 301.1h.8v.8h-.8zM354.5 296.5h.8v.8h-.8zM355.1 304.3h.8v.8h-.8zM351.5 297.6h.8v.8h-.8zM357.9 305.1h.8v.8h-.8zM359.2 298.7h.8v.8h-.8zM356.5 298.1h.8v.8h-.8zM356.2 299.3h.8v.8h-.8zM355.3 304.8h.8v.8h-.8zM355.7 299.7h.8v.8h-.8zM354.9 301.4h.8v.8h-.8zM353.3 301.2h.8v.8h-.8zM356.5 305.5h.8v.8h-.8zM348.9 296.7h.8v.8h-.8zM351.2 303.3h.8v.8h-.8zM361.7 301.1h.8v.8h-.8zM355.1 304.2h.8v.8h-.8zM347.8 299.9h.8v.8h-.8zM345.8 301.0h.8v.8h-.8zM353.3 298.9h.8v.8h-.8zM355.7 298.6h.8v.8h-.8zM357.9 300.5h.8v.8h-.8zM355.8 308.7h.8v.8h-.8zM353.5 303.5h.8v.8h-.8zM352.4 304.5h.8v.8h-.8zM357.5 301.0h.8v.8h-.8zM357.6 305.7h.8v.8h-.8zM358.7 300.5h.8v.8h-.8zM354.6 304.1h.8v.8h-.8z" fill="#000" fill-opacity="0.4"/>
<line x1="345.80" y1="326.50" x2="403.70" y2="326.50" stroke="#222" stroke-width="1.2"/>
<line x1="346.00" y1="268.00" x2="346.00" y2="327.10" stroke="#222" stroke-width="1.3"/>
<line x1="344.00" y1="326.50" x2="345.80" y2="326.50" stroke="#222" stroke-width="0.9"/>
<line x1="344.00" y1="312.00" x2="345.80" y2="312.00" stroke="#222" stroke-width="0.9"/>
<line x1="344.00" y1="297.50" x2="345.80" y2="297.50" stroke="#222" stroke-width="0.9"/>
<line x1="344.00" y1="283.00" x2="345.80" y2="283.00" stroke="#222" stroke-width="0.9"/>
<line x1="344.00" y1="268.50" x2="345.80" y2="268.50" stroke="#222" stroke-width="0.9"/>
<line x1="346.80" y1="326.50" x2="346.80" y2="328.10" stroke="#333" stroke-width="0.7"/>
<line x1="349.65" y1="326.50" x2="349.65" y2="327.50" stroke="#333" stroke-width="0.7"/>
<line x1="352.49" y1="326.50" x2="352.49" y2="328.10" stroke="#333" stroke-width="0.7"/>
<line x1="355.34" y1="326.50" x2="355.34" y2="327.50" stroke="#333" stroke-width="0.7"/>
<line x1="358.18" y1="326.50" x2="358.18" y2="328.10" stroke="#333" stroke-width="0.7"/>
<line x1="361.03" y1="326.50" x2="361.03" y2="327.50" stroke="#333" stroke-width="0.7"/>
<line x1="363.87" y1="326.50" x2="363.87" y2="328.10" stroke="#333" stroke-width="0.7"/>
<line x1="366.72" y1="326.50" x2="366.72" y2="327.50" stroke="#333" stroke-width="0.7"/>
<line x1="369.56" y1="326.50" x2="369.56" y2="328.10" stroke="#333" stroke-width="0.7"/>
<line x1="372.41" y1="326.50" x2="372.41" y2="327.50" stroke="#333" stroke-width="0.7"/>
<line x1="375.25" y1="326.50" x2="375.25" y2="328.10" stroke="#333" stroke-width="0.7"/>
<line x1="378.10" y1="326.50" x2="378.10" y2="327.50" stroke="#333" stroke-width="0.7"/>
<line x1="380.94" y1="326.50" x2="380.94" y2="328.10" stroke="#333" stroke-width="0.7"/>
<line x1="383.79" y1="326.50" x2="383.79" y2="327.50" stroke="#333" stroke-width="0.7"/>
<line x1="386.63" y1="326.50" x2="386.63" y2="328.10" stroke="#333" stroke-width="0.7"/>
<line x1="389.48" y1="326.50" x2="389.48" y2="327.50" stroke="#333" stroke-width="0.7"/>
<line x1="392.32" y1="326.50" x2="392.32" y2="328.10" stroke="#333" stroke-width="0.7"/>
<line x1="395.17" y1="326.50" x2="395.17" y2="327.50" stroke="#333" stroke-width="0.7"/>
<line x1="398.01" y1="326.50" x2="398.01" y2="328.10" stroke="#333" stroke-width="0.7"/>
<line x1="400.86" y1="326.50" x2="400.86" y2="327.50" stroke="#333" stroke-width="0.7"/>
<line x1="403.70" y1="326.50" x2="403.70" y2="328.10" stroke="#333" stroke-width="0.7"/>
<text x="349.00" y="277.30" font-size="6.9" text-anchor="start" font-weight="normal" fill="#111" stroke="#111" stroke-width="0.1">10.9</text>
<text x="374.60" y="265.80" font-size="8.8" text-anchor="middle" font-weight="normal" fill="#111" stroke="#111" stroke-width="0.08">3</text>
<text x="374.10" y="334.30" font-size="5.7" text-anchor="middle" font-weight="normal" fill="#222" textLength="43" lengthAdjust="spacingAndGlyphs" stroke="#222" stroke-width="0.12">200 400 600 800</text>
<text x="375.10" y="341.00" font-size="5.9" text-anchor="middle" font-weight="normal" fill="#222" stroke="#222" stroke-width="0.15">FSC-H</text>
<line x1="403.70" y1="268.50" x2="461.60" y2="268.50" stroke="#777" stroke-width="1"/>
<line x1="461.60" y1="268.50" x2="461.60" y2="326.50" stroke="#777" stroke-width="1"/>
<line x1="422.60" y1="268.50" x2="422.60" y2="326.50" stroke="#aaa" stroke-width="0.9"/>
<line x1="403.70" y1="308.50" x2="461.60" y2="308.50" stroke="#777" stroke-width="0.9"/>
<rect x="406.5" y="309.5" width="15.0" height="15.0" rx="6.0" ry="6.0" fill="#000" fill-opacity="0.38" filter="url(#bl)"/>
<rect x="408.0" y="312.0" width="12.0" height="10.0" rx="4.8" ry="4.0" fill="#000" fill-opacity="0.72" filter="url(#bl)"/>
<path d="M408.5 314.9h.8v.8h-.8zM415.8 319.4h.8v.8h-.8zM420.9 324.0h.8v.8h-.8zM415.2 318.9h.8v.8h-.8zM409.1 316.5h.8v.8h-.8zM415.0 316.4h.8v.8h-.8zM414.2 319.6h.8v.8h-.8zM410.5 315.1h.8v.8h-.8zM407.4 321.6h.8v.8h-.8zM410.1 310.7h.8v.8h-.8zM416.9 316.4h.8v.8h-.8zM417.6 315.8h.8v.8h-.8zM421.9 320.0h.8v.8h-.8zM414.6 317.7h.8v.8h-.8zM413.2 320.4h.8v.8h-.8zM421.4 315.6h.8v.8h-.8zM410.0 319.5h.8v.8h-.8zM418.0 311.5h.8v.8h-.8zM411.4 313.4h.8v.8h-.8zM416.1 319.2h.8v.8h-.8zM411.3 312.9h.8v.8h-.8zM416.5 309.4h.8v.8h-.8zM416.4 316.7h.8v.8h-.8zM421.1 321.1h.8v.8h-.8zM411.9 316.2h.8v.8h-.8zM413.0 314.5h.8v.8h-.8zM414.3 320.9h.8v.8h-.8zM408.4 316.4h.8v.8h-.8zM419.5 320.1h.8v.8h-.8zM411.0 314.2h.8v.8h-.8zM410.8 311.1h.8v.8h-.8zM418.3 317.5h.8v.8h-.8zM411.4 311.8h.8v.8h-.8zM412.6 315.3h.8v.8h-.8zM420.4 315.5h.8v.8h-.8zM414.4 321.3h.8v.8h-.8zM416.5 316.6h.8v.8h-.8zM405.9 322.6h.8v.8h-.8zM416.2 315.6h.8v.8h-.8zM413.7 313.6h.8v.8h-.8zM410.7 311.6h.8v.8h-.8zM415.9 319.2h.8v.8h-.8zM414.6 320.2h.8v.8h-.8zM416.0 317.7h.8v.8h-.8zM410.7 319.5h.8v.8h-.8zM418.4 319.7h.8v.8h-.8zM418.6 315.4h.8v.8h-.8zM410.4 322.0h.8v.8h-.8zM411.8 318.2h.8v.8h-.8zM413.3 317.3h.8v.8h-.8zM413.0 315.2h.8v.8h-.8zM407.4 324.5h.8v.8h-.8zM414.7 309.9h.8v.8h-.8zM410.7 313.0h.8v.8h-.8zM411.3 307.6h.8v.8h-.8zM416.1 323.5h.8v.8h-.8zM413.1 320.1h.8v.8h-.8zM416.2 312.5h.8v.8h-.8zM418.5 310.8h.8v.8h-.8zM411.9 315.9h.8v.8h-.8zM418.6 317.7h.8v.8h-.8zM413.5 314.2h.8v.8h-.8zM414.3 317.4h.8v.8h-.8zM416.7 322.5h.8v.8h-.8zM416.7 317.3h.8v.8h-.8zM413.4 323.3h.8v.8h-.8zM414.7 317.2h.8v.8h-.8zM420.6 323.2h.8v.8h-.8zM416.1 316.8h.8v.8h-.8zM411.7 321.3h.8v.8h-.8zM412.3 320.9h.8v.8h-.8zM411.1 317.6h.8v.8h-.8zM415.5 317.8h.8v.8h-.8zM414.9 318.7h.8v.8h-.8zM409.9 313.0h.8v.8h-.8zM413.5 324.1h.8v.8h-.8zM413.5 313.7h.8v.8h-.8zM411.6 317.4h.8v.8h-.8zM418.3 315.1h.8v.8h-.8zM416.1 318.0h.8v.8h-.8zM412.7 313.7h.8v.8h-.8zM413.4 314.5h.8v.8h-.8zM416.0 310.6h.8v.8h-.8zM418.1 320.1h.8v.8h-.8zM416.1 322.9h.8v.8h-.8zM416.2 310.8h.8v.8h-.8zM414.2 319.0h.8v.8h-.8zM411.5 313.0h.8v.8h-.8zM415.6 319.2h.8v.8h-.8zM412.4 316.3h.8v.8h-.8zM412.1 315.1h.8v.8h-.8zM413.8 321.3h.8v.8h-.8zM408.1 316.0h.8v.8h-.8zM419.9 318.5h.8v.8h-.8zM414.6 320.4h.8v.8h-.8zM410.3 312.7h.8v.8h-.8zM407.9 311.7h.8v.8h-.8zM414.9 320.5h.8v.8h-.8zM412.5 314.7h.8v.8h-.8zM415.5 319.6h.8v.8h-.8zM414.9 310.1h.8v.8h-.8zM412.0 307.7h.8v.8h-.8zM414.9 314.0h.8v.8h-.8zM411.6 322.9h.8v.8h-.8zM418.8 319.1h.8v.8h-.8zM415.0 317.9h.8v.8h-.8zM411.9 317.1h.8v.8h-.8zM421.0 313.9h.8v.8h-.8zM411.6 317.9h.8v.8h-.8zM417.3 320.4h.8v.8h-.8zM410.5 316.8h.8v.8h-.8zM413.0 312.6h.8v.8h-.8zM414.3 315.4h.8v.8h-.8zM417.4 318.9h.8v.8h-.8zM411.2 317.6h.8v.8h-.8zM412.7 314.9h.8v.8h-.8zM412.2 321.3h.8v.8h-.8zM412.5 310.8h.8v.8h-.8zM411.2 320.3h.8v.8h-.8zM421.9 313.3h.8v.8h-.8zM412.7 316.0h.8v.8h-.8zM408.9 318.8h.8v.8h-.8zM413.8 318.3h.8v.8h-.8zM422.2 316.2h.8v.8h-.8zM416.9 320.4h.8v.8h-.8zM411.7 315.0h.8v.8h-.8zM419.7 319.9h.8v.8h-.8zM414.5 313.1h.8v.8h-.8zM417.2 319.2h.8v.8h-.8zM422.0 322.8h.8v.8h-.8zM416.9 318.3h.8v.8h-.8zM414.2 315.2h.8v.8h-.8zM415.1 318.2h.8v.8h-.8zM416.4 321.3h.8v.8h-.8zM415.1 315.2h.8v.8h-.8zM416.9 323.1h.8v.8h-.8zM411.0 318.8h.8v.8h-.8zM416.0 319.3h.8v.8h-.8zM415.8 316.9h.8v.8h-.8zM413.6 323.6h.8v.8h-.8zM420.3 312.0h.8v.8h-.8zM404.8 318.9h.8v.8h-.8zM411.5 315.3h.8v.8h-.8zM408.2 318.6h.8v.8h-.8zM413.8 315.2h.8v.8h-.8zM417.3 326.4h.8v.8h-.8zM419.4 321.7h.8v.8h-.8zM412.5 319.7h.8v.8h-.8zM413.9 321.6h.8v.8h-.8zM416.1 317.1h.8v.8h-.8zM416.0 314.5h.8v.8h-.8zM416.9 322.9h.8v.8h-.8zM412.7 319.3h.8v.8h-.8zM407.9 320.8h.8v.8h-.8zM417.2 313.4h.8v.8h-.8zM420.4 317.7h.8v.8h-.8zM407.7 312.1h.8v.8h-.8zM417.2 316.2h.8v.8h-.8zM418.0 311.4h.8v.8h-.8zM413.6 320.9h.8v.8h-.8zM411.5 319.8h.8v.8h-.8zM412.7 318.5h.8v.8h-.8zM415.2 325.7h.8v.8h-.8zM409.5 320.2h.8v.8h-.8zM418.8 313.0h.8v.8h-.8zM414.3 325.9h.8v.8h-.8zM417.8 306.1h.8v.8h-.8zM413.1 310.8h.8v.8h-.8zM415.1 314.5h.8v.8h-.8zM412.0 314.1h.8v.8h-.8zM415.1 315.5h.8v.8h-.8zM410.7 316.4h.8v.8h-.8zM415.5 314.0h.8v.8h-.8zM418.0 311.0h.8v.8h-.8zM415.5 315.8h.8v.8h-.8zM419.7 314.8h.8v.8h-.8zM411.6 312.2h.8v.8h-.8zM421.2 319.6h.8v.8h-.8zM410.0 316.0h.8v.8h-.8zM410.5 323.0h.8v.8h-.8zM415.5 309.6h.8v.8h-.8zM414.8 320.7h.8v.8h-.8zM414.0 319.0h.8v.8h-.8zM413.6 318.0h.8v.8h-.8zM414.8 314.6h.8v.8h-.8zM415.3 317.9h.8v.8h-.8zM413.9 314.7h.8v.8h-.8zM410.3 318.2h.8v.8h-.8zM417.0 308.1h.8v.8h-.8zM412.1 322.3h.8v.8h-.8zM417.3 314.6h.8v.8h-.8zM418.9 313.5h.8v.8h-.8zM411.1 324.6h.8v.8h-.8zM412.4 316.4h.8v.8h-.8zM408.0 313.4h.8v.8h-.8zM409.7 316.7h.8v.8h-.8zM407.3 321.3h.8v.8h-.8zM412.7 315.0h.8v.8h-.8zM411.7 320.1h.8v.8h-.8zM419.6 315.7h.8v.8h-.8zM419.9 323.3h.8v.8h-.8zM418.9 318.4h.8v.8h-.8zM408.6 319.8h.8v.8h-.8zM412.5 318.0h.8v.8h-.8zM407.1 316.2h.8v.8h-.8zM414.9 313.7h.8v.8h-.8zM415.1 323.6h.8v.8h-.8zM414.8 314.7h.8v.8h-.8zM422.7 309.1h.8v.8h-.8zM410.6 318.8h.8v.8h-.8zM411.8 308.6h.8v.8h-.8zM414.9 320.4h.8v.8h-.8zM411.1 322.8h.8v.8h-.8zM415.8 321.7h.8v.8h-.8zM408.4 317.2h.8v.8h-.8zM419.8 324.9h.8v.8h-.8zM418.8 317.2h.8v.8h-.8zM414.7 314.9h.8v.8h-.8zM418.0 314.6h.8v.8h-.8zM414.5 309.5h.8v.8h-.8zM408.5 324.0h.8v.8h-.8zM414.2 318.1h.8v.8h-.8zM406.0 317.1h.8v.8h-.8zM421.6 311.6h.8v.8h-.8zM405.3 316.6h.8v.8h-.8zM412.1 316.5h.8v.8h-.8zM409.4 312.1h.8v.8h-.8zM409.5 319.7h.8v.8h-.8zM413.8 320.4h.8v.8h-.8zM410.1 319.5h.8v.8h-.8zM412.4 317.6h.8v.8h-.8zM417.4 317.4h.8v.8h-.8zM412.7 311.0h.8v.8h-.8zM414.2 320.2h.8v.8h-.8zM411.7 317.0h.8v.8h-.8zM407.5 312.2h.8v.8h-.8zM415.5 322.2h.8v.8h-.8zM412.9 310.9h.8v.8h-.8zM412.6 311.3h.8v.8h-.8zM413.0 324.6h.8v.8h-.8zM415.1 316.7h.8v.8h-.8zM417.8 315.8h.8v.8h-.8zM415.2 318.0h.8v.8h-.8zM415.6 311.7h.8v.8h-.8zM416.6 320.6h.8v.8h-.8zM405.6 306.9h.8v.8h-.8zM410.7 322.9h.8v.8h-.8zM414.1 319.8h.8v.8h-.8zM416.0 320.6h.8v.8h-.8zM411.7 315.0h.8v.8h-.8zM415.4 319.6h.8v.8h-.8zM416.1 318.5h.8v.8h-.8zM412.2 321.5h.8v.8h-.8zM415.7 321.3h.8v.8h-.8zM404.6 321.1h.8v.8h-.8zM405.0 318.1h.8v.8h-.8zM411.5 317.7h.8v.8h-.8zM412.2 316.1h.8v.8h-.8zM414.7 318.6h.8v.8h-.8zM411.1 307.6h.8v.8h-.8zM411.1 319.3h.8v.8h-.8zM410.9 318.9h.8v.8h-.8zM412.6 313.7h.8v.8h-.8zM418.3 323.6h.8v.8h-.8zM413.6 317.1h.8v.8h-.8zM417.5 312.2h.8v.8h-.8zM410.8 321.6h.8v.8h-.8zM417.3 315.4h.8v.8h-.8zM411.1 318.6h.8v.8h-.8zM408.8 315.3h.8v.8h-.8zM413.1 307.8h.8v.8h-.8zM416.2 320.2h.8v.8h-.8zM418.0 311.7h.8v.8h-.8zM409.2 314.1h.8v.8h-.8zM409.2 325.1h.8v.8h-.8zM410.4 316.0h.8v.8h-.8zM414.8 319.0h.8v.8h-.8zM419.4 313.1h.8v.8h-.8zM417.3 317.8h.8v.8h-.8zM409.6 317.8h.8v.8h-.8zM408.8 323.5h.8v.8h-.8zM411.3 321.1h.8v.8h-.8zM418.8 314.9h.8v.8h-.8zM410.7 317.8h.8v.8h-.8zM410.1 320.7h.8v.8h-.8zM414.7 314.3h.8v.8h-.8zM411.4 320.0h.8v.8h-.8zM408.6 323.7h.8v.8h-.8zM411.1 316.5h.8v.8h-.8zM410.6 323.5h.8v.8h-.8zM417.1 322.3h.8v.8h-.8zM416.4 317.6h.8v.8h-.8zM420.3 319.8h.8v.8h-.8zM415.6 319.5h.8v.8h-.8zM416.7 318.3h.8v.8h-.8zM413.4 311.1h.8v.8h-.8zM421.7 312.2h.8v.8h-.8zM406.0 314.5h.8v.8h-.8zM421.2 322.0h.8v.8h-.8zM411.8 318.3h.8v.8h-.8zM413.9 309.6h.8v.8h-.8zM412.8 318.4h.8v.8h-.8zM418.4 312.6h.8v.8h-.8zM405.6 311.2h.8v.8h-.8zM415.2 317.6h.8v.8h-.8zM414.6 317.8h.8v.8h-.8zM412.6 312.0h.8v.8h-.8zM415.7 318.7h.8v.8h-.8zM416.2 322.1h.8v.8h-.8zM409.4 308.2h.8v.8h-.8zM407.3 325.5h.8v.8h-.8zM410.6 318.8h.8v.8h-.8zM413.9 320.1h.8v.8h-.8zM426.0 315.3h.8v.8h-.8zM413.4 314.9h.8v.8h-.8zM414.9 319.3h.8v.8h-.8zM410.4 322.4h.8v.8h-.8zM418.3 319.0h.8v.8h-.8zM413.6 316.3h.8v.8h-.8zM407.8 319.8h.8v.8h-.8zM410.3 315.3h.8v.8h-.8zM417.7 313.7h.8v.8h-.8zM412.0 320.6h.8v.8h-.8zM421.0 314.6h.8v.8h-.8zM418.1 314.7h.8v.8h-.8zM415.5 319.1h.8v.8h-.8zM409.7 321.2h.8v.8h-.8zM420.7 317.5h.8v.8h-.8zM415.0 312.7h.8v.8h-.8zM420.7 317.5h.8v.8h-.8zM409.2 320.2h.8v.8h-.8zM408.5 314.6h.8v.8h-.8zM406.0 322.6h.8v.8h-.8zM422.3 314.8h.8v.8h-.8zM411.5 315.0h.8v.8h-.8zM411.9 319.4h.8v.8h-.8zM419.5 313.3h.8v.8h-.8zM415.7 310.3h.8v.8h-.8zM419.7 316.9h.8v.8h-.8zM411.4 323.2h.8v.8h-.8zM413.6 322.6h.8v.8h-.8zM418.0 323.7h.8v.8h-.8zM411.0 317.5h.8v.8h-.8zM415.4 316.5h.8v.8h-.8zM419.7 314.5h.8v.8h-.8zM417.8 322.5h.8v.8h-.8zM406.7 313.5h.8v.8h-.8zM410.6 315.1h.8v.8h-.8zM415.5 316.6h.8v.8h-.8zM414.3 315.5h.8v.8h-.8zM413.7 319.1h.8v.8h-.8zM416.8 314.2h.8v.8h-.8zM413.6 314.3h.8v.8h-.8zM413.3 311.7h.8v.8h-.8zM417.6 319.9h.8v.8h-.8zM413.5 314.6h.8v.8h-.8zM412.3 314.7h.8v.8h-.8zM408.2 323.6h.8v.8h-.8zM426.3 312.5h.8v.8h-.8zM409.6 319.5h.8v.8h-.8zM416.3 311.2h.8v.8h-.8zM406.8 319.4h.8v.8h-.8zM406.5 322.8h.8v.8h-.8zM412.1 317.6h.8v.8h-.8zM414.0 315.1h.8v.8h-.8zM413.5 316.1h.8v.8h-.8zM418.7 316.9h.8v.8h-.8zM413.9 315.2h.8v.8h-.8zM411.6 314.4h.8v.8h-.8zM414.0 324.4h.8v.8h-.8zM418.2 318.2h.8v.8h-.8zM420.3 321.2h.8v.8h-.8zM414.8 316.6h.8v.8h-.8zM409.9 318.2h.8v.8h-.8zM412.8 311.1h.8v.8h-.8zM409.2 324.8h.8v.8h-.8zM414.8 319.2h.8v.8h-.8zM414.7 315.4h.8v.8h-.8zM415.7 321.4h.8v.8h-.8zM412.8 319.2h.8v.8h-.8zM417.8 315.4h.8v.8h-.8zM414.6 314.4h.8v.8h-.8zM416.3 315.8h.8v.8h-.8zM418.3 314.3h.8v.8h-.8zM420.3 316.0h.8v.8h-.8zM410.8 313.7h.8v.8h-.8zM416.5 313.9h.8v.8h-.8zM420.8 322.2h.8v.8h-.8zM415.9 311.7h.8v.8h-.8zM413.9 314.4h.8v.8h-.8zM407.2 318.9h.8v.8h-.8zM422.3 315.2h.8v.8h-.8zM417.0 322.2h.8v.8h-.8zM410.4 315.9h.8v.8h-.8zM415.0 319.1h.8v.8h-.8zM409.7 318.1h.8v.8h-.8zM413.6 320.9h.8v.8h-.8zM408.0 315.1h.8v.8h-.8zM412.1 316.0h.8v.8h-.8zM416.7 314.8h.8v.8h-.8z" fill="#000" fill-opacity="0.5"/>
<path d="M421.0 299.5h.8v.8h-.8zM415.8 305.6h.8v.8h-.8zM416.2 301.3h.8v.8h-.8zM411.2 301.1h.8v.8h-.8zM415.3 302.4h.8v.8h-.8zM415.1 304.0h.8v.8h-.8zM411.1 298.7h.8v.8h-.8zM417.5 300.3h.8v.8h-.8zM409.1 308.5h.8v.8h-.8zM411.2 298.7h.8v.8h-.8zM416.2 298.0h.8v.8h-.8zM411.1 305.7h.8v.8h-.8zM411.2 310.8h.8v.8h-.8zM413.8 311.4h.8v.8h-.8zM413.9 302.2h.8v.8h-.8zM411.7 301.2h.8v.8h-.8zM412.1 301.9h.8v.8h-.8zM415.6 297.6h.8v.8h-.8zM411.0 294.7h.8v.8h-.8zM417.6 301.7h.8v.8h-.8zM413.5 301.8h.8v.8h-.8zM416.3 303.1h.8v.8h-.8zM415.8 301.4h.8v.8h-.8zM413.2 301.8h.8v.8h-.8zM408.4 305.8h.8v.8h-.8zM409.2 298.5h.8v.8h-.8zM415.3 302.2h.8v.8h-.8zM415.7 308.0h.8v.8h-.8zM418.6 306.8h.8v.8h-.8zM412.9 309.2h.8v.8h-.8zM411.1 301.7h.8v.8h-.8zM416.2 301.3h.8v.8h-.8zM413.2 300.8h.8v.8h-.8zM417.3 293.4h.8v.8h-.8zM417.0 305.7h.8v.8h-.8z" fill="#000" fill-opacity="0.25"/>
<line x1="403.70" y1="326.50" x2="461.60" y2="326.50" stroke="#222" stroke-width="1.2"/>
<line x1="403.90" y1="268.00" x2="403.90" y2="327.10" stroke="#222" stroke-width="1.3"/>
<line x1="401.90" y1="326.50" x2="403.70" y2="326.50" stroke="#222" stroke-width="0.9"/>
<line x1="401.90" y1="312.00" x2="403.70" y2="312.00" stroke="#222" stroke-width="0.9"/>
<line x1="401.90" y1="297.50" x2="403.70" y2="297.50" stroke="#222" stroke-width="0.9"/>
<line x1="401.90" y1="283.00" x2="403.70" y2="283.00" stroke="#222" stroke-width="0.9"/>
<line x1="401.90" y1="268.50" x2="403.70" y2="268.50" stroke="#222" stroke-width="0.9"/>
<line x1="404.70" y1="326.50" x2="404.70" y2="328.10" stroke="#333" stroke-width="0.7"/>
<line x1="407.55" y1="326.50" x2="407.55" y2="327.50" stroke="#333" stroke-width="0.7"/>
<line x1="410.39" y1="326.50" x2="410.39" y2="328.10" stroke="#333" stroke-width="0.7"/>
<line x1="413.24" y1="326.50" x2="413.24" y2="327.50" stroke="#333" stroke-width="0.7"/>
<line x1="416.08" y1="326.50" x2="416.08" y2="328.10" stroke="#333" stroke-width="0.7"/>
<line x1="418.93" y1="326.50" x2="418.93" y2="327.50" stroke="#333" stroke-width="0.7"/>
<line x1="421.77" y1="326.50" x2="421.77" y2="328.10" stroke="#333" stroke-width="0.7"/>
<line x1="424.62" y1="326.50" x2="424.62" y2="327.50" stroke="#333" stroke-width="0.7"/>
<line x1="427.46" y1="326.50" x2="427.46" y2="328.10" stroke="#333" stroke-width="0.7"/>
<line x1="430.31" y1="326.50" x2="430.31" y2="327.50" stroke="#333" stroke-width="0.7"/>
<line x1="433.15" y1="326.50" x2="433.15" y2="328.10" stroke="#333" stroke-width="0.7"/>
<line x1="436.00" y1="326.50" x2="436.00" y2="327.50" stroke="#333" stroke-width="0.7"/>
<line x1="438.84" y1="326.50" x2="438.84" y2="328.10" stroke="#333" stroke-width="0.7"/>
<line x1="441.69" y1="326.50" x2="441.69" y2="327.50" stroke="#333" stroke-width="0.7"/>
<line x1="444.53" y1="326.50" x2="444.53" y2="328.10" stroke="#333" stroke-width="0.7"/>
<line x1="447.38" y1="326.50" x2="447.38" y2="327.50" stroke="#333" stroke-width="0.7"/>
<line x1="450.22" y1="326.50" x2="450.22" y2="328.10" stroke="#333" stroke-width="0.7"/>
<line x1="453.06" y1="326.50" x2="453.06" y2="327.50" stroke="#333" stroke-width="0.7"/>
<line x1="455.91" y1="326.50" x2="455.91" y2="328.10" stroke="#333" stroke-width="0.7"/>
<line x1="458.75" y1="326.50" x2="458.75" y2="327.50" stroke="#333" stroke-width="0.7"/>
<line x1="461.60" y1="326.50" x2="461.60" y2="328.10" stroke="#333" stroke-width="0.7"/>
<text x="408.70" y="277.30" font-size="6.9" text-anchor="start" font-weight="normal" fill="#111" stroke="#111" stroke-width="0.1">2.1</text>
<text x="431.70" y="265.80" font-size="8.8" text-anchor="middle" font-weight="normal" fill="#111" stroke="#111" stroke-width="0.08">4</text>
<text x="432.00" y="334.30" font-size="5.7" text-anchor="middle" font-weight="normal" fill="#222" textLength="43" lengthAdjust="spacingAndGlyphs" stroke="#222" stroke-width="0.12">200 400 600 800</text>
<text x="433.00" y="341.00" font-size="5.9" text-anchor="middle" font-weight="normal" fill="#222" stroke="#222" stroke-width="0.15">FSC-H</text>
<line x1="461.60" y1="268.50" x2="519.50" y2="268.50" stroke="#777" stroke-width="1"/>
<line x1="519.50" y1="268.50" x2="519.50" y2="326.50" stroke="#777" stroke-width="1"/>
<line x1="480.50" y1="268.50" x2="480.50" y2="326.50" stroke="#aaa" stroke-width="0.9"/>
<line x1="461.60" y1="308.50" x2="519.50" y2="308.50" stroke="#777" stroke-width="0.9"/>
<rect x="464.0" y="308.5" width="14.5" height="15.5" rx="5.8" ry="6.2" fill="#000" fill-opacity="0.38" filter="url(#bl)"/>
<rect x="465.5" y="311.0" width="11.5" height="9.5" rx="4.6" ry="3.8" fill="#000" fill-opacity="0.72" filter="url(#bl)"/>
<path d="M471.0 318.7h.8v.8h-.8zM467.7 320.9h.8v.8h-.8zM482.3 312.8h.8v.8h-.8zM476.3 316.3h.8v.8h-.8zM470.0 314.6h.8v.8h-.8zM470.6 311.5h.8v.8h-.8zM466.3 323.1h.8v.8h-.8zM471.2 318.7h.8v.8h-.8zM472.4 318.4h.8v.8h-.8zM465.7 312.7h.8v.8h-.8zM473.5 320.5h.8v.8h-.8zM467.1 314.2h.8v.8h-.8zM467.4 319.1h.8v.8h-.8zM472.5 316.6h.8v.8h-.8zM468.9 317.9h.8v.8h-.8zM471.4 313.5h.8v.8h-.8zM472.5 313.8h.8v.8h-.8zM474.7 319.0h.8v.8h-.8zM468.8 318.8h.8v.8h-.8zM471.5 313.7h.8v.8h-.8zM467.9 309.8h.8v.8h-.8zM467.2 317.9h.8v.8h-.8zM475.6 314.0h.8v.8h-.8zM471.8 317.9h.8v.8h-.8zM474.1 318.3h.8v.8h-.8zM475.7 319.6h.8v.8h-.8zM468.5 318.1h.8v.8h-.8zM462.8 315.8h.8v.8h-.8zM471.3 318.8h.8v.8h-.8zM470.2 319.8h.8v.8h-.8zM476.0 313.1h.8v.8h-.8zM469.3 317.5h.8v.8h-.8zM473.0 317.1h.8v.8h-.8zM474.3 311.8h.8v.8h-.8zM474.1 321.2h.8v.8h-.8zM475.3 318.2h.8v.8h-.8zM470.4 318.1h.8v.8h-.8zM471.0 310.2h.8v.8h-.8zM469.1 316.3h.8v.8h-.8zM469.4 312.8h.8v.8h-.8zM470.4 315.0h.8v.8h-.8zM471.5 316.3h.8v.8h-.8zM471.9 320.5h.8v.8h-.8zM471.7 318.1h.8v.8h-.8zM466.8 304.7h.8v.8h-.8zM469.8 319.2h.8v.8h-.8zM470.0 314.0h.8v.8h-.8zM466.8 320.1h.8v.8h-.8zM469.3 317.5h.8v.8h-.8zM475.3 318.6h.8v.8h-.8zM479.4 316.0h.8v.8h-.8zM474.7 319.3h.8v.8h-.8zM468.9 316.7h.8v.8h-.8zM469.2 312.4h.8v.8h-.8zM472.3 313.4h.8v.8h-.8zM477.3 313.5h.8v.8h-.8zM469.3 316.9h.8v.8h-.8zM469.4 316.7h.8v.8h-.8zM469.0 310.8h.8v.8h-.8zM462.5 311.3h.8v.8h-.8zM476.8 318.3h.8v.8h-.8zM471.8 314.6h.8v.8h-.8zM470.7 317.7h.8v.8h-.8zM466.2 313.3h.8v.8h-.8zM468.0 321.5h.8v.8h-.8zM467.4 321.2h.8v.8h-.8zM469.6 327.4h.8v.8h-.8zM471.0 316.6h.8v.8h-.8zM476.1 320.0h.8v.8h-.8zM474.7 312.2h.8v.8h-.8zM475.4 323.2h.8v.8h-.8zM470.9 314.6h.8v.8h-.8zM467.3 320.6h.8v.8h-.8zM472.3 316.5h.8v.8h-.8zM466.8 323.0h.8v.8h-.8zM474.4 316.4h.8v.8h-.8zM476.6 312.7h.8v.8h-.8zM474.4 312.5h.8v.8h-.8zM476.4 315.4h.8v.8h-.8zM475.7 314.8h.8v.8h-.8zM472.7 321.1h.8v.8h-.8zM468.0 316.9h.8v.8h-.8zM468.2 319.9h.8v.8h-.8zM469.1 315.0h.8v.8h-.8zM470.5 321.2h.8v.8h-.8zM467.5 316.4h.8v.8h-.8zM470.1 314.3h.8v.8h-.8zM468.4 315.9h.8v.8h-.8zM472.0 310.3h.8v.8h-.8zM472.1 311.8h.8v.8h-.8zM471.3 325.6h.8v.8h-.8zM467.7 316.2h.8v.8h-.8zM470.3 320.4h.8v.8h-.8zM469.5 309.4h.8v.8h-.8zM465.4 317.2h.8v.8h-.8zM472.2 320.8h.8v.8h-.8zM469.3 319.2h.8v.8h-.8zM467.4 321.7h.8v.8h-.8zM471.0 313.8h.8v.8h-.8zM471.9 323.5h.8v.8h-.8zM468.2 311.5h.8v.8h-.8zM467.6 311.9h.8v.8h-.8zM471.1 317.9h.8v.8h-.8zM470.7 317.3h.8v.8h-.8zM475.5 315.3h.8v.8h-.8zM466.7 307.4h.8v.8h-.8zM472.1 313.8h.8v.8h-.8zM470.3 318.1h.8v.8h-.8zM472.9 310.2h.8v.8h-.8zM467.8 316.8h.8v.8h-.8zM470.7 321.1h.8v.8h-.8zM469.4 308.2h.8v.8h-.8zM475.5 310.0h.8v.8h-.8zM467.7 318.1h.8v.8h-.8zM467.4 326.5h.8v.8h-.8zM472.1 318.6h.8v.8h-.8zM469.7 325.4h.8v.8h-.8zM473.2 313.6h.8v.8h-.8zM475.8 309.7h.8v.8h-.8zM469.1 317.7h.8v.8h-.8zM471.8 312.7h.8v.8h-.8zM477.0 322.4h.8v.8h-.8zM467.9 318.0h.8v.8h-.8zM469.0 314.8h.8v.8h-.8zM474.8 317.0h.8v.8h-.8zM470.9 316.9h.8v.8h-.8zM467.0 321.4h.8v.8h-.8zM468.5 321.7h.8v.8h-.8zM469.6 314.7h.8v.8h-.8zM476.6 317.3h.8v.8h-.8zM468.9 314.4h.8v.8h-.8zM473.4 324.0h.8v.8h-.8zM473.5 314.9h.8v.8h-.8zM467.2 313.8h.8v.8h-.8zM470.8 317.5h.8v.8h-.8zM468.9 321.6h.8v.8h-.8zM467.8 313.6h.8v.8h-.8zM473.1 318.4h.8v.8h-.8zM469.8 320.3h.8v.8h-.8zM466.1 323.0h.8v.8h-.8zM479.2 324.3h.8v.8h-.8zM471.7 324.4h.8v.8h-.8zM471.4 321.8h.8v.8h-.8zM470.5 317.3h.8v.8h-.8zM473.2 309.5h.8v.8h-.8zM470.5 323.4h.8v.8h-.8zM460.7 318.0h.8v.8h-.8zM474.6 317.8h.8v.8h-.8zM472.0 322.0h.8v.8h-.8zM472.5 308.9h.8v.8h-.8zM467.8 315.3h.8v.8h-.8zM471.8 314.7h.8v.8h-.8zM470.9 323.2h.8v.8h-.8zM460.6 321.1h.8v.8h-.8zM474.6 318.9h.8v.8h-.8zM471.3 316.8h.8v.8h-.8zM472.6 317.5h.8v.8h-.8zM468.6 319.6h.8v.8h-.8zM468.3 316.3h.8v.8h-.8zM470.0 311.9h.8v.8h-.8zM473.4 316.2h.8v.8h-.8zM467.0 316.2h.8v.8h-.8zM466.3 322.2h.8v.8h-.8zM473.1 324.4h.8v.8h-.8zM469.2 319.3h.8v.8h-.8zM467.7 313.1h.8v.8h-.8zM470.9 318.1h.8v.8h-.8zM474.6 315.4h.8v.8h-.8zM475.2 320.4h.8v.8h-.8zM468.1 315.8h.8v.8h-.8zM467.9 323.3h.8v.8h-.8zM469.3 320.0h.8v.8h-.8zM474.6 315.5h.8v.8h-.8zM469.5 317.9h.8v.8h-.8zM468.4 311.5h.8v.8h-.8zM467.8 317.9h.8v.8h-.8zM471.9 323.5h.8v.8h-.8zM464.6 318.5h.8v.8h-.8zM467.1 321.1h.8v.8h-.8zM473.8 317.0h.8v.8h-.8zM476.6 315.0h.8v.8h-.8zM469.3 312.3h.8v.8h-.8zM468.9 317.0h.8v.8h-.8zM473.7 321.6h.8v.8h-.8zM470.3 313.6h.8v.8h-.8zM470.0 314.8h.8v.8h-.8zM469.6 314.9h.8v.8h-.8zM468.1 316.3h.8v.8h-.8zM469.4 315.8h.8v.8h-.8zM466.3 317.1h.8v.8h-.8zM473.3 319.1h.8v.8h-.8zM469.3 312.0h.8v.8h-.8zM466.6 311.8h.8v.8h-.8zM468.9 315.3h.8v.8h-.8zM464.9 319.2h.8v.8h-.8zM465.7 313.8h.8v.8h-.8zM468.7 319.8h.8v.8h-.8zM477.9 315.1h.8v.8h-.8zM470.3 314.9h.8v.8h-.8zM470.5 315.8h.8v.8h-.8zM480.1 312.2h.8v.8h-.8zM470.9 313.4h.8v.8h-.8zM472.5 314.4h.8v.8h-.8zM473.3 312.2h.8v.8h-.8zM478.8 317.3h.8v.8h-.8zM464.9 319.3h.8v.8h-.8zM469.6 311.9h.8v.8h-.8zM472.8 314.5h.8v.8h-.8zM473.9 314.3h.8v.8h-.8zM474.5 317.1h.8v.8h-.8zM472.5 317.1h.8v.8h-.8zM469.9 315.1h.8v.8h-.8zM472.9 319.3h.8v.8h-.8zM469.8 325.3h.8v.8h-.8zM477.3 312.0h.8v.8h-.8zM475.1 316.2h.8v.8h-.8zM472.1 313.4h.8v.8h-.8zM477.2 313.2h.8v.8h-.8zM471.0 313.6h.8v.8h-.8zM478.2 321.5h.8v.8h-.8zM466.5 314.7h.8v.8h-.8zM472.6 314.8h.8v.8h-.8zM470.0 312.3h.8v.8h-.8zM472.1 312.2h.8v.8h-.8zM474.2 326.0h.8v.8h-.8zM470.1 323.0h.8v.8h-.8zM472.6 313.9h.8v.8h-.8zM470.0 312.7h.8v.8h-.8zM471.7 319.3h.8v.8h-.8zM474.6 315.4h.8v.8h-.8zM467.0 316.2h.8v.8h-.8zM477.2 317.6h.8v.8h-.8zM471.0 308.3h.8v.8h-.8zM469.7 318.6h.8v.8h-.8zM467.9 321.8h.8v.8h-.8zM469.2 313.1h.8v.8h-.8zM469.2 316.1h.8v.8h-.8zM474.8 314.3h.8v.8h-.8zM464.9 316.2h.8v.8h-.8zM473.1 322.6h.8v.8h-.8zM467.2 322.3h.8v.8h-.8zM473.7 318.3h.8v.8h-.8zM468.5 313.0h.8v.8h-.8zM467.8 320.2h.8v.8h-.8zM472.0 320.7h.8v.8h-.8zM477.7 316.6h.8v.8h-.8zM471.1 324.0h.8v.8h-.8zM466.6 314.8h.8v.8h-.8zM469.9 315.0h.8v.8h-.8zM471.8 313.2h.8v.8h-.8zM475.4 311.2h.8v.8h-.8zM468.3 309.9h.8v.8h-.8zM466.3 318.8h.8v.8h-.8zM473.5 315.7h.8v.8h-.8zM474.3 318.9h.8v.8h-.8zM469.2 316.4h.8v.8h-.8zM472.6 324.4h.8v.8h-.8zM469.7 318.0h.8v.8h-.8zM473.2 321.3h.8v.8h-.8zM472.8 320.7h.8v.8h-.8zM467.5 315.5h.8v.8h-.8zM464.3 316.3h.8v.8h-.8zM479.6 317.5h.8v.8h-.8zM471.6 317.6h.8v.8h-.8zM471.8 311.3h.8v.8h-.8zM468.8 315.8h.8v.8h-.8zM471.9 313.1h.8v.8h-.8zM470.9 313.7h.8v.8h-.8zM466.5 313.9h.8v.8h-.8zM468.4 319.8h.8v.8h-.8zM476.0 318.8h.8v.8h-.8zM470.5 314.3h.8v.8h-.8zM465.7 314.5h.8v.8h-.8zM476.8 321.0h.8v.8h-.8zM472.1 315.6h.8v.8h-.8zM471.3 318.2h.8v.8h-.8zM471.2 318.2h.8v.8h-.8zM468.5 316.7h.8v.8h-.8zM470.0 320.7h.8v.8h-.8zM466.8 321.6h.8v.8h-.8zM470.9 314.6h.8v.8h-.8zM471.3 317.0h.8v.8h-.8zM470.4 318.2h.8v.8h-.8zM469.2 309.9h.8v.8h-.8zM473.7 316.4h.8v.8h-.8zM477.2 318.0h.8v.8h-.8zM464.1 321.4h.8v.8h-.8zM468.8 318.7h.8v.8h-.8zM479.2 320.8h.8v.8h-.8zM467.4 316.2h.8v.8h-.8zM465.5 319.1h.8v.8h-.8zM473.3 312.5h.8v.8h-.8zM472.9 320.2h.8v.8h-.8zM474.1 313.9h.8v.8h-.8zM468.8 312.2h.8v.8h-.8zM466.6 317.8h.8v.8h-.8zM471.4 321.6h.8v.8h-.8zM472.2 315.3h.8v.8h-.8zM466.2 322.5h.8v.8h-.8zM471.8 316.4h.8v.8h-.8zM467.7 312.4h.8v.8h-.8zM473.5 312.7h.8v.8h-.8zM473.3 319.0h.8v.8h-.8zM469.9 310.2h.8v.8h-.8zM472.7 322.0h.8v.8h-.8zM468.3 311.6h.8v.8h-.8zM475.1 317.1h.8v.8h-.8zM469.0 321.3h.8v.8h-.8zM470.3 318.3h.8v.8h-.8zM469.8 313.6h.8v.8h-.8zM472.0 313.2h.8v.8h-.8zM464.9 314.4h.8v.8h-.8zM475.6 320.8h.8v.8h-.8zM479.0 320.4h.8v.8h-.8zM477.0 317.5h.8v.8h-.8zM469.7 318.3h.8v.8h-.8zM467.9 319.4h.8v.8h-.8zM469.7 317.5h.8v.8h-.8zM468.2 316.0h.8v.8h-.8zM474.7 315.7h.8v.8h-.8zM468.9 317.6h.8v.8h-.8zM474.4 315.8h.8v.8h-.8zM467.1 310.5h.8v.8h-.8zM466.5 320.7h.8v.8h-.8zM470.9 318.4h.8v.8h-.8zM475.1 317.6h.8v.8h-.8zM473.0 314.6h.8v.8h-.8zM465.5 319.0h.8v.8h-.8zM470.9 318.8h.8v.8h-.8zM467.5 316.0h.8v.8h-.8zM478.4 313.3h.8v.8h-.8zM471.6 321.6h.8v.8h-.8zM470.4 317.0h.8v.8h-.8zM463.7 319.5h.8v.8h-.8zM469.7 321.5h.8v.8h-.8zM470.9 315.1h.8v.8h-.8zM472.8 315.6h.8v.8h-.8zM469.4 322.5h.8v.8h-.8zM474.7 317.0h.8v.8h-.8zM474.1 319.7h.8v.8h-.8zM473.3 316.7h.8v.8h-.8zM471.5 318.1h.8v.8h-.8zM473.3 317.9h.8v.8h-.8zM469.3 316.3h.8v.8h-.8zM472.9 312.8h.8v.8h-.8zM471.2 319.5h.8v.8h-.8zM471.8 315.5h.8v.8h-.8zM471.2 314.7h.8v.8h-.8zM474.7 315.1h.8v.8h-.8zM465.3 311.9h.8v.8h-.8zM472.3 317.4h.8v.8h-.8zM469.6 311.5h.8v.8h-.8zM470.7 313.3h.8v.8h-.8zM468.9 316.6h.8v.8h-.8zM468.5 317.8h.8v.8h-.8zM468.6 314.8h.8v.8h-.8zM470.4 322.2h.8v.8h-.8zM476.8 320.2h.8v.8h-.8zM468.6 316.6h.8v.8h-.8zM474.5 319.7h.8v.8h-.8zM465.5 316.3h.8v.8h-.8zM468.6 319.4h.8v.8h-.8zM473.5 314.5h.8v.8h-.8zM478.9 315.5h.8v.8h-.8zM479.9 315.9h.8v.8h-.8zM470.9 323.8h.8v.8h-.8zM469.4 314.8h.8v.8h-.8zM476.5 316.4h.8v.8h-.8zM472.9 311.7h.8v.8h-.8zM477.6 320.3h.8v.8h-.8zM472.5 319.3h.8v.8h-.8zM469.5 314.7h.8v.8h-.8zM465.7 318.0h.8v.8h-.8zM475.6 319.8h.8v.8h-.8zM474.5 319.3h.8v.8h-.8zM468.0 311.6h.8v.8h-.8zM473.5 317.2h.8v.8h-.8zM474.7 315.5h.8v.8h-.8zM468.1 318.3h.8v.8h-.8zM469.3 310.3h.8v.8h-.8zM469.1 313.2h.8v.8h-.8zM467.3 314.5h.8v.8h-.8zM474.6 325.5h.8v.8h-.8zM477.4 315.0h.8v.8h-.8zM475.3 316.3h.8v.8h-.8zM472.7 314.0h.8v.8h-.8zM471.0 310.2h.8v.8h-.8zM477.6 313.6h.8v.8h-.8zM473.3 314.3h.8v.8h-.8zM472.2 312.1h.8v.8h-.8zM469.9 320.0h.8v.8h-.8zM473.4 309.2h.8v.8h-.8zM474.3 311.6h.8v.8h-.8zM472.3 318.5h.8v.8h-.8zM469.0 315.4h.8v.8h-.8zM470.4 318.1h.8v.8h-.8zM474.5 321.8h.8v.8h-.8zM472.4 324.2h.8v.8h-.8zM467.9 323.3h.8v.8h-.8zM470.3 319.5h.8v.8h-.8z" fill="#000" fill-opacity="0.5"/>
<path d="M470.7 302.3h.8v.8h-.8zM468.8 303.3h.8v.8h-.8zM476.0 302.6h.8v.8h-.8zM470.9 302.1h.8v.8h-.8zM472.7 301.4h.8v.8h-.8zM471.0 302.8h.8v.8h-.8zM474.2 305.2h.8v.8h-.8zM468.4 300.0h.8v.8h-.8zM471.0 304.9h.8v.8h-.8zM473.4 301.4h.8v.8h-.8zM476.2 301.5h.8v.8h-.8zM474.4 306.8h.8v.8h-.8zM474.9 302.7h.8v.8h-.8zM472.4 297.0h.8v.8h-.8zM466.6 300.0h.8v.8h-.8zM472.8 305.6h.8v.8h-.8zM470.7 305.5h.8v.8h-.8zM472.4 307.1h.8v.8h-.8zM467.1 299.3h.8v.8h-.8zM468.7 298.6h.8v.8h-.8zM475.0 299.0h.8v.8h-.8zM469.0 300.7h.8v.8h-.8zM473.2 300.5h.8v.8h-.8zM472.8 303.9h.8v.8h-.8zM469.4 294.2h.8v.8h-.8zM468.8 297.9h.8v.8h-.8zM475.0 299.7h.8v.8h-.8zM468.4 303.3h.8v.8h-.8zM471.1 298.9h.8v.8h-.8zM473.7 305.1h.8v.8h-.8zM471.7 299.5h.8v.8h-.8zM468.9 295.2h.8v.8h-.8zM471.9 303.4h.8v.8h-.8zM468.7 302.1h.8v.8h-.8zM479.0 298.3h.8v.8h-.8zM466.8 304.1h.8v.8h-.8zM470.0 300.4h.8v.8h-.8zM472.5 301.6h.8v.8h-.8zM473.4 303.8h.8v.8h-.8zM473.8 302.4h.8v.8h-.8zM465.7 306.6h.8v.8h-.8zM466.8 305.5h.8v.8h-.8zM471.6 297.4h.8v.8h-.8zM471.2 305.0h.8v.8h-.8zM468.5 302.2h.8v.8h-.8z" fill="#000" fill-opacity="0.25"/>
<line x1="461.60" y1="326.50" x2="519.50" y2="326.50" stroke="#222" stroke-width="1.2"/>
<line x1="461.80" y1="268.00" x2="461.80" y2="327.10" stroke="#222" stroke-width="1.3"/>
<line x1="459.80" y1="326.50" x2="461.60" y2="326.50" stroke="#222" stroke-width="0.9"/>
<line x1="459.80" y1="312.00" x2="461.60" y2="312.00" stroke="#222" stroke-width="0.9"/>
<line x1="459.80" y1="297.50" x2="461.60" y2="297.50" stroke="#222" stroke-width="0.9"/>
<line x1="459.80" y1="283.00" x2="461.60" y2="283.00" stroke="#222" stroke-width="0.9"/>
<line x1="459.80" y1="268.50" x2="461.60" y2="268.50" stroke="#222" stroke-width="0.9"/>
<line x1="462.60" y1="326.50" x2="462.60" y2="328.10" stroke="#333" stroke-width="0.7"/>
<line x1="465.45" y1="326.50" x2="465.45" y2="327.50" stroke="#333" stroke-width="0.7"/>
<line x1="468.29" y1="326.50" x2="468.29" y2="328.10" stroke="#333" stroke-width="0.7"/>
<line x1="471.14" y1="326.50" x2="471.14" y2="327.50" stroke="#333" stroke-width="0.7"/>
<line x1="473.98" y1="326.50" x2="473.98" y2="328.10" stroke="#333" stroke-width="0.7"/>
<line x1="476.83" y1="326.50" x2="476.83" y2="327.50" stroke="#333" stroke-width="0.7"/>
<line x1="479.67" y1="326.50" x2="479.67" y2="328.10" stroke="#333" stroke-width="0.7"/>
<line x1="482.52" y1="326.50" x2="482.52" y2="327.50" stroke="#333" stroke-width="0.7"/>
<line x1="485.36" y1="326.50" x2="485.36" y2="328.10" stroke="#333" stroke-width="0.7"/>
<line x1="488.21" y1="326.50" x2="488.21" y2="327.50" stroke="#333" stroke-width="0.7"/>
<line x1="491.05" y1="326.50" x2="491.05" y2="328.10" stroke="#333" stroke-width="0.7"/>
<line x1="493.90" y1="326.50" x2="493.90" y2="327.50" stroke="#333" stroke-width="0.7"/>
<line x1="496.74" y1="326.50" x2="496.74" y2="328.10" stroke="#333" stroke-width="0.7"/>
<line x1="499.59" y1="326.50" x2="499.59" y2="327.50" stroke="#333" stroke-width="0.7"/>
<line x1="502.43" y1="326.50" x2="502.43" y2="328.10" stroke="#333" stroke-width="0.7"/>
<line x1="505.28" y1="326.50" x2="505.28" y2="327.50" stroke="#333" stroke-width="0.7"/>
<line x1="508.12" y1="326.50" x2="508.12" y2="328.10" stroke="#333" stroke-width="0.7"/>
<line x1="510.97" y1="326.50" x2="510.97" y2="327.50" stroke="#333" stroke-width="0.7"/>
<line x1="513.81" y1="326.50" x2="513.81" y2="328.10" stroke="#333" stroke-width="0.7"/>
<line x1="516.65" y1="326.50" x2="516.65" y2="327.50" stroke="#333" stroke-width="0.7"/>
<line x1="519.50" y1="326.50" x2="519.50" y2="328.10" stroke="#333" stroke-width="0.7"/>
<text x="466.90" y="277.30" font-size="6.9" text-anchor="start" font-weight="normal" fill="#111" stroke="#111" stroke-width="0.1">2.7</text>
<text x="489.90" y="265.80" font-size="8.8" text-anchor="middle" font-weight="normal" fill="#111" stroke="#111" stroke-width="0.08">5</text>
<text x="489.90" y="334.30" font-size="5.7" text-anchor="middle" font-weight="normal" fill="#222" textLength="43" lengthAdjust="spacingAndGlyphs" stroke="#222" stroke-width="0.12">200 400 600 800</text>
<text x="490.90" y="341.00" font-size="5.9" text-anchor="middle" font-weight="normal" fill="#222" stroke="#222" stroke-width="0.15">FSC-H</text>
</svg></body></html>
